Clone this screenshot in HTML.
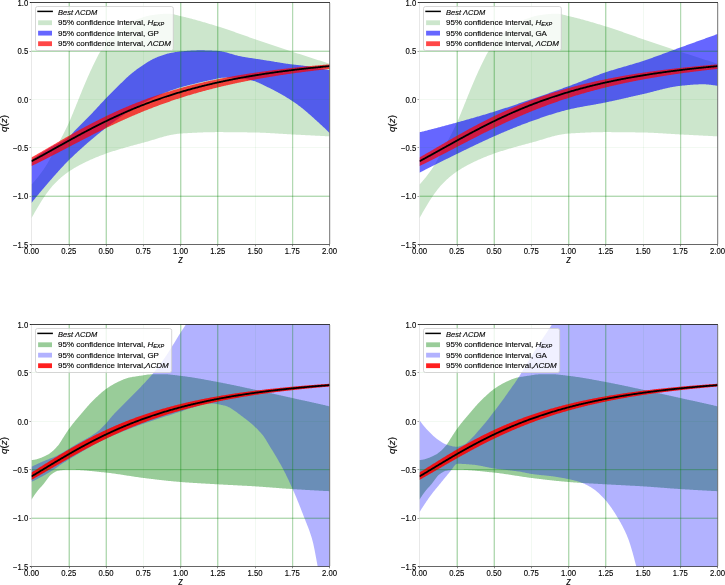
<!DOCTYPE html><html><head><meta charset="utf-8"><style>
html,body{margin:0;padding:0;background:#fff;width:725px;height:585px;overflow:hidden}
svg{display:block;will-change:transform} text{font-family:"Liberation Sans",sans-serif}
</style></head><body>
<svg width="725" height="585" viewBox="0 0 725 585">
<rect width="725" height="585" fill="#fff"/>
<clipPath id="clipTL"><rect x="31.50" y="2.50" width="298.00" height="242.00"/></clipPath>
<g clip-path="url(#clipTL)">
<path d="M31.50,184.48 L32.24,183.70 L32.99,182.89 L33.73,182.07 L34.48,181.22 L35.23,180.36 L35.97,179.48 L36.72,178.57 L37.46,177.66 L38.20,176.72 L38.95,175.77 L39.70,174.80 L40.44,173.82 L41.19,172.81 L41.93,171.79 L42.67,170.74 L43.42,169.67 L44.16,168.57 L44.91,167.45 L45.66,166.30 L46.40,165.12 L47.14,163.90 L47.89,162.62 L48.64,161.30 L49.38,159.94 L50.12,158.55 L50.87,157.15 L51.62,155.74 L52.36,154.33 L53.10,152.94 L53.85,151.57 L54.59,150.22 L55.34,148.88 L56.09,147.55 L56.83,146.22 L57.58,144.88 L58.32,143.54 L59.06,142.19 L59.81,140.82 L60.55,139.43 L61.30,138.02 L62.05,136.59 L62.79,135.16 L63.53,133.71 L64.28,132.26 L65.03,130.78 L65.77,129.28 L66.52,127.76 L67.26,126.21 L68.00,124.63 L68.75,123.02 L69.50,121.36 L70.24,119.64 L70.98,117.89 L71.73,116.10 L72.47,114.29 L73.22,112.46 L73.97,110.62 L74.71,108.77 L75.45,106.93 L76.20,105.11 L76.94,103.28 L77.69,101.44 L78.44,99.58 L79.18,97.71 L79.93,95.85 L80.67,93.99 L81.42,92.14 L82.16,90.31 L82.91,88.50 L83.65,86.72 L84.39,84.95 L85.14,83.20 L85.88,81.45 L86.63,79.72 L87.38,78.00 L88.12,76.31 L88.87,74.63 L89.61,72.98 L90.36,71.36 L91.10,69.78 L91.84,68.20 L92.59,66.62 L93.34,65.04 L94.08,63.47 L94.82,61.91 L95.57,60.38 L96.31,58.88 L97.06,57.41 L97.81,55.99 L98.55,54.62 L99.30,53.31 L100.04,52.07 L100.78,50.90 L101.53,49.78 L102.28,48.69 L103.02,47.63 L103.77,46.59 L104.51,45.58 L105.25,44.60 L106.00,43.64 L106.75,42.71 L107.49,41.80 L108.23,40.92 L108.98,40.06 L109.73,39.23 L110.47,38.42 L111.22,37.63 L111.96,36.87 L112.71,36.13 L113.45,35.41 L114.20,34.71 L114.94,34.01 L115.69,33.32 L116.43,32.64 L117.18,31.96 L117.92,31.29 L118.66,30.64 L119.41,29.99 L120.16,29.36 L120.90,28.74 L121.64,28.14 L122.39,27.54 L123.14,26.97 L123.88,26.40 L124.62,25.86 L125.37,25.33 L126.11,24.83 L126.86,24.34 L127.61,23.87 L128.35,23.42 L129.09,23.00 L129.84,22.59 L130.59,22.21 L131.33,21.86 L132.07,21.52 L132.82,21.18 L133.56,20.85 L134.31,20.53 L135.06,20.21 L135.80,19.89 L136.54,19.59 L137.29,19.29 L138.03,18.99 L138.78,18.70 L139.52,18.42 L140.27,18.15 L141.01,17.89 L141.76,17.63 L142.50,17.38 L143.25,17.14 L144.00,16.91 L144.74,16.69 L145.49,16.48 L146.23,16.28 L146.98,16.09 L147.72,15.91 L148.47,15.75 L149.21,15.59 L149.96,15.44 L150.70,15.31 L151.44,15.19 L152.19,15.08 L152.94,14.98 L153.68,14.88 L154.43,14.78 L155.17,14.69 L155.91,14.59 L156.66,14.50 L157.41,14.41 L158.15,14.32 L158.89,14.24 L159.64,14.16 L160.38,14.08 L161.13,14.01 L161.88,13.94 L162.62,13.88 L163.37,13.83 L164.11,13.78 L164.85,13.73 L165.60,13.70 L166.34,13.67 L167.09,13.65 L167.84,13.64 L168.58,13.63 L169.33,13.65 L170.07,13.70 L170.81,13.78 L171.56,13.88 L172.31,14.01 L173.05,14.16 L173.80,14.32 L174.54,14.50 L175.28,14.69 L176.03,14.89 L176.78,15.09 L177.52,15.29 L178.26,15.49 L179.01,15.69 L179.75,15.88 L180.50,16.05 L181.25,16.22 L181.99,16.40 L182.74,16.57 L183.48,16.75 L184.22,16.93 L184.97,17.11 L185.71,17.29 L186.46,17.48 L187.20,17.66 L187.95,17.85 L188.69,18.04 L189.44,18.23 L190.19,18.43 L190.93,18.62 L191.67,18.82 L192.42,19.02 L193.16,19.22 L193.91,19.42 L194.66,19.62 L195.40,19.83 L196.15,20.03 L196.89,20.24 L197.63,20.45 L198.38,20.65 L199.12,20.86 L199.87,21.08 L200.62,21.29 L201.36,21.50 L202.10,21.72 L202.85,21.93 L203.59,22.15 L204.34,22.37 L205.09,22.59 L205.83,22.81 L206.58,23.03 L207.32,23.25 L208.06,23.47 L208.81,23.69 L209.56,23.92 L210.30,24.14 L211.05,24.37 L211.79,24.59 L212.54,24.82 L213.28,25.04 L214.03,25.27 L214.77,25.50 L215.52,25.72 L216.26,25.95 L217.01,26.18 L217.75,26.41 L218.50,26.64 L219.24,26.87 L219.99,27.11 L220.73,27.34 L221.48,27.58 L222.22,27.82 L222.96,28.06 L223.71,28.31 L224.45,28.55 L225.20,28.80 L225.94,29.05 L226.69,29.30 L227.44,29.55 L228.18,29.80 L228.92,30.06 L229.67,30.31 L230.41,30.57 L231.16,30.82 L231.91,31.08 L232.65,31.34 L233.40,31.60 L234.14,31.86 L234.88,32.12 L235.63,32.39 L236.38,32.65 L237.12,32.91 L237.87,33.18 L238.61,33.44 L239.35,33.70 L240.10,33.97 L240.84,34.23 L241.59,34.50 L242.34,34.76 L243.08,35.03 L243.83,35.29 L244.57,35.56 L245.31,35.82 L246.06,36.08 L246.81,36.35 L247.55,36.61 L248.30,36.87 L249.04,37.13 L249.79,37.39 L250.53,37.65 L251.28,37.91 L252.02,38.17 L252.77,38.42 L253.51,38.68 L254.26,38.93 L255.00,39.19 L255.75,39.44 L256.49,39.69 L257.24,39.94 L257.98,40.20 L258.73,40.45 L259.47,40.70 L260.22,40.95 L260.96,41.21 L261.70,41.46 L262.45,41.71 L263.19,41.96 L263.94,42.21 L264.69,42.47 L265.43,42.72 L266.17,42.97 L266.92,43.22 L267.66,43.47 L268.41,43.72 L269.15,43.98 L269.90,44.23 L270.64,44.48 L271.39,44.73 L272.13,44.98 L272.88,45.23 L273.62,45.48 L274.37,45.73 L275.12,45.98 L275.86,46.23 L276.61,46.48 L277.35,46.73 L278.10,46.98 L278.84,47.23 L279.59,47.48 L280.33,47.73 L281.08,47.97 L281.82,48.22 L282.56,48.47 L283.31,48.72 L284.06,48.97 L284.80,49.21 L285.55,49.46 L286.29,49.71 L287.04,49.95 L287.78,50.20 L288.53,50.45 L289.27,50.69 L290.01,50.94 L290.76,51.18 L291.50,51.43 L292.25,51.67 L293.00,51.92 L293.74,52.16 L294.49,52.41 L295.23,52.65 L295.98,52.90 L296.72,53.14 L297.47,53.38 L298.21,53.63 L298.95,53.87 L299.70,54.11 L300.44,54.36 L301.19,54.60 L301.94,54.84 L302.68,55.08 L303.43,55.33 L304.17,55.57 L304.92,55.81 L305.66,56.05 L306.40,56.29 L307.15,56.53 L307.89,56.77 L308.64,57.01 L309.38,57.26 L310.13,57.50 L310.88,57.74 L311.62,57.98 L312.37,58.22 L313.11,58.46 L313.86,58.69 L314.60,58.93 L315.35,59.17 L316.09,59.41 L316.83,59.65 L317.58,59.89 L318.32,60.13 L319.07,60.37 L319.81,60.60 L320.56,60.84 L321.31,61.08 L322.05,61.32 L322.80,61.55 L323.54,61.79 L324.29,62.03 L325.03,62.26 L325.78,62.50 L326.52,62.74 L327.26,62.97 L328.01,63.21 L328.75,63.44 L329.50,63.68 L329.50,136.37 L328.75,136.34 L328.01,136.30 L327.26,136.26 L326.52,136.22 L325.78,136.18 L325.03,136.14 L324.29,136.10 L323.54,136.06 L322.80,136.03 L322.05,135.99 L321.31,135.95 L320.56,135.91 L319.81,135.87 L319.07,135.83 L318.32,135.79 L317.58,135.75 L316.83,135.72 L316.09,135.68 L315.35,135.64 L314.60,135.60 L313.86,135.56 L313.11,135.52 L312.37,135.48 L311.62,135.45 L310.88,135.41 L310.13,135.37 L309.38,135.33 L308.64,135.29 L307.89,135.25 L307.15,135.21 L306.40,135.17 L305.66,135.14 L304.92,135.10 L304.17,135.06 L303.43,135.02 L302.68,134.98 L301.94,134.94 L301.19,134.90 L300.44,134.86 L299.70,134.83 L298.95,134.79 L298.21,134.75 L297.47,134.71 L296.72,134.67 L295.98,134.63 L295.23,134.59 L294.49,134.55 L293.74,134.52 L293.00,134.48 L292.25,134.44 L291.50,134.40 L290.76,134.36 L290.01,134.32 L289.27,134.28 L288.53,134.23 L287.78,134.19 L287.04,134.15 L286.29,134.10 L285.55,134.06 L284.80,134.01 L284.06,133.96 L283.31,133.92 L282.56,133.87 L281.82,133.82 L281.08,133.78 L280.33,133.73 L279.59,133.68 L278.84,133.63 L278.10,133.59 L277.35,133.54 L276.61,133.49 L275.86,133.45 L275.12,133.40 L274.37,133.35 L273.62,133.31 L272.88,133.26 L272.13,133.22 L271.39,133.18 L270.64,133.13 L269.90,133.09 L269.15,133.05 L268.41,133.01 L267.66,132.97 L266.92,132.93 L266.17,132.89 L265.43,132.86 L264.69,132.82 L263.94,132.79 L263.19,132.76 L262.45,132.72 L261.70,132.69 L260.96,132.67 L260.22,132.64 L259.47,132.61 L258.73,132.59 L257.98,132.57 L257.24,132.55 L256.49,132.53 L255.75,132.52 L255.00,132.50 L254.26,132.49 L253.51,132.48 L252.77,132.46 L252.02,132.45 L251.28,132.44 L250.53,132.43 L249.79,132.41 L249.04,132.40 L248.30,132.39 L247.55,132.38 L246.81,132.37 L246.06,132.36 L245.31,132.35 L244.57,132.33 L243.83,132.32 L243.08,132.31 L242.34,132.30 L241.59,132.29 L240.84,132.28 L240.10,132.27 L239.35,132.26 L238.61,132.25 L237.87,132.25 L237.12,132.24 L236.38,132.23 L235.63,132.22 L234.88,132.21 L234.14,132.20 L233.40,132.20 L232.65,132.19 L231.91,132.18 L231.16,132.18 L230.41,132.17 L229.67,132.16 L228.92,132.16 L228.18,132.15 L227.44,132.15 L226.69,132.14 L225.94,132.14 L225.20,132.13 L224.45,132.13 L223.71,132.13 L222.96,132.12 L222.22,132.12 L221.48,132.12 L220.73,132.12 L219.99,132.12 L219.24,132.12 L218.50,132.12 L217.75,132.12 L217.01,132.12 L216.26,132.12 L215.52,132.12 L214.77,132.13 L214.03,132.13 L213.28,132.14 L212.54,132.15 L211.79,132.16 L211.05,132.17 L210.30,132.19 L209.56,132.20 L208.81,132.22 L208.06,132.23 L207.32,132.25 L206.58,132.27 L205.83,132.29 L205.09,132.31 L204.34,132.34 L203.59,132.36 L202.85,132.39 L202.10,132.41 L201.36,132.44 L200.62,132.47 L199.87,132.50 L199.12,132.53 L198.38,132.56 L197.63,132.59 L196.89,132.63 L196.15,132.66 L195.40,132.70 L194.66,132.73 L193.91,132.77 L193.16,132.81 L192.42,132.85 L191.67,132.89 L190.93,132.93 L190.19,132.97 L189.44,133.01 L188.69,133.05 L187.95,133.10 L187.20,133.14 L186.46,133.18 L185.71,133.23 L184.97,133.28 L184.22,133.32 L183.48,133.37 L182.74,133.42 L181.99,133.47 L181.25,133.52 L180.50,133.57 L179.75,133.62 L179.01,133.69 L178.26,133.76 L177.52,133.84 L176.78,133.94 L176.03,134.04 L175.28,134.14 L174.54,134.26 L173.80,134.38 L173.05,134.52 L172.31,134.65 L171.56,134.80 L170.81,134.95 L170.07,135.11 L169.33,135.27 L168.58,135.44 L167.84,135.62 L167.09,135.80 L166.34,135.99 L165.60,136.18 L164.85,136.37 L164.11,136.57 L163.37,136.77 L162.62,136.98 L161.88,137.19 L161.13,137.40 L160.38,137.62 L159.64,137.83 L158.89,138.05 L158.15,138.27 L157.41,138.50 L156.66,138.72 L155.91,138.95 L155.17,139.17 L154.43,139.40 L153.68,139.63 L152.94,139.85 L152.19,140.08 L151.44,140.30 L150.70,140.53 L149.96,140.75 L149.21,140.97 L148.47,141.19 L147.72,141.41 L146.98,141.63 L146.23,141.84 L145.49,142.05 L144.74,142.26 L144.00,142.47 L143.25,142.67 L142.50,142.87 L141.76,143.06 L141.01,143.26 L140.27,143.46 L139.52,143.66 L138.78,143.86 L138.03,144.06 L137.29,144.26 L136.54,144.46 L135.80,144.66 L135.06,144.86 L134.31,145.06 L133.56,145.26 L132.82,145.47 L132.07,145.67 L131.33,145.87 L130.59,146.08 L129.84,146.29 L129.09,146.49 L128.35,146.70 L127.61,146.91 L126.86,147.12 L126.11,147.33 L125.37,147.54 L124.62,147.75 L123.88,147.97 L123.14,148.18 L122.39,148.40 L121.64,148.62 L120.90,148.84 L120.16,149.06 L119.41,149.28 L118.66,149.50 L117.92,149.73 L117.18,149.96 L116.43,150.19 L115.69,150.42 L114.94,150.65 L114.20,150.89 L113.45,151.12 L112.71,151.36 L111.96,151.60 L111.22,151.84 L110.47,152.09 L109.73,152.34 L108.98,152.58 L108.23,152.84 L107.49,153.09 L106.75,153.35 L106.00,153.60 L105.25,153.87 L104.51,154.13 L103.77,154.40 L103.02,154.67 L102.28,154.95 L101.53,155.23 L100.78,155.51 L100.04,155.80 L99.30,156.09 L98.55,156.39 L97.81,156.69 L97.06,156.99 L96.31,157.29 L95.57,157.60 L94.82,157.92 L94.08,158.23 L93.34,158.55 L92.59,158.88 L91.84,159.21 L91.10,159.54 L90.36,159.87 L89.61,160.21 L88.87,160.56 L88.12,160.90 L87.38,161.25 L86.63,161.61 L85.88,161.96 L85.14,162.32 L84.39,162.68 L83.65,163.05 L82.91,163.42 L82.16,163.79 L81.42,164.17 L80.67,164.56 L79.93,164.95 L79.18,165.34 L78.44,165.74 L77.69,166.15 L76.94,166.56 L76.20,166.98 L75.45,167.41 L74.71,167.84 L73.97,168.28 L73.22,168.73 L72.47,169.19 L71.73,169.65 L70.98,170.13 L70.24,170.61 L69.50,171.11 L68.75,171.61 L68.00,172.12 L67.26,172.65 L66.52,173.19 L65.77,173.75 L65.03,174.32 L64.28,174.90 L63.53,175.49 L62.79,176.10 L62.05,176.73 L61.30,177.36 L60.55,178.01 L59.81,178.67 L59.06,179.35 L58.32,180.04 L57.58,180.75 L56.83,181.47 L56.09,182.20 L55.34,182.95 L54.59,183.71 L53.85,184.48 L53.10,185.28 L52.36,186.12 L51.62,186.98 L50.87,187.88 L50.12,188.80 L49.38,189.75 L48.64,190.73 L47.89,191.72 L47.14,192.74 L46.40,193.77 L45.66,194.82 L44.91,195.88 L44.16,196.95 L43.42,198.04 L42.67,199.15 L41.93,200.30 L41.19,201.49 L40.44,202.71 L39.70,203.94 L38.95,205.20 L38.20,206.46 L37.46,207.72 L36.72,208.98 L35.97,210.25 L35.23,211.54 L34.48,212.84 L33.73,214.16 L32.99,215.48 L32.24,216.82 L31.50,218.17Z" fill="rgb(204,230,204)" fill-opacity="1.0"/>
<path d="M31.50,159.80 L32.24,159.29 L32.99,158.78 L33.73,158.27 L34.48,157.77 L35.23,157.26 L35.97,156.76 L36.72,156.26 L37.46,155.77 L38.20,155.27 L38.95,154.78 L39.70,154.29 L40.44,153.81 L41.19,153.32 L41.93,152.84 L42.67,152.36 L43.42,151.88 L44.16,151.41 L44.91,150.93 L45.66,150.47 L46.40,150.00 L47.14,149.53 L47.89,149.07 L48.64,148.61 L49.38,148.15 L50.12,147.70 L50.87,147.25 L51.62,146.82 L52.36,146.41 L53.10,146.00 L53.85,145.61 L54.59,145.22 L55.34,144.84 L56.09,144.46 L56.83,144.09 L57.58,143.71 L58.32,143.34 L59.06,142.96 L59.81,142.58 L60.55,142.19 L61.30,141.80 L62.05,141.40 L62.79,140.98 L63.53,140.55 L64.28,140.11 L65.03,139.65 L65.77,139.18 L66.52,138.68 L67.26,138.16 L68.00,137.62 L68.75,137.05 L69.50,136.43 L70.24,135.72 L70.98,134.96 L71.73,134.14 L72.47,133.30 L73.22,132.44 L73.97,131.59 L74.71,130.75 L75.45,129.95 L76.20,129.18 L76.94,128.42 L77.69,127.66 L78.44,126.91 L79.18,126.17 L79.93,125.43 L80.67,124.69 L81.42,123.95 L82.16,123.22 L82.91,122.48 L83.65,121.75 L84.39,121.01 L85.14,120.27 L85.88,119.53 L86.63,118.79 L87.38,118.04 L88.12,117.29 L88.87,116.54 L89.61,115.77 L90.36,115.00 L91.10,114.23 L91.84,113.44 L92.59,112.66 L93.34,111.86 L94.08,111.07 L94.82,110.27 L95.57,109.46 L96.31,108.66 L97.06,107.85 L97.81,107.05 L98.55,106.24 L99.30,105.43 L100.04,104.62 L100.78,103.82 L101.53,103.02 L102.28,102.22 L103.02,101.42 L103.77,100.63 L104.51,99.85 L105.25,99.07 L106.00,98.29 L106.75,97.52 L107.49,96.76 L108.23,95.99 L108.98,95.23 L109.73,94.47 L110.47,93.72 L111.22,92.96 L111.96,92.21 L112.71,91.46 L113.45,90.71 L114.20,89.97 L114.94,89.23 L115.69,88.49 L116.43,87.75 L117.18,87.02 L117.92,86.28 L118.66,85.55 L119.41,84.83 L120.16,84.10 L120.90,83.37 L121.64,82.64 L122.39,81.91 L123.14,81.18 L123.88,80.45 L124.62,79.73 L125.37,79.01 L126.11,78.30 L126.86,77.60 L127.61,76.91 L128.35,76.24 L129.09,75.58 L129.84,74.94 L130.59,74.31 L131.33,73.69 L132.07,73.08 L132.82,72.47 L133.56,71.88 L134.31,71.29 L135.06,70.71 L135.80,70.14 L136.54,69.58 L137.29,69.02 L138.03,68.48 L138.78,67.94 L139.52,67.42 L140.27,66.90 L141.01,66.40 L141.76,65.90 L142.50,65.41 L143.25,64.91 L144.00,64.42 L144.74,63.94 L145.49,63.45 L146.23,62.98 L146.98,62.51 L147.72,62.05 L148.47,61.59 L149.21,61.15 L149.96,60.72 L150.70,60.29 L151.44,59.89 L152.19,59.49 L152.94,59.11 L153.68,58.74 L154.43,58.39 L155.17,58.06 L155.91,57.74 L156.66,57.43 L157.41,57.12 L158.15,56.81 L158.89,56.51 L159.64,56.22 L160.38,55.94 L161.13,55.66 L161.88,55.39 L162.62,55.13 L163.37,54.88 L164.11,54.64 L164.85,54.41 L165.60,54.19 L166.34,53.98 L167.09,53.78 L167.84,53.59 L168.58,53.42 L169.33,53.26 L170.07,53.10 L170.81,52.95 L171.56,52.80 L172.31,52.65 L173.05,52.51 L173.80,52.38 L174.54,52.25 L175.28,52.12 L176.03,52.00 L176.78,51.88 L177.52,51.77 L178.26,51.67 L179.01,51.57 L179.75,51.48 L180.50,51.40 L181.25,51.32 L181.99,51.25 L182.74,51.19 L183.48,51.13 L184.22,51.08 L184.97,51.02 L185.71,50.96 L186.46,50.91 L187.20,50.85 L187.95,50.80 L188.69,50.75 L189.44,50.70 L190.19,50.66 L190.93,50.61 L191.67,50.57 L192.42,50.53 L193.16,50.49 L193.91,50.46 L194.66,50.43 L195.40,50.40 L196.15,50.38 L196.89,50.36 L197.63,50.34 L198.38,50.33 L199.12,50.32 L199.87,50.32 L200.62,50.32 L201.36,50.32 L202.10,50.33 L202.85,50.34 L203.59,50.35 L204.34,50.36 L205.09,50.38 L205.83,50.39 L206.58,50.41 L207.32,50.43 L208.06,50.46 L208.81,50.48 L209.56,50.51 L210.30,50.54 L211.05,50.57 L211.79,50.60 L212.54,50.63 L213.28,50.67 L214.03,50.70 L214.77,50.74 L215.52,50.78 L216.26,50.82 L217.01,50.86 L217.75,50.90 L218.50,50.95 L219.24,51.02 L219.99,51.11 L220.73,51.22 L221.48,51.34 L222.22,51.48 L222.96,51.63 L223.71,51.79 L224.45,51.96 L225.20,52.15 L225.94,52.34 L226.69,52.54 L227.44,52.75 L228.18,52.97 L228.92,53.18 L229.67,53.41 L230.41,53.63 L231.16,53.85 L231.91,54.08 L232.65,54.30 L233.40,54.52 L234.14,54.74 L234.88,54.96 L235.63,55.16 L236.38,55.36 L237.12,55.56 L237.87,55.74 L238.61,55.91 L239.35,56.07 L240.10,56.22 L240.84,56.37 L241.59,56.50 L242.34,56.64 L243.08,56.77 L243.83,56.90 L244.57,57.03 L245.31,57.16 L246.06,57.28 L246.81,57.40 L247.55,57.53 L248.30,57.64 L249.04,57.76 L249.79,57.88 L250.53,57.99 L251.28,58.11 L252.02,58.22 L252.77,58.33 L253.51,58.45 L254.26,58.56 L255.00,58.67 L255.75,58.78 L256.49,58.89 L257.24,59.00 L257.98,59.11 L258.73,59.22 L259.47,59.34 L260.22,59.45 L260.96,59.56 L261.70,59.67 L262.45,59.79 L263.19,59.91 L263.94,60.02 L264.69,60.14 L265.43,60.26 L266.17,60.38 L266.92,60.50 L267.66,60.63 L268.41,60.75 L269.15,60.87 L269.90,61.00 L270.64,61.12 L271.39,61.25 L272.13,61.37 L272.88,61.50 L273.62,61.62 L274.37,61.75 L275.12,61.88 L275.86,62.00 L276.61,62.12 L277.35,62.25 L278.10,62.37 L278.84,62.49 L279.59,62.62 L280.33,62.74 L281.08,62.86 L281.82,62.98 L282.56,63.09 L283.31,63.21 L284.06,63.32 L284.80,63.44 L285.55,63.55 L286.29,63.66 L287.04,63.76 L287.78,63.87 L288.53,63.97 L289.27,64.07 L290.01,64.17 L290.76,64.27 L291.50,64.36 L292.25,64.45 L293.00,64.54 L293.74,64.62 L294.49,64.70 L295.23,64.77 L295.98,64.84 L296.72,64.91 L297.47,64.99 L298.21,65.06 L298.95,65.14 L299.70,65.23 L300.44,65.32 L301.19,65.41 L301.94,65.50 L302.68,65.59 L303.43,65.69 L304.17,65.79 L304.92,65.89 L305.66,65.99 L306.40,66.10 L307.15,66.20 L307.89,66.31 L308.64,66.42 L309.38,66.53 L310.13,66.65 L310.88,66.76 L311.62,66.88 L312.37,66.99 L313.11,67.11 L313.86,67.23 L314.60,67.36 L315.35,67.48 L316.09,67.61 L316.83,67.74 L317.58,67.87 L318.32,68.00 L319.07,68.14 L319.81,68.28 L320.56,68.42 L321.31,68.56 L322.05,68.70 L322.80,68.85 L323.54,69.00 L324.29,69.15 L325.03,69.30 L325.78,69.46 L326.52,69.62 L327.26,69.77 L328.01,69.93 L328.75,70.10 L329.50,70.26 L329.50,132.89 L328.75,132.16 L328.01,131.44 L327.26,130.72 L326.52,130.00 L325.78,129.29 L325.03,128.57 L324.29,127.86 L323.54,127.16 L322.80,126.46 L322.05,125.76 L321.31,125.07 L320.56,124.38 L319.81,123.69 L319.07,123.02 L318.32,122.34 L317.58,121.66 L316.83,120.98 L316.09,120.31 L315.35,119.63 L314.60,118.96 L313.86,118.28 L313.11,117.61 L312.37,116.94 L311.62,116.27 L310.88,115.61 L310.13,114.95 L309.38,114.29 L308.64,113.64 L307.89,112.99 L307.15,112.35 L306.40,111.71 L305.66,111.08 L304.92,110.45 L304.17,109.83 L303.43,109.22 L302.68,108.61 L301.94,108.01 L301.19,107.42 L300.44,106.84 L299.70,106.27 L298.95,105.71 L298.21,105.16 L297.47,104.62 L296.72,104.09 L295.98,103.56 L295.23,103.05 L294.49,102.54 L293.74,102.04 L293.00,101.54 L292.25,101.04 L291.50,100.55 L290.76,100.06 L290.01,99.57 L289.27,99.09 L288.53,98.61 L287.78,98.14 L287.04,97.67 L286.29,97.21 L285.55,96.76 L284.80,96.31 L284.06,95.86 L283.31,95.43 L282.56,95.00 L281.82,94.57 L281.08,94.15 L280.33,93.73 L279.59,93.31 L278.84,92.90 L278.10,92.49 L277.35,92.08 L276.61,91.68 L275.86,91.28 L275.12,90.88 L274.37,90.49 L273.62,90.10 L272.88,89.72 L272.13,89.34 L271.39,88.96 L270.64,88.59 L269.90,88.22 L269.15,87.85 L268.41,87.49 L267.66,87.13 L266.92,86.76 L266.17,86.39 L265.43,86.02 L264.69,85.64 L263.94,85.27 L263.19,84.90 L262.45,84.53 L261.70,84.17 L260.96,83.81 L260.22,83.46 L259.47,83.13 L258.73,82.80 L257.98,82.48 L257.24,82.18 L256.49,81.89 L255.75,81.62 L255.00,81.36 L254.26,81.12 L253.51,80.91 L252.77,80.70 L252.02,80.50 L251.28,80.30 L250.53,80.10 L249.79,79.91 L249.04,79.72 L248.30,79.54 L247.55,79.37 L246.81,79.20 L246.06,79.04 L245.31,78.90 L244.57,78.76 L243.83,78.63 L243.08,78.52 L242.34,78.42 L241.59,78.33 L240.84,78.25 L240.10,78.20 L239.35,78.15 L238.61,78.10 L237.87,78.06 L237.12,78.01 L236.38,77.97 L235.63,77.93 L234.88,77.89 L234.14,77.85 L233.40,77.82 L232.65,77.78 L231.91,77.75 L231.16,77.73 L230.41,77.70 L229.67,77.68 L228.92,77.66 L228.18,77.65 L227.44,77.63 L226.69,77.62 L225.94,77.62 L225.20,77.62 L224.45,77.63 L223.71,77.66 L222.96,77.71 L222.22,77.79 L221.48,77.87 L220.73,77.98 L219.99,78.10 L219.24,78.23 L218.50,78.37 L217.75,78.51 L217.01,78.67 L216.26,78.83 L215.52,79.00 L214.77,79.17 L214.03,79.33 L213.28,79.50 L212.54,79.67 L211.79,79.83 L211.05,79.99 L210.30,80.13 L209.56,80.28 L208.81,80.43 L208.06,80.58 L207.32,80.74 L206.58,80.90 L205.83,81.06 L205.09,81.23 L204.34,81.40 L203.59,81.56 L202.85,81.74 L202.10,81.91 L201.36,82.09 L200.62,82.26 L199.87,82.44 L199.12,82.62 L198.38,82.80 L197.63,82.98 L196.89,83.16 L196.15,83.34 L195.40,83.52 L194.66,83.70 L193.91,83.88 L193.16,84.06 L192.42,84.25 L191.67,84.43 L190.93,84.61 L190.19,84.80 L189.44,84.98 L188.69,85.17 L187.95,85.36 L187.20,85.55 L186.46,85.74 L185.71,85.94 L184.97,86.14 L184.22,86.34 L183.48,86.54 L182.74,86.75 L181.99,86.96 L181.25,87.17 L180.50,87.39 L179.75,87.62 L179.01,87.84 L178.26,88.07 L177.52,88.31 L176.78,88.54 L176.03,88.78 L175.28,89.03 L174.54,89.27 L173.80,89.53 L173.05,89.78 L172.31,90.04 L171.56,90.30 L170.81,90.57 L170.07,90.84 L169.33,91.11 L168.58,91.38 L167.84,91.66 L167.09,91.95 L166.34,92.23 L165.60,92.52 L164.85,92.82 L164.11,93.12 L163.37,93.43 L162.62,93.74 L161.88,94.05 L161.13,94.38 L160.38,94.70 L159.64,95.04 L158.89,95.37 L158.15,95.71 L157.41,96.06 L156.66,96.40 L155.91,96.76 L155.17,97.11 L154.43,97.47 L153.68,97.83 L152.94,98.19 L152.19,98.56 L151.44,98.93 L150.70,99.30 L149.96,99.67 L149.21,100.05 L148.47,100.43 L147.72,100.81 L146.98,101.20 L146.23,101.59 L145.49,101.98 L144.74,102.37 L144.00,102.77 L143.25,103.17 L142.50,103.58 L141.76,103.98 L141.01,104.40 L140.27,104.81 L139.52,105.23 L138.78,105.65 L138.03,106.07 L137.29,106.50 L136.54,106.93 L135.80,107.36 L135.06,107.80 L134.31,108.24 L133.56,108.68 L132.82,109.13 L132.07,109.58 L131.33,110.03 L130.59,110.49 L129.84,110.95 L129.09,111.42 L128.35,111.88 L127.61,112.36 L126.86,112.83 L126.11,113.32 L125.37,113.80 L124.62,114.30 L123.88,114.79 L123.14,115.29 L122.39,115.80 L121.64,116.31 L120.90,116.82 L120.16,117.34 L119.41,117.87 L118.66,118.39 L117.92,118.92 L117.18,119.46 L116.43,119.99 L115.69,120.54 L114.94,121.08 L114.20,121.63 L113.45,122.18 L112.71,122.74 L111.96,123.29 L111.22,123.85 L110.47,124.42 L109.73,124.98 L108.98,125.55 L108.23,126.12 L107.49,126.70 L106.75,127.28 L106.00,127.85 L105.25,128.43 L104.51,129.02 L103.77,129.60 L103.02,130.19 L102.28,130.78 L101.53,131.37 L100.78,131.97 L100.04,132.56 L99.30,133.16 L98.55,133.76 L97.81,134.37 L97.06,134.98 L96.31,135.59 L95.57,136.20 L94.82,136.81 L94.08,137.43 L93.34,138.05 L92.59,138.67 L91.84,139.30 L91.10,139.93 L90.36,140.56 L89.61,141.20 L88.87,141.83 L88.12,142.47 L87.38,143.12 L86.63,143.76 L85.88,144.41 L85.14,145.07 L84.39,145.72 L83.65,146.38 L82.91,147.04 L82.16,147.71 L81.42,148.38 L80.67,149.05 L79.93,149.73 L79.18,150.40 L78.44,151.09 L77.69,151.77 L76.94,152.46 L76.20,153.15 L75.45,153.85 L74.71,154.55 L73.97,155.25 L73.22,155.96 L72.47,156.67 L71.73,157.39 L70.98,158.11 L70.24,158.83 L69.50,159.55 L68.75,160.28 L68.00,161.02 L67.26,161.77 L66.52,162.52 L65.77,163.29 L65.03,164.06 L64.28,164.84 L63.53,165.63 L62.79,166.42 L62.05,167.23 L61.30,168.03 L60.55,168.85 L59.81,169.67 L59.06,170.49 L58.32,171.32 L57.58,172.15 L56.83,172.99 L56.09,173.83 L55.34,174.67 L54.59,175.52 L53.85,176.36 L53.10,177.21 L52.36,178.06 L51.62,178.91 L50.87,179.76 L50.12,180.61 L49.38,181.46 L48.64,182.32 L47.89,183.18 L47.14,184.04 L46.40,184.90 L45.66,185.77 L44.91,186.64 L44.16,187.52 L43.42,188.40 L42.67,189.28 L41.93,190.16 L41.19,191.05 L40.44,191.94 L39.70,192.84 L38.95,193.73 L38.20,194.63 L37.46,195.54 L36.72,196.44 L35.97,197.35 L35.23,198.27 L34.48,199.18 L33.73,200.10 L32.99,201.02 L32.24,201.95 L31.50,202.88Z" fill="rgb(0,0,255)" fill-opacity="0.6"/>
<path d="M31.50,157.48 L32.24,157.05 L32.99,156.62 L33.73,156.20 L34.48,155.77 L35.23,155.34 L35.97,154.91 L36.72,154.48 L37.46,154.05 L38.20,153.62 L38.95,153.19 L39.70,152.76 L40.44,152.32 L41.19,151.89 L41.93,151.46 L42.67,151.02 L43.42,150.59 L44.16,150.16 L44.91,149.72 L45.66,149.29 L46.40,148.85 L47.14,148.42 L47.89,147.98 L48.64,147.55 L49.38,147.11 L50.12,146.68 L50.87,146.24 L51.62,145.81 L52.36,145.38 L53.10,144.94 L53.85,144.51 L54.59,144.07 L55.34,143.64 L56.09,143.21 L56.83,142.77 L57.58,142.34 L58.32,141.91 L59.06,141.48 L59.81,141.05 L60.55,140.62 L61.30,140.19 L62.05,139.76 L62.79,139.33 L63.53,138.90 L64.28,138.47 L65.03,138.05 L65.77,137.62 L66.52,137.19 L67.26,136.77 L68.00,136.34 L68.75,135.92 L69.50,135.50 L70.24,135.08 L70.98,134.66 L71.73,134.24 L72.47,133.82 L73.22,133.40 L73.97,132.98 L74.71,132.57 L75.45,132.15 L76.20,131.74 L76.94,131.32 L77.69,130.91 L78.44,130.50 L79.18,130.09 L79.93,129.68 L80.67,129.28 L81.42,128.87 L82.16,128.47 L82.91,128.06 L83.65,127.66 L84.39,127.26 L85.14,126.86 L85.88,126.46 L86.63,126.06 L87.38,125.66 L88.12,125.27 L88.87,124.88 L89.61,124.48 L90.36,124.09 L91.10,123.70 L91.84,123.31 L92.59,122.93 L93.34,122.54 L94.08,122.16 L94.82,121.78 L95.57,121.39 L96.31,121.02 L97.06,120.64 L97.81,120.26 L98.55,119.88 L99.30,119.51 L100.04,119.14 L100.78,118.77 L101.53,118.40 L102.28,118.03 L103.02,117.66 L103.77,117.30 L104.51,116.94 L105.25,116.57 L106.00,116.21 L106.75,115.86 L107.49,115.50 L108.23,115.14 L108.98,114.79 L109.73,114.44 L110.47,114.09 L111.22,113.74 L111.96,113.39 L112.71,113.04 L113.45,112.70 L114.20,112.36 L114.94,112.02 L115.69,111.68 L116.43,111.34 L117.18,111.00 L117.92,110.67 L118.66,110.33 L119.41,110.00 L120.16,109.67 L120.90,109.35 L121.64,109.02 L122.39,108.69 L123.14,108.37 L123.88,108.05 L124.62,107.73 L125.37,107.41 L126.11,107.09 L126.86,106.78 L127.61,106.46 L128.35,106.15 L129.09,105.84 L129.84,105.53 L130.59,105.23 L131.33,104.92 L132.07,104.62 L132.82,104.31 L133.56,104.01 L134.31,103.71 L135.06,103.42 L135.80,103.12 L136.54,102.83 L137.29,102.53 L138.03,102.24 L138.78,101.95 L139.52,101.67 L140.27,101.38 L141.01,101.10 L141.76,100.81 L142.50,100.53 L143.25,100.25 L144.00,99.97 L144.74,99.70 L145.49,99.42 L146.23,99.15 L146.98,98.87 L147.72,98.60 L148.47,98.33 L149.21,98.07 L149.96,97.80 L150.70,97.54 L151.44,97.27 L152.19,97.01 L152.94,96.75 L153.68,96.49 L154.43,96.24 L155.17,95.98 L155.91,95.73 L156.66,95.47 L157.41,95.22 L158.15,94.97 L158.89,94.72 L159.64,94.48 L160.38,94.23 L161.13,93.99 L161.88,93.75 L162.62,93.51 L163.37,93.27 L164.11,93.03 L164.85,92.79 L165.60,92.56 L166.34,92.32 L167.09,92.09 L167.84,91.86 L168.58,91.63 L169.33,91.40 L170.07,91.17 L170.81,90.95 L171.56,90.72 L172.31,90.50 L173.05,90.28 L173.80,90.06 L174.54,89.84 L175.28,89.62 L176.03,89.41 L176.78,89.19 L177.52,88.98 L178.26,88.77 L179.01,88.56 L179.75,88.35 L180.50,88.14 L181.25,87.93 L181.99,87.73 L182.74,87.52 L183.48,87.32 L184.22,87.12 L184.97,86.92 L185.71,86.72 L186.46,86.52 L187.20,86.32 L187.95,86.12 L188.69,85.93 L189.44,85.74 L190.19,85.54 L190.93,85.35 L191.67,85.16 L192.42,84.98 L193.16,84.79 L193.91,84.60 L194.66,84.42 L195.40,84.23 L196.15,84.05 L196.89,83.87 L197.63,83.69 L198.38,83.51 L199.12,83.33 L199.87,83.15 L200.62,82.98 L201.36,82.80 L202.10,82.63 L202.85,82.45 L203.59,82.28 L204.34,82.11 L205.09,81.94 L205.83,81.77 L206.58,81.61 L207.32,81.44 L208.06,81.27 L208.81,81.11 L209.56,80.95 L210.30,80.78 L211.05,80.62 L211.79,80.46 L212.54,80.30 L213.28,80.14 L214.03,79.99 L214.77,79.83 L215.52,79.68 L216.26,79.52 L217.01,79.37 L217.75,79.22 L218.50,79.06 L219.24,78.91 L219.99,78.76 L220.73,78.62 L221.48,78.47 L222.22,78.32 L222.96,78.17 L223.71,78.03 L224.45,77.89 L225.20,77.74 L225.94,77.60 L226.69,77.46 L227.44,77.32 L228.18,77.18 L228.92,77.04 L229.67,76.90 L230.41,76.77 L231.16,76.63 L231.91,76.49 L232.65,76.36 L233.40,76.23 L234.14,76.09 L234.88,75.96 L235.63,75.83 L236.38,75.70 L237.12,75.57 L237.87,75.44 L238.61,75.31 L239.35,75.19 L240.10,75.06 L240.84,74.94 L241.59,74.81 L242.34,74.69 L243.08,74.56 L243.83,74.44 L244.57,74.32 L245.31,74.20 L246.06,74.08 L246.81,73.96 L247.55,73.84 L248.30,73.72 L249.04,73.61 L249.79,73.49 L250.53,73.37 L251.28,73.26 L252.02,73.14 L252.77,73.03 L253.51,72.92 L254.26,72.81 L255.00,72.69 L255.75,72.58 L256.49,72.47 L257.24,72.36 L257.98,72.25 L258.73,72.15 L259.47,72.04 L260.22,71.93 L260.96,71.83 L261.70,71.72 L262.45,71.62 L263.19,71.51 L263.94,71.41 L264.69,71.31 L265.43,71.20 L266.17,71.10 L266.92,71.00 L267.66,70.90 L268.41,70.80 L269.15,70.70 L269.90,70.60 L270.64,70.50 L271.39,70.41 L272.13,70.31 L272.88,70.21 L273.62,70.12 L274.37,70.02 L275.12,69.93 L275.86,69.84 L276.61,69.74 L277.35,69.65 L278.10,69.56 L278.84,69.47 L279.59,69.38 L280.33,69.28 L281.08,69.19 L281.82,69.11 L282.56,69.02 L283.31,68.93 L284.06,68.84 L284.80,68.75 L285.55,68.67 L286.29,68.58 L287.04,68.49 L287.78,68.41 L288.53,68.32 L289.27,68.24 L290.01,68.16 L290.76,68.07 L291.50,67.99 L292.25,67.91 L293.00,67.83 L293.74,67.75 L294.49,67.67 L295.23,67.59 L295.98,67.51 L296.72,67.43 L297.47,67.35 L298.21,67.27 L298.95,67.19 L299.70,67.11 L300.44,67.04 L301.19,66.96 L301.94,66.88 L302.68,66.81 L303.43,66.73 L304.17,66.66 L304.92,66.58 L305.66,66.51 L306.40,66.44 L307.15,66.36 L307.89,66.29 L308.64,66.22 L309.38,66.15 L310.13,66.08 L310.88,66.01 L311.62,65.94 L312.37,65.87 L313.11,65.80 L313.86,65.73 L314.60,65.66 L315.35,65.59 L316.09,65.52 L316.83,65.45 L317.58,65.39 L318.32,65.32 L319.07,65.25 L319.81,65.19 L320.56,65.12 L321.31,65.06 L322.05,64.99 L322.80,64.93 L323.54,64.86 L324.29,64.80 L325.03,64.74 L325.78,64.67 L326.52,64.61 L327.26,64.55 L328.01,64.49 L328.75,64.42 L329.50,64.36 L329.50,68.94 L328.75,69.02 L328.01,69.10 L327.26,69.18 L326.52,69.26 L325.78,69.34 L325.03,69.42 L324.29,69.51 L323.54,69.59 L322.80,69.67 L322.05,69.75 L321.31,69.84 L320.56,69.92 L319.81,70.01 L319.07,70.09 L318.32,70.18 L317.58,70.26 L316.83,70.35 L316.09,70.44 L315.35,70.52 L314.60,70.61 L313.86,70.70 L313.11,70.79 L312.37,70.88 L311.62,70.97 L310.88,71.06 L310.13,71.15 L309.38,71.24 L308.64,71.33 L307.89,71.42 L307.15,71.52 L306.40,71.61 L305.66,71.70 L304.92,71.80 L304.17,71.89 L303.43,71.99 L302.68,72.09 L301.94,72.18 L301.19,72.28 L300.44,72.38 L299.70,72.47 L298.95,72.57 L298.21,72.67 L297.47,72.77 L296.72,72.87 L295.98,72.97 L295.23,73.07 L294.49,73.18 L293.74,73.28 L293.00,73.38 L292.25,73.49 L291.50,73.59 L290.76,73.70 L290.01,73.80 L289.27,73.91 L288.53,74.01 L287.78,74.12 L287.04,74.23 L286.29,74.34 L285.55,74.45 L284.80,74.56 L284.06,74.67 L283.31,74.78 L282.56,74.89 L281.82,75.00 L281.08,75.11 L280.33,75.23 L279.59,75.34 L278.84,75.46 L278.10,75.57 L277.35,75.69 L276.61,75.80 L275.86,75.92 L275.12,76.04 L274.37,76.16 L273.62,76.28 L272.88,76.40 L272.13,76.52 L271.39,76.64 L270.64,76.76 L269.90,76.88 L269.15,77.01 L268.41,77.13 L267.66,77.26 L266.92,77.38 L266.17,77.51 L265.43,77.64 L264.69,77.76 L263.94,77.89 L263.19,78.02 L262.45,78.15 L261.70,78.28 L260.96,78.41 L260.22,78.54 L259.47,78.68 L258.73,78.81 L257.98,78.95 L257.24,79.08 L256.49,79.22 L255.75,79.35 L255.00,79.49 L254.26,79.63 L253.51,79.77 L252.77,79.91 L252.02,80.05 L251.28,80.19 L250.53,80.33 L249.79,80.47 L249.04,80.62 L248.30,80.76 L247.55,80.91 L246.81,81.05 L246.06,81.20 L245.31,81.35 L244.57,81.50 L243.83,81.65 L243.08,81.80 L242.34,81.95 L241.59,82.10 L240.84,82.25 L240.10,82.41 L239.35,82.56 L238.61,82.72 L237.87,82.87 L237.12,83.03 L236.38,83.19 L235.63,83.35 L234.88,83.51 L234.14,83.67 L233.40,83.83 L232.65,83.99 L231.91,84.16 L231.16,84.32 L230.41,84.49 L229.67,84.65 L228.92,84.82 L228.18,84.99 L227.44,85.16 L226.69,85.33 L225.94,85.50 L225.20,85.67 L224.45,85.84 L223.71,86.02 L222.96,86.19 L222.22,86.37 L221.48,86.54 L220.73,86.72 L219.99,86.90 L219.24,87.08 L218.50,87.26 L217.75,87.44 L217.01,87.63 L216.26,87.81 L215.52,88.00 L214.77,88.18 L214.03,88.37 L213.28,88.56 L212.54,88.74 L211.79,88.93 L211.05,89.13 L210.30,89.32 L209.56,89.51 L208.81,89.71 L208.06,89.90 L207.32,90.10 L206.58,90.29 L205.83,90.49 L205.09,90.69 L204.34,90.89 L203.59,91.09 L202.85,91.30 L202.10,91.50 L201.36,91.71 L200.62,91.91 L199.87,92.12 L199.12,92.33 L198.38,92.54 L197.63,92.75 L196.89,92.96 L196.15,93.17 L195.40,93.39 L194.66,93.60 L193.91,93.82 L193.16,94.04 L192.42,94.26 L191.67,94.48 L190.93,94.70 L190.19,94.92 L189.44,95.14 L188.69,95.37 L187.95,95.59 L187.20,95.82 L186.46,96.05 L185.71,96.28 L184.97,96.51 L184.22,96.74 L183.48,96.97 L182.74,97.21 L181.99,97.44 L181.25,97.68 L180.50,97.92 L179.75,98.16 L179.01,98.40 L178.26,98.64 L177.52,98.88 L176.78,99.12 L176.03,99.37 L175.28,99.62 L174.54,99.86 L173.80,100.11 L173.05,100.36 L172.31,100.61 L171.56,100.87 L170.81,101.12 L170.07,101.38 L169.33,101.63 L168.58,101.89 L167.84,102.15 L167.09,102.41 L166.34,102.67 L165.60,102.93 L164.85,103.20 L164.11,103.46 L163.37,103.73 L162.62,104.00 L161.88,104.27 L161.13,104.54 L160.38,104.81 L159.64,105.08 L158.89,105.36 L158.15,105.64 L157.41,105.91 L156.66,106.19 L155.91,106.47 L155.17,106.75 L154.43,107.03 L153.68,107.32 L152.94,107.60 L152.19,107.89 L151.44,108.18 L150.70,108.47 L149.96,108.76 L149.21,109.05 L148.47,109.34 L147.72,109.63 L146.98,109.93 L146.23,110.23 L145.49,110.52 L144.74,110.82 L144.00,111.12 L143.25,111.43 L142.50,111.73 L141.76,112.03 L141.01,112.34 L140.27,112.65 L139.52,112.95 L138.78,113.26 L138.03,113.58 L137.29,113.89 L136.54,114.20 L135.80,114.52 L135.06,114.83 L134.31,115.15 L133.56,115.47 L132.82,115.79 L132.07,116.11 L131.33,116.43 L130.59,116.75 L129.84,117.08 L129.09,117.41 L128.35,117.73 L127.61,118.06 L126.86,118.39 L126.11,118.72 L125.37,119.05 L124.62,119.39 L123.88,119.72 L123.14,120.06 L122.39,120.39 L121.64,120.73 L120.90,121.07 L120.16,121.41 L119.41,121.75 L118.66,122.10 L117.92,122.44 L117.18,122.79 L116.43,123.13 L115.69,123.48 L114.94,123.83 L114.20,124.18 L113.45,124.53 L112.71,124.88 L111.96,125.23 L111.22,125.59 L110.47,125.94 L109.73,126.30 L108.98,126.66 L108.23,127.01 L107.49,127.37 L106.75,127.73 L106.00,128.09 L105.25,128.46 L104.51,128.82 L103.77,129.18 L103.02,129.55 L102.28,129.91 L101.53,130.28 L100.78,130.65 L100.04,131.02 L99.30,131.39 L98.55,131.76 L97.81,132.13 L97.06,132.50 L96.31,132.87 L95.57,133.24 L94.82,133.62 L94.08,133.99 L93.34,134.37 L92.59,134.75 L91.84,135.12 L91.10,135.50 L90.36,135.88 L89.61,136.26 L88.87,136.64 L88.12,137.02 L87.38,137.40 L86.63,137.78 L85.88,138.17 L85.14,138.55 L84.39,138.93 L83.65,139.32 L82.91,139.70 L82.16,140.09 L81.42,140.47 L80.67,140.86 L79.93,141.24 L79.18,141.63 L78.44,142.02 L77.69,142.40 L76.94,142.79 L76.20,143.18 L75.45,143.57 L74.71,143.96 L73.97,144.34 L73.22,144.73 L72.47,145.12 L71.73,145.51 L70.98,145.90 L70.24,146.29 L69.50,146.68 L68.75,147.07 L68.00,147.46 L67.26,147.85 L66.52,148.24 L65.77,148.63 L65.03,149.02 L64.28,149.41 L63.53,149.80 L62.79,150.19 L62.05,150.58 L61.30,150.96 L60.55,151.35 L59.81,151.74 L59.06,152.13 L58.32,152.52 L57.58,152.91 L56.83,153.29 L56.09,153.68 L55.34,154.07 L54.59,154.45 L53.85,154.84 L53.10,155.22 L52.36,155.61 L51.62,155.99 L50.87,156.37 L50.12,156.76 L49.38,157.14 L48.64,157.52 L47.89,157.90 L47.14,158.28 L46.40,158.66 L45.66,159.04 L44.91,159.42 L44.16,159.79 L43.42,160.17 L42.67,160.54 L41.93,160.92 L41.19,161.29 L40.44,161.66 L39.70,162.04 L38.95,162.41 L38.20,162.77 L37.46,163.14 L36.72,163.51 L35.97,163.88 L35.23,164.24 L34.48,164.60 L33.73,164.97 L32.99,165.33 L32.24,165.69 L31.50,166.04Z" fill="rgb(255,0,0)" fill-opacity="0.72"/>
<rect x="69" y="2.0" width="1" height="243.0" fill="rgb(0,128,0)" fill-opacity="0.3"/>
<rect x="68" y="2.0" width="1" height="243.0" fill="rgb(0,128,0)" fill-opacity="0.14"/>
<rect x="106" y="2.0" width="1" height="243.0" fill="rgb(0,128,0)" fill-opacity="0.3"/>
<rect x="105" y="2.0" width="1" height="243.0" fill="rgb(0,128,0)" fill-opacity="0.12"/>
<rect x="143" y="2.0" width="1" height="243.0" fill="rgb(0,128,0)" fill-opacity="0.05"/>
<rect x="180" y="2.0" width="1" height="243.0" fill="rgb(0,128,0)" fill-opacity="0.3"/>
<rect x="181" y="2.0" width="1" height="243.0" fill="rgb(0,128,0)" fill-opacity="0.12"/>
<rect x="217" y="2.0" width="1" height="243.0" fill="rgb(0,128,0)" fill-opacity="0.3"/>
<rect x="218" y="2.0" width="1" height="243.0" fill="rgb(0,128,0)" fill-opacity="0.12"/>
<rect x="255" y="2.0" width="1" height="243.0" fill="rgb(0,128,0)" fill-opacity="0.05"/>
<rect x="292" y="2.0" width="1" height="243.0" fill="rgb(0,128,0)" fill-opacity="0.3"/>
<rect x="293" y="2.0" width="1" height="243.0" fill="rgb(0,128,0)" fill-opacity="0.07"/>
<rect x="31.0" y="51" width="299.0" height="1" fill="rgb(0,128,0)" fill-opacity="0.3"/>
<rect x="31.0" y="50" width="299.0" height="1" fill="rgb(0,128,0)" fill-opacity="0.12"/>
<rect x="31.0" y="99" width="299.0" height="1" fill="rgb(0,128,0)" fill-opacity="0.05"/>
<rect x="31.0" y="147" width="299.0" height="1" fill="rgb(0,128,0)" fill-opacity="0.05"/>
<rect x="31.0" y="196" width="299.0" height="1" fill="rgb(0,128,0)" fill-opacity="0.3"/>
<rect x="31.0" y="195" width="299.0" height="1" fill="rgb(0,128,0)" fill-opacity="0.12"/>
<path d="M31.50,161.25 L32.24,160.85 L32.99,160.46 L33.73,160.06 L34.48,159.65 L35.23,159.25 L35.97,158.85 L36.72,158.45 L37.46,158.04 L38.20,157.64 L38.95,157.23 L39.70,156.82 L40.44,156.41 L41.19,156.01 L41.93,155.60 L42.67,155.19 L43.42,154.78 L44.16,154.37 L44.91,153.95 L45.66,153.54 L46.40,153.13 L47.14,152.72 L47.89,152.30 L48.64,151.89 L49.38,151.48 L50.12,151.06 L50.87,150.65 L51.62,150.23 L52.36,149.82 L53.10,149.40 L53.85,148.99 L54.59,148.57 L55.34,148.16 L56.09,147.74 L56.83,147.33 L57.58,146.91 L58.32,146.50 L59.06,146.08 L59.81,145.67 L60.55,145.25 L61.30,144.84 L62.05,144.42 L62.79,144.01 L63.53,143.60 L64.28,143.18 L65.03,142.77 L65.77,142.36 L66.52,141.94 L67.26,141.53 L68.00,141.12 L68.75,140.71 L69.50,140.30 L70.24,139.89 L70.98,139.48 L71.73,139.07 L72.47,138.66 L73.22,138.25 L73.97,137.84 L74.71,137.44 L75.45,137.03 L76.20,136.62 L76.94,136.22 L77.69,135.82 L78.44,135.41 L79.18,135.01 L79.93,134.61 L80.67,134.21 L81.42,133.81 L82.16,133.41 L82.91,133.01 L83.65,132.61 L84.39,132.22 L85.14,131.82 L85.88,131.43 L86.63,131.03 L87.38,130.64 L88.12,130.25 L88.87,129.86 L89.61,129.47 L90.36,129.08 L91.10,128.69 L91.84,128.31 L92.59,127.92 L93.34,127.54 L94.08,127.15 L94.82,126.77 L95.57,126.39 L96.31,126.01 L97.06,125.63 L97.81,125.25 L98.55,124.88 L99.30,124.50 L100.04,124.13 L100.78,123.76 L101.53,123.39 L102.28,123.02 L103.02,122.65 L103.77,122.28 L104.51,121.92 L105.25,121.55 L106.00,121.19 L106.75,120.83 L107.49,120.47 L108.23,120.11 L108.98,119.75 L109.73,119.39 L110.47,119.04 L111.22,118.68 L111.96,118.33 L112.71,117.98 L113.45,117.63 L114.20,117.28 L114.94,116.93 L115.69,116.59 L116.43,116.24 L117.18,115.90 L117.92,115.56 L118.66,115.22 L119.41,114.88 L120.16,114.55 L120.90,114.21 L121.64,113.88 L122.39,113.54 L123.14,113.21 L123.88,112.88 L124.62,112.55 L125.37,112.23 L126.11,111.90 L126.86,111.58 L127.61,111.26 L128.35,110.94 L129.09,110.62 L129.84,110.30 L130.59,109.98 L131.33,109.67 L132.07,109.35 L132.82,109.04 L133.56,108.73 L134.31,108.42 L135.06,108.11 L135.80,107.81 L136.54,107.50 L137.29,107.20 L138.03,106.90 L138.78,106.60 L139.52,106.30 L140.27,106.00 L141.01,105.71 L141.76,105.41 L142.50,105.12 L143.25,104.83 L144.00,104.54 L144.74,104.25 L145.49,103.96 L146.23,103.68 L146.98,103.39 L147.72,103.11 L148.47,102.83 L149.21,102.55 L149.96,102.27 L150.70,102.00 L151.44,101.72 L152.19,101.45 L152.94,101.18 L153.68,100.90 L154.43,100.63 L155.17,100.37 L155.91,100.10 L156.66,99.83 L157.41,99.57 L158.15,99.31 L158.89,99.05 L159.64,98.79 L160.38,98.53 L161.13,98.27 L161.88,98.02 L162.62,97.76 L163.37,97.51 L164.11,97.26 L164.85,97.01 L165.60,96.76 L166.34,96.52 L167.09,96.27 L167.84,96.03 L168.58,95.78 L169.33,95.54 L170.07,95.30 L170.81,95.06 L171.56,94.82 L172.31,94.59 L173.05,94.35 L173.80,94.12 L174.54,93.89 L175.28,93.66 L176.03,93.43 L176.78,93.20 L177.52,92.97 L178.26,92.75 L179.01,92.52 L179.75,92.30 L180.50,92.08 L181.25,91.86 L181.99,91.64 L182.74,91.42 L183.48,91.20 L184.22,90.99 L184.97,90.77 L185.71,90.56 L186.46,90.35 L187.20,90.14 L187.95,89.93 L188.69,89.72 L189.44,89.51 L190.19,89.31 L190.93,89.10 L191.67,88.90 L192.42,88.70 L193.16,88.49 L193.91,88.29 L194.66,88.10 L195.40,87.90 L196.15,87.70 L196.89,87.51 L197.63,87.31 L198.38,87.12 L199.12,86.93 L199.87,86.74 L200.62,86.55 L201.36,86.36 L202.10,86.17 L202.85,85.99 L203.59,85.80 L204.34,85.62 L205.09,85.43 L205.83,85.25 L206.58,85.07 L207.32,84.89 L208.06,84.71 L208.81,84.54 L209.56,84.36 L210.30,84.18 L211.05,84.01 L211.79,83.84 L212.54,83.66 L213.28,83.49 L214.03,83.32 L214.77,83.15 L215.52,82.98 L216.26,82.82 L217.01,82.65 L217.75,82.49 L218.50,82.32 L219.24,82.16 L219.99,82.00 L220.73,81.83 L221.48,81.67 L222.22,81.51 L222.96,81.36 L223.71,81.20 L224.45,81.04 L225.20,80.89 L225.94,80.73 L226.69,80.58 L227.44,80.42 L228.18,80.27 L228.92,80.12 L229.67,79.97 L230.41,79.82 L231.16,79.67 L231.91,79.53 L232.65,79.38 L233.40,79.23 L234.14,79.09 L234.88,78.95 L235.63,78.80 L236.38,78.66 L237.12,78.52 L237.87,78.38 L238.61,78.24 L239.35,78.10 L240.10,77.96 L240.84,77.82 L241.59,77.69 L242.34,77.55 L243.08,77.42 L243.83,77.28 L244.57,77.15 L245.31,77.02 L246.06,76.89 L246.81,76.76 L247.55,76.63 L248.30,76.50 L249.04,76.37 L249.79,76.24 L250.53,76.11 L251.28,75.99 L252.02,75.86 L252.77,75.74 L253.51,75.61 L254.26,75.49 L255.00,75.37 L255.75,75.25 L256.49,75.13 L257.24,75.01 L257.98,74.89 L258.73,74.77 L259.47,74.65 L260.22,74.53 L260.96,74.41 L261.70,74.30 L262.45,74.18 L263.19,74.07 L263.94,73.95 L264.69,73.84 L265.43,73.73 L266.17,73.62 L266.92,73.51 L267.66,73.39 L268.41,73.28 L269.15,73.18 L269.90,73.07 L270.64,72.96 L271.39,72.85 L272.13,72.74 L272.88,72.64 L273.62,72.53 L274.37,72.43 L275.12,72.32 L275.86,72.22 L276.61,72.12 L277.35,72.01 L278.10,71.91 L278.84,71.81 L279.59,71.71 L280.33,71.61 L281.08,71.51 L281.82,71.41 L282.56,71.31 L283.31,71.22 L284.06,71.12 L284.80,71.02 L285.55,70.93 L286.29,70.83 L287.04,70.74 L287.78,70.64 L288.53,70.55 L289.27,70.46 L290.01,70.36 L290.76,70.27 L291.50,70.18 L292.25,70.09 L293.00,70.00 L293.74,69.91 L294.49,69.82 L295.23,69.73 L295.98,69.64 L296.72,69.55 L297.47,69.46 L298.21,69.38 L298.95,69.29 L299.70,69.21 L300.44,69.12 L301.19,69.03 L301.94,68.95 L302.68,68.87 L303.43,68.78 L304.17,68.70 L304.92,68.62 L305.66,68.54 L306.40,68.45 L307.15,68.37 L307.89,68.29 L308.64,68.21 L309.38,68.13 L310.13,68.05 L310.88,67.97 L311.62,67.90 L312.37,67.82 L313.11,67.74 L313.86,67.66 L314.60,67.59 L315.35,67.51 L316.09,67.43 L316.83,67.36 L317.58,67.28 L318.32,67.21 L319.07,67.14 L319.81,67.06 L320.56,66.99 L321.31,66.92 L322.05,66.84 L322.80,66.77 L323.54,66.70 L324.29,66.63 L325.03,66.56 L325.78,66.49 L326.52,66.42 L327.26,66.35 L328.01,66.28 L328.75,66.21 L329.50,66.14" fill="none" stroke="#000" stroke-width="1.8"/>
</g>
<rect x="31" y="3" width="1" height="241" fill="#000" fill-opacity="0.09"/>
<rect x="329" y="3" width="1" height="241" fill="#000" fill-opacity="0.45"/>
<rect x="330" y="3" width="1" height="241" fill="#000" fill-opacity="0.1"/>
<rect x="30" y="2" width="300" height="1" fill="#000" fill-opacity="0.75"/>
<rect x="30" y="244" width="300" height="1" fill="#000" fill-opacity="0.6"/>
<rect x="29.5" y="2" width="1.5" height="1" fill="#000" fill-opacity="0.35"/>
<rect x="29.5" y="51" width="1.5" height="1" fill="#000" fill-opacity="0.35"/>
<rect x="29.5" y="99" width="1.5" height="1" fill="#000" fill-opacity="0.35"/>
<rect x="29.5" y="147" width="1.5" height="1" fill="#000" fill-opacity="0.35"/>
<rect x="29.5" y="196" width="1.5" height="1" fill="#000" fill-opacity="0.35"/>
<rect x="29.5" y="244" width="1.5" height="1" fill="#000" fill-opacity="0.35"/>
<rect x="31" y="245" width="1" height="1.3" fill="#000" fill-opacity="0.45"/>
<rect x="69" y="245" width="1" height="1.3" fill="#000" fill-opacity="0.45"/>
<rect x="106" y="245" width="1" height="1.3" fill="#000" fill-opacity="0.45"/>
<rect x="143" y="245" width="1" height="1.3" fill="#000" fill-opacity="0.45"/>
<rect x="180" y="245" width="1" height="1.3" fill="#000" fill-opacity="0.45"/>
<rect x="217" y="245" width="1" height="1.3" fill="#000" fill-opacity="0.45"/>
<rect x="255" y="245" width="1" height="1.3" fill="#000" fill-opacity="0.45"/>
<rect x="292" y="245" width="1" height="1.3" fill="#000" fill-opacity="0.45"/>
<rect x="329" y="245" width="1" height="1.3" fill="#000" fill-opacity="0.45"/>
<text transform="translate(28.20,5.70) scale(0.92,1)" font-size="8.4" text-anchor="end" fill="#000" stroke="#000" stroke-width="0.2" stroke-opacity="0.6">1.0</text>
<text transform="translate(28.20,54.10) scale(0.92,1)" font-size="8.4" text-anchor="end" fill="#000" stroke="#000" stroke-width="0.2" stroke-opacity="0.6">0.5</text>
<text transform="translate(28.20,102.50) scale(0.92,1)" font-size="8.4" text-anchor="end" fill="#000" stroke="#000" stroke-width="0.2" stroke-opacity="0.6">0.0</text>
<text transform="translate(28.20,150.90) scale(0.92,1)" font-size="8.4" text-anchor="end" fill="#000" stroke="#000" stroke-width="0.2" stroke-opacity="0.6">−0.5</text>
<text transform="translate(28.20,199.30) scale(0.92,1)" font-size="8.4" text-anchor="end" fill="#000" stroke="#000" stroke-width="0.2" stroke-opacity="0.6">−1.0</text>
<text transform="translate(28.20,247.70) scale(0.92,1)" font-size="8.4" text-anchor="end" fill="#000" stroke="#000" stroke-width="0.2" stroke-opacity="0.6">−1.5</text>
<text transform="translate(31.50,253.70) scale(0.92,1)" font-size="8.4" text-anchor="middle" fill="#000" stroke="#000" stroke-width="0.2" stroke-opacity="0.6">0.00</text>
<text transform="translate(68.75,253.70) scale(0.92,1)" font-size="8.4" text-anchor="middle" fill="#000" stroke="#000" stroke-width="0.2" stroke-opacity="0.6">0.25</text>
<text transform="translate(106.00,253.70) scale(0.92,1)" font-size="8.4" text-anchor="middle" fill="#000" stroke="#000" stroke-width="0.2" stroke-opacity="0.6">0.50</text>
<text transform="translate(143.25,253.70) scale(0.92,1)" font-size="8.4" text-anchor="middle" fill="#000" stroke="#000" stroke-width="0.2" stroke-opacity="0.6">0.75</text>
<text transform="translate(180.50,253.70) scale(0.92,1)" font-size="8.4" text-anchor="middle" fill="#000" stroke="#000" stroke-width="0.2" stroke-opacity="0.6">1.00</text>
<text transform="translate(217.75,253.70) scale(0.92,1)" font-size="8.4" text-anchor="middle" fill="#000" stroke="#000" stroke-width="0.2" stroke-opacity="0.6">1.25</text>
<text transform="translate(255.00,253.70) scale(0.92,1)" font-size="8.4" text-anchor="middle" fill="#000" stroke="#000" stroke-width="0.2" stroke-opacity="0.6">1.50</text>
<text transform="translate(292.25,253.70) scale(0.92,1)" font-size="8.4" text-anchor="middle" fill="#000" stroke="#000" stroke-width="0.2" stroke-opacity="0.6">1.75</text>
<text transform="translate(329.50,253.70) scale(0.92,1)" font-size="8.4" text-anchor="middle" fill="#000" stroke="#000" stroke-width="0.2" stroke-opacity="0.6">2.00</text>
<text transform="translate(180.50,263.40) scale(0.9,1)" font-size="10.5" font-style="italic" text-anchor="middle" stroke="#000" stroke-width="0.2" stroke-opacity="0.6">z</text>
<text transform="translate(7.00,123.50) rotate(-90) scale(1.1,1)" font-size="9" text-anchor="middle" stroke="#000" stroke-width="0.2" stroke-opacity="0.6"><tspan font-style="italic">q</tspan>(<tspan font-style="italic">z</tspan>)</text>
<rect x="35.50" y="6.50" width="137.80" height="44.00" rx="2" fill="#fff" fill-opacity="0.8" stroke="#ccc" stroke-opacity="0.8" stroke-width="1"/>
<line x1="37.30" y1="11.40" x2="52.90" y2="11.40" stroke="#000" stroke-width="1.5"/>
<rect x="38.10" y="20.35" width="13.9" height="4.8" fill="rgb(204,230,204)"/>
<rect x="38.10" y="30.75" width="13.9" height="4.8" fill="rgb(0,0,255)" fill-opacity="0.6"/>
<rect x="38.10" y="41.30" width="13.9" height="4.8" fill="rgb(255,0,0)" fill-opacity="0.72"/>
<text transform="translate(58.00,14.60) scale(0.94,1)" font-size="8" font-style="italic" stroke="#000" stroke-width="0.2" stroke-opacity="0.6">Best ΛCDM</text>
<text x="58.00" y="24.80" font-size="8" stroke="#000" stroke-width="0.2" stroke-opacity="0.6">95% confidence interval, <tspan font-style="italic">H</tspan><tspan font-style="italic" font-size="5.5" dy="1.5">EXP</tspan></text>
<text x="58.00" y="35.70" font-size="8" stroke="#000" stroke-width="0.2" stroke-opacity="0.6">95% confidence interval, GP</text>
<text x="58.00" y="45.80" font-size="8" stroke="#000" stroke-width="0.2" stroke-opacity="0.6">95% confidence interval, <tspan font-style="italic">ΛCDM</tspan></text>
<clipPath id="clipTR"><rect x="419.50" y="2.50" width="298.00" height="242.00"/></clipPath>
<g clip-path="url(#clipTR)">
<path d="M419.50,184.48 L420.25,183.70 L420.99,182.89 L421.74,182.07 L422.48,181.22 L423.23,180.36 L423.97,179.48 L424.71,178.57 L425.46,177.66 L426.20,176.72 L426.95,175.77 L427.69,174.80 L428.44,173.82 L429.19,172.81 L429.93,171.79 L430.68,170.74 L431.42,169.67 L432.17,168.57 L432.91,167.45 L433.65,166.30 L434.40,165.12 L435.14,163.90 L435.89,162.62 L436.63,161.30 L437.38,159.94 L438.12,158.55 L438.87,157.15 L439.62,155.74 L440.36,154.33 L441.11,152.94 L441.85,151.57 L442.60,150.22 L443.34,148.88 L444.08,147.55 L444.83,146.22 L445.57,144.88 L446.32,143.54 L447.06,142.19 L447.81,140.82 L448.56,139.43 L449.30,138.02 L450.05,136.59 L450.79,135.16 L451.53,133.71 L452.28,132.26 L453.02,130.78 L453.77,129.28 L454.51,127.76 L455.26,126.21 L456.00,124.63 L456.75,123.02 L457.50,121.36 L458.24,119.64 L458.99,117.89 L459.73,116.10 L460.48,114.29 L461.22,112.46 L461.97,110.62 L462.71,108.77 L463.45,106.93 L464.20,105.11 L464.94,103.28 L465.69,101.44 L466.44,99.58 L467.18,97.71 L467.93,95.85 L468.67,93.99 L469.42,92.14 L470.16,90.31 L470.90,88.50 L471.65,86.72 L472.39,84.95 L473.14,83.20 L473.88,81.45 L474.63,79.72 L475.38,78.00 L476.12,76.31 L476.87,74.63 L477.61,72.98 L478.36,71.36 L479.10,69.78 L479.85,68.20 L480.59,66.62 L481.34,65.04 L482.08,63.47 L482.82,61.91 L483.57,60.38 L484.31,58.88 L485.06,57.41 L485.81,55.99 L486.55,54.62 L487.30,53.31 L488.04,52.07 L488.78,50.90 L489.53,49.78 L490.27,48.69 L491.02,47.63 L491.76,46.59 L492.51,45.58 L493.25,44.60 L494.00,43.64 L494.75,42.71 L495.49,41.80 L496.24,40.92 L496.98,40.06 L497.73,39.23 L498.47,38.42 L499.22,37.63 L499.96,36.87 L500.71,36.13 L501.45,35.41 L502.19,34.71 L502.94,34.01 L503.69,33.32 L504.43,32.64 L505.18,31.96 L505.92,31.29 L506.66,30.64 L507.41,29.99 L508.15,29.36 L508.90,28.74 L509.64,28.14 L510.39,27.54 L511.13,26.97 L511.88,26.40 L512.62,25.86 L513.37,25.33 L514.12,24.83 L514.86,24.34 L515.61,23.87 L516.35,23.42 L517.10,23.00 L517.84,22.59 L518.59,22.21 L519.33,21.86 L520.08,21.52 L520.82,21.18 L521.57,20.85 L522.31,20.53 L523.06,20.21 L523.80,19.89 L524.54,19.59 L525.29,19.29 L526.03,18.99 L526.78,18.70 L527.52,18.42 L528.27,18.15 L529.01,17.89 L529.76,17.63 L530.50,17.38 L531.25,17.14 L532.00,16.91 L532.74,16.69 L533.49,16.48 L534.23,16.28 L534.98,16.09 L535.72,15.91 L536.47,15.75 L537.21,15.59 L537.96,15.44 L538.70,15.31 L539.45,15.19 L540.19,15.08 L540.93,14.98 L541.68,14.88 L542.42,14.78 L543.17,14.69 L543.91,14.59 L544.66,14.50 L545.40,14.41 L546.15,14.32 L546.89,14.24 L547.64,14.16 L548.38,14.08 L549.13,14.01 L549.88,13.94 L550.62,13.88 L551.37,13.83 L552.11,13.78 L552.86,13.73 L553.60,13.70 L554.35,13.67 L555.09,13.65 L555.84,13.64 L556.58,13.63 L557.33,13.65 L558.07,13.70 L558.82,13.78 L559.56,13.88 L560.31,14.01 L561.05,14.16 L561.80,14.32 L562.54,14.50 L563.28,14.69 L564.03,14.89 L564.77,15.09 L565.52,15.29 L566.26,15.49 L567.01,15.69 L567.75,15.88 L568.50,16.05 L569.25,16.22 L569.99,16.40 L570.74,16.57 L571.48,16.75 L572.23,16.93 L572.97,17.11 L573.71,17.29 L574.46,17.48 L575.20,17.66 L575.95,17.85 L576.69,18.04 L577.44,18.23 L578.18,18.43 L578.93,18.62 L579.67,18.82 L580.42,19.02 L581.16,19.22 L581.91,19.42 L582.65,19.62 L583.40,19.83 L584.14,20.03 L584.89,20.24 L585.63,20.45 L586.38,20.65 L587.12,20.86 L587.87,21.08 L588.62,21.29 L589.36,21.50 L590.11,21.72 L590.85,21.93 L591.60,22.15 L592.34,22.37 L593.09,22.59 L593.83,22.81 L594.58,23.03 L595.32,23.25 L596.07,23.47 L596.81,23.69 L597.56,23.92 L598.30,24.14 L599.05,24.37 L599.79,24.59 L600.54,24.82 L601.28,25.04 L602.02,25.27 L602.77,25.50 L603.51,25.72 L604.26,25.95 L605.00,26.18 L605.75,26.41 L606.50,26.64 L607.24,26.87 L607.99,27.11 L608.73,27.34 L609.48,27.58 L610.22,27.82 L610.96,28.06 L611.71,28.31 L612.45,28.55 L613.20,28.80 L613.94,29.05 L614.69,29.30 L615.43,29.55 L616.18,29.80 L616.92,30.06 L617.67,30.31 L618.41,30.57 L619.16,30.82 L619.90,31.08 L620.65,31.34 L621.39,31.60 L622.14,31.86 L622.88,32.12 L623.63,32.39 L624.38,32.65 L625.12,32.91 L625.87,33.18 L626.61,33.44 L627.36,33.70 L628.10,33.97 L628.85,34.23 L629.59,34.50 L630.34,34.76 L631.08,35.03 L631.83,35.29 L632.57,35.56 L633.32,35.82 L634.06,36.08 L634.81,36.35 L635.55,36.61 L636.30,36.87 L637.04,37.13 L637.79,37.39 L638.53,37.65 L639.27,37.91 L640.02,38.17 L640.76,38.42 L641.51,38.68 L642.25,38.93 L643.00,39.19 L643.75,39.44 L644.49,39.69 L645.24,39.94 L645.98,40.20 L646.73,40.45 L647.47,40.70 L648.22,40.95 L648.96,41.21 L649.70,41.46 L650.45,41.71 L651.19,41.96 L651.94,42.21 L652.68,42.47 L653.43,42.72 L654.17,42.97 L654.92,43.22 L655.66,43.47 L656.41,43.72 L657.15,43.98 L657.90,44.23 L658.64,44.48 L659.39,44.73 L660.13,44.98 L660.88,45.23 L661.62,45.48 L662.37,45.73 L663.12,45.98 L663.86,46.23 L664.61,46.48 L665.35,46.73 L666.10,46.98 L666.84,47.23 L667.59,47.48 L668.33,47.73 L669.08,47.97 L669.82,48.22 L670.57,48.47 L671.31,48.72 L672.06,48.97 L672.80,49.21 L673.55,49.46 L674.29,49.71 L675.04,49.95 L675.78,50.20 L676.53,50.45 L677.27,50.69 L678.01,50.94 L678.76,51.18 L679.50,51.43 L680.25,51.67 L681.00,51.92 L681.74,52.16 L682.49,52.41 L683.23,52.65 L683.98,52.90 L684.72,53.14 L685.47,53.38 L686.21,53.63 L686.95,53.87 L687.70,54.11 L688.44,54.36 L689.19,54.60 L689.93,54.84 L690.68,55.08 L691.42,55.33 L692.17,55.57 L692.91,55.81 L693.66,56.05 L694.40,56.29 L695.15,56.53 L695.89,56.77 L696.64,57.01 L697.38,57.26 L698.13,57.50 L698.88,57.74 L699.62,57.98 L700.37,58.22 L701.11,58.46 L701.86,58.69 L702.60,58.93 L703.35,59.17 L704.09,59.41 L704.84,59.65 L705.58,59.89 L706.33,60.13 L707.07,60.37 L707.82,60.60 L708.56,60.84 L709.31,61.08 L710.05,61.32 L710.80,61.55 L711.54,61.79 L712.29,62.03 L713.03,62.26 L713.78,62.50 L714.52,62.74 L715.26,62.97 L716.01,63.21 L716.75,63.44 L717.50,63.68 L717.50,136.37 L716.75,136.34 L716.01,136.30 L715.26,136.26 L714.52,136.22 L713.78,136.18 L713.03,136.14 L712.29,136.10 L711.54,136.06 L710.80,136.03 L710.05,135.99 L709.31,135.95 L708.56,135.91 L707.82,135.87 L707.07,135.83 L706.33,135.79 L705.58,135.75 L704.84,135.72 L704.09,135.68 L703.35,135.64 L702.60,135.60 L701.86,135.56 L701.11,135.52 L700.37,135.48 L699.62,135.45 L698.88,135.41 L698.13,135.37 L697.38,135.33 L696.64,135.29 L695.89,135.25 L695.15,135.21 L694.40,135.17 L693.66,135.14 L692.91,135.10 L692.17,135.06 L691.42,135.02 L690.68,134.98 L689.93,134.94 L689.19,134.90 L688.44,134.86 L687.70,134.83 L686.95,134.79 L686.21,134.75 L685.47,134.71 L684.72,134.67 L683.98,134.63 L683.23,134.59 L682.49,134.55 L681.74,134.52 L681.00,134.48 L680.25,134.44 L679.50,134.40 L678.76,134.36 L678.01,134.32 L677.27,134.28 L676.53,134.23 L675.78,134.19 L675.04,134.15 L674.29,134.10 L673.55,134.06 L672.80,134.01 L672.06,133.96 L671.31,133.92 L670.57,133.87 L669.82,133.82 L669.08,133.78 L668.33,133.73 L667.59,133.68 L666.84,133.63 L666.10,133.59 L665.35,133.54 L664.61,133.49 L663.86,133.45 L663.12,133.40 L662.37,133.35 L661.62,133.31 L660.88,133.26 L660.13,133.22 L659.39,133.18 L658.64,133.13 L657.90,133.09 L657.15,133.05 L656.41,133.01 L655.66,132.97 L654.92,132.93 L654.17,132.89 L653.43,132.86 L652.68,132.82 L651.94,132.79 L651.19,132.76 L650.45,132.72 L649.70,132.69 L648.96,132.67 L648.22,132.64 L647.47,132.61 L646.73,132.59 L645.98,132.57 L645.24,132.55 L644.49,132.53 L643.75,132.52 L643.00,132.50 L642.25,132.49 L641.51,132.48 L640.76,132.46 L640.02,132.45 L639.27,132.44 L638.53,132.43 L637.79,132.41 L637.04,132.40 L636.30,132.39 L635.55,132.38 L634.81,132.37 L634.06,132.36 L633.32,132.35 L632.57,132.33 L631.83,132.32 L631.08,132.31 L630.34,132.30 L629.59,132.29 L628.85,132.28 L628.10,132.27 L627.36,132.26 L626.61,132.25 L625.87,132.25 L625.12,132.24 L624.38,132.23 L623.63,132.22 L622.88,132.21 L622.14,132.20 L621.39,132.20 L620.65,132.19 L619.90,132.18 L619.16,132.18 L618.41,132.17 L617.67,132.16 L616.92,132.16 L616.18,132.15 L615.43,132.15 L614.69,132.14 L613.94,132.14 L613.20,132.13 L612.45,132.13 L611.71,132.13 L610.96,132.12 L610.22,132.12 L609.48,132.12 L608.73,132.12 L607.99,132.12 L607.24,132.12 L606.50,132.12 L605.75,132.12 L605.00,132.12 L604.26,132.12 L603.51,132.12 L602.77,132.13 L602.02,132.13 L601.28,132.14 L600.54,132.15 L599.79,132.16 L599.05,132.17 L598.30,132.19 L597.56,132.20 L596.81,132.22 L596.07,132.23 L595.32,132.25 L594.58,132.27 L593.83,132.29 L593.09,132.31 L592.34,132.34 L591.60,132.36 L590.85,132.39 L590.11,132.41 L589.36,132.44 L588.62,132.47 L587.87,132.50 L587.12,132.53 L586.38,132.56 L585.63,132.59 L584.89,132.63 L584.14,132.66 L583.40,132.70 L582.65,132.73 L581.91,132.77 L581.16,132.81 L580.42,132.85 L579.67,132.89 L578.93,132.93 L578.18,132.97 L577.44,133.01 L576.69,133.05 L575.95,133.10 L575.20,133.14 L574.46,133.18 L573.71,133.23 L572.97,133.28 L572.23,133.32 L571.48,133.37 L570.74,133.42 L569.99,133.47 L569.25,133.52 L568.50,133.57 L567.75,133.62 L567.01,133.69 L566.26,133.76 L565.52,133.84 L564.77,133.94 L564.03,134.04 L563.28,134.14 L562.54,134.26 L561.80,134.38 L561.05,134.52 L560.31,134.65 L559.56,134.80 L558.82,134.95 L558.07,135.11 L557.33,135.27 L556.58,135.44 L555.84,135.62 L555.09,135.80 L554.35,135.99 L553.60,136.18 L552.86,136.37 L552.11,136.57 L551.37,136.77 L550.62,136.98 L549.88,137.19 L549.13,137.40 L548.38,137.62 L547.64,137.83 L546.89,138.05 L546.15,138.27 L545.40,138.50 L544.66,138.72 L543.91,138.95 L543.17,139.17 L542.42,139.40 L541.68,139.63 L540.93,139.85 L540.19,140.08 L539.45,140.30 L538.70,140.53 L537.96,140.75 L537.21,140.97 L536.47,141.19 L535.72,141.41 L534.98,141.63 L534.23,141.84 L533.49,142.05 L532.74,142.26 L532.00,142.47 L531.25,142.67 L530.50,142.87 L529.76,143.06 L529.01,143.26 L528.27,143.46 L527.52,143.66 L526.78,143.86 L526.03,144.06 L525.29,144.26 L524.54,144.46 L523.80,144.66 L523.06,144.86 L522.31,145.06 L521.57,145.26 L520.82,145.47 L520.08,145.67 L519.33,145.87 L518.59,146.08 L517.84,146.29 L517.10,146.49 L516.35,146.70 L515.61,146.91 L514.86,147.12 L514.12,147.33 L513.37,147.54 L512.62,147.75 L511.88,147.97 L511.13,148.18 L510.39,148.40 L509.64,148.62 L508.90,148.84 L508.15,149.06 L507.41,149.28 L506.66,149.50 L505.92,149.73 L505.18,149.96 L504.43,150.19 L503.69,150.42 L502.94,150.65 L502.19,150.89 L501.45,151.12 L500.71,151.36 L499.96,151.60 L499.22,151.84 L498.47,152.09 L497.73,152.34 L496.98,152.58 L496.24,152.84 L495.49,153.09 L494.75,153.35 L494.00,153.60 L493.25,153.87 L492.51,154.13 L491.76,154.40 L491.02,154.67 L490.27,154.95 L489.53,155.23 L488.78,155.51 L488.04,155.80 L487.30,156.09 L486.55,156.39 L485.81,156.69 L485.06,156.99 L484.31,157.29 L483.57,157.60 L482.82,157.92 L482.08,158.23 L481.34,158.55 L480.59,158.88 L479.85,159.21 L479.10,159.54 L478.36,159.87 L477.61,160.21 L476.87,160.56 L476.12,160.90 L475.38,161.25 L474.63,161.61 L473.88,161.96 L473.14,162.32 L472.39,162.68 L471.65,163.05 L470.90,163.42 L470.16,163.79 L469.42,164.17 L468.67,164.56 L467.93,164.95 L467.18,165.34 L466.44,165.74 L465.69,166.15 L464.94,166.56 L464.20,166.98 L463.45,167.41 L462.71,167.84 L461.97,168.28 L461.22,168.73 L460.48,169.19 L459.73,169.65 L458.99,170.13 L458.24,170.61 L457.50,171.11 L456.75,171.61 L456.00,172.12 L455.26,172.65 L454.51,173.19 L453.77,173.75 L453.02,174.32 L452.28,174.90 L451.53,175.49 L450.79,176.10 L450.05,176.73 L449.30,177.36 L448.56,178.01 L447.81,178.67 L447.06,179.35 L446.32,180.04 L445.57,180.75 L444.83,181.47 L444.08,182.20 L443.34,182.95 L442.60,183.71 L441.85,184.48 L441.11,185.28 L440.36,186.12 L439.62,186.98 L438.87,187.88 L438.12,188.80 L437.38,189.75 L436.63,190.73 L435.89,191.72 L435.14,192.74 L434.40,193.77 L433.65,194.82 L432.91,195.88 L432.17,196.95 L431.42,198.04 L430.68,199.15 L429.93,200.30 L429.19,201.49 L428.44,202.71 L427.69,203.94 L426.95,205.20 L426.20,206.46 L425.46,207.72 L424.71,208.98 L423.97,210.25 L423.23,211.54 L422.48,212.84 L421.74,214.16 L420.99,215.48 L420.25,216.82 L419.50,218.17Z" fill="rgb(204,230,204)" fill-opacity="1.0"/>
<path d="M419.50,132.31 L420.25,132.12 L420.99,131.94 L421.74,131.75 L422.48,131.57 L423.23,131.38 L423.97,131.19 L424.71,131.00 L425.46,130.82 L426.20,130.63 L426.95,130.44 L427.69,130.25 L428.44,130.06 L429.19,129.87 L429.93,129.68 L430.68,129.49 L431.42,129.29 L432.17,129.10 L432.91,128.91 L433.65,128.72 L434.40,128.52 L435.14,128.33 L435.89,128.14 L436.63,127.94 L437.38,127.75 L438.12,127.55 L438.87,127.35 L439.62,127.16 L440.36,126.96 L441.11,126.76 L441.85,126.57 L442.60,126.37 L443.34,126.17 L444.08,125.97 L444.83,125.77 L445.57,125.57 L446.32,125.37 L447.06,125.17 L447.81,124.97 L448.56,124.77 L449.30,124.57 L450.05,124.37 L450.79,124.16 L451.53,123.96 L452.28,123.76 L453.02,123.56 L453.77,123.35 L454.51,123.15 L455.26,122.94 L456.00,122.74 L456.75,122.53 L457.50,122.33 L458.24,122.12 L458.99,121.91 L459.73,121.71 L460.48,121.50 L461.22,121.29 L461.97,121.08 L462.71,120.88 L463.45,120.67 L464.20,120.46 L464.94,120.25 L465.69,120.04 L466.44,119.83 L467.18,119.62 L467.93,119.41 L468.67,119.20 L469.42,118.98 L470.16,118.77 L470.90,118.56 L471.65,118.35 L472.39,118.13 L473.14,117.92 L473.88,117.70 L474.63,117.49 L475.38,117.27 L476.12,117.06 L476.87,116.84 L477.61,116.62 L478.36,116.40 L479.10,116.18 L479.85,115.97 L480.59,115.75 L481.34,115.53 L482.08,115.31 L482.82,115.08 L483.57,114.86 L484.31,114.64 L485.06,114.42 L485.81,114.19 L486.55,113.97 L487.30,113.74 L488.04,113.52 L488.78,113.29 L489.53,113.07 L490.27,112.84 L491.02,112.61 L491.76,112.38 L492.51,112.15 L493.25,111.92 L494.00,111.69 L494.75,111.46 L495.49,111.23 L496.24,110.99 L496.98,110.76 L497.73,110.52 L498.47,110.28 L499.22,110.05 L499.96,109.81 L500.71,109.57 L501.45,109.33 L502.19,109.09 L502.94,108.85 L503.69,108.60 L504.43,108.36 L505.18,108.12 L505.92,107.87 L506.66,107.63 L507.41,107.38 L508.15,107.13 L508.90,106.88 L509.64,106.64 L510.39,106.39 L511.13,106.14 L511.88,105.89 L512.62,105.64 L513.37,105.39 L514.12,105.14 L514.86,104.89 L515.61,104.64 L516.35,104.38 L517.10,104.13 L517.84,103.88 L518.59,103.62 L519.33,103.37 L520.08,103.12 L520.82,102.86 L521.57,102.61 L522.31,102.36 L523.06,102.10 L523.80,101.85 L524.54,101.59 L525.29,101.34 L526.03,101.08 L526.78,100.83 L527.52,100.57 L528.27,100.32 L529.01,100.06 L529.76,99.81 L530.50,99.55 L531.25,99.30 L532.00,99.05 L532.74,98.79 L533.49,98.54 L534.23,98.28 L534.98,98.03 L535.72,97.77 L536.47,97.51 L537.21,97.26 L537.96,97.00 L538.70,96.74 L539.45,96.49 L540.19,96.23 L540.93,95.97 L541.68,95.72 L542.42,95.46 L543.17,95.20 L543.91,94.94 L544.66,94.68 L545.40,94.42 L546.15,94.16 L546.89,93.90 L547.64,93.64 L548.38,93.38 L549.13,93.12 L549.88,92.86 L550.62,92.60 L551.37,92.34 L552.11,92.08 L552.86,91.82 L553.60,91.55 L554.35,91.29 L555.09,91.03 L555.84,90.76 L556.58,90.50 L557.33,90.24 L558.07,89.97 L558.82,89.71 L559.56,89.44 L560.31,89.18 L561.05,88.91 L561.80,88.64 L562.54,88.38 L563.28,88.11 L564.03,87.84 L564.77,87.58 L565.52,87.31 L566.26,87.04 L567.01,86.77 L567.75,86.50 L568.50,86.23 L569.25,85.96 L569.99,85.69 L570.74,85.41 L571.48,85.14 L572.23,84.86 L572.97,84.58 L573.71,84.30 L574.46,84.02 L575.20,83.74 L575.95,83.46 L576.69,83.17 L577.44,82.89 L578.18,82.60 L578.93,82.31 L579.67,82.03 L580.42,81.74 L581.16,81.45 L581.91,81.16 L582.65,80.87 L583.40,80.58 L584.14,80.29 L584.89,80.00 L585.63,79.72 L586.38,79.43 L587.12,79.14 L587.87,78.85 L588.62,78.56 L589.36,78.28 L590.11,77.99 L590.85,77.70 L591.60,77.42 L592.34,77.14 L593.09,76.85 L593.83,76.57 L594.58,76.29 L595.32,76.01 L596.07,75.73 L596.81,75.46 L597.56,75.18 L598.30,74.91 L599.05,74.64 L599.79,74.37 L600.54,74.10 L601.28,73.84 L602.02,73.57 L602.77,73.31 L603.51,73.05 L604.26,72.80 L605.00,72.54 L605.75,72.29 L606.50,72.04 L607.24,71.80 L607.99,71.55 L608.73,71.31 L609.48,71.07 L610.22,70.84 L610.96,70.60 L611.71,70.37 L612.45,70.14 L613.20,69.91 L613.94,69.68 L614.69,69.45 L615.43,69.23 L616.18,69.01 L616.92,68.78 L617.67,68.56 L618.41,68.34 L619.16,68.12 L619.90,67.91 L620.65,67.69 L621.39,67.47 L622.14,67.25 L622.88,67.04 L623.63,66.82 L624.38,66.61 L625.12,66.39 L625.87,66.17 L626.61,65.96 L627.36,65.74 L628.10,65.53 L628.85,65.31 L629.59,65.09 L630.34,64.87 L631.08,64.65 L631.83,64.43 L632.57,64.21 L633.32,63.99 L634.06,63.77 L634.81,63.54 L635.55,63.32 L636.30,63.09 L637.04,62.86 L637.79,62.63 L638.53,62.40 L639.27,62.17 L640.02,61.93 L640.76,61.69 L641.51,61.45 L642.25,61.21 L643.00,60.97 L643.75,60.72 L644.49,60.47 L645.24,60.22 L645.98,59.97 L646.73,59.72 L647.47,59.46 L648.22,59.20 L648.96,58.94 L649.70,58.69 L650.45,58.42 L651.19,58.16 L651.94,57.90 L652.68,57.63 L653.43,57.37 L654.17,57.10 L654.92,56.83 L655.66,56.56 L656.41,56.29 L657.15,56.02 L657.90,55.75 L658.64,55.48 L659.39,55.21 L660.13,54.93 L660.88,54.66 L661.62,54.38 L662.37,54.11 L663.12,53.83 L663.86,53.56 L664.61,53.28 L665.35,53.01 L666.10,52.73 L666.84,52.45 L667.59,52.17 L668.33,51.90 L669.08,51.62 L669.82,51.34 L670.57,51.07 L671.31,50.79 L672.06,50.52 L672.80,50.24 L673.55,49.96 L674.29,49.69 L675.04,49.42 L675.78,49.14 L676.53,48.87 L677.27,48.60 L678.01,48.32 L678.76,48.05 L679.50,47.78 L680.25,47.51 L681.00,47.24 L681.74,46.97 L682.49,46.70 L683.23,46.44 L683.98,46.17 L684.72,45.90 L685.47,45.63 L686.21,45.36 L686.95,45.09 L687.70,44.82 L688.44,44.55 L689.19,44.28 L689.93,44.01 L690.68,43.74 L691.42,43.48 L692.17,43.21 L692.91,42.94 L693.66,42.67 L694.40,42.40 L695.15,42.13 L695.89,41.86 L696.64,41.59 L697.38,41.32 L698.13,41.05 L698.88,40.78 L699.62,40.52 L700.37,40.25 L701.11,39.98 L701.86,39.71 L702.60,39.44 L703.35,39.17 L704.09,38.90 L704.84,38.63 L705.58,38.36 L706.33,38.09 L707.07,37.82 L707.82,37.56 L708.56,37.29 L709.31,37.02 L710.05,36.75 L710.80,36.48 L711.54,36.21 L712.29,35.94 L713.03,35.67 L713.78,35.40 L714.52,35.13 L715.26,34.86 L716.01,34.60 L716.75,34.33 L717.50,34.06 L717.50,85.84 L716.75,85.72 L716.01,85.59 L715.26,85.47 L714.52,85.35 L713.78,85.24 L713.03,85.13 L712.29,85.03 L711.54,84.93 L710.80,84.83 L710.05,84.75 L709.31,84.67 L708.56,84.59 L707.82,84.53 L707.07,84.47 L706.33,84.42 L705.58,84.37 L704.84,84.34 L704.09,84.32 L703.35,84.30 L702.60,84.30 L701.86,84.30 L701.11,84.31 L700.37,84.32 L699.62,84.34 L698.88,84.36 L698.13,84.38 L697.38,84.42 L696.64,84.45 L695.89,84.49 L695.15,84.53 L694.40,84.58 L693.66,84.62 L692.91,84.68 L692.17,84.73 L691.42,84.79 L690.68,84.85 L689.93,84.91 L689.19,84.97 L688.44,85.04 L687.70,85.11 L686.95,85.18 L686.21,85.25 L685.47,85.32 L684.72,85.39 L683.98,85.47 L683.23,85.54 L682.49,85.62 L681.74,85.69 L681.00,85.77 L680.25,85.84 L679.50,85.92 L678.76,86.01 L678.01,86.10 L677.27,86.20 L676.53,86.31 L675.78,86.42 L675.04,86.53 L674.29,86.66 L673.55,86.78 L672.80,86.92 L672.06,87.06 L671.31,87.20 L670.57,87.35 L669.82,87.50 L669.08,87.65 L668.33,87.81 L667.59,87.98 L666.84,88.14 L666.10,88.32 L665.35,88.49 L664.61,88.67 L663.86,88.84 L663.12,89.03 L662.37,89.21 L661.62,89.40 L660.88,89.58 L660.13,89.77 L659.39,89.96 L658.64,90.15 L657.90,90.35 L657.15,90.54 L656.41,90.73 L655.66,90.93 L654.92,91.12 L654.17,91.32 L653.43,91.51 L652.68,91.70 L651.94,91.90 L651.19,92.09 L650.45,92.28 L649.70,92.47 L648.96,92.65 L648.22,92.84 L647.47,93.02 L646.73,93.21 L645.98,93.39 L645.24,93.56 L644.49,93.74 L643.75,93.91 L643.00,94.07 L642.25,94.24 L641.51,94.40 L640.76,94.57 L640.02,94.74 L639.27,94.91 L638.53,95.08 L637.79,95.24 L637.04,95.41 L636.30,95.58 L635.55,95.75 L634.81,95.92 L634.06,96.09 L633.32,96.26 L632.57,96.43 L631.83,96.60 L631.08,96.77 L630.34,96.94 L629.59,97.11 L628.85,97.29 L628.10,97.46 L627.36,97.63 L626.61,97.80 L625.87,97.97 L625.12,98.14 L624.38,98.31 L623.63,98.48 L622.88,98.65 L622.14,98.82 L621.39,98.98 L620.65,99.15 L619.90,99.32 L619.16,99.49 L618.41,99.66 L617.67,99.82 L616.92,99.99 L616.18,100.15 L615.43,100.32 L614.69,100.48 L613.94,100.65 L613.20,100.81 L612.45,100.97 L611.71,101.14 L610.96,101.30 L610.22,101.46 L609.48,101.62 L608.73,101.77 L607.99,101.93 L607.24,102.09 L606.50,102.24 L605.75,102.40 L605.00,102.55 L604.26,102.70 L603.51,102.85 L602.77,103.00 L602.02,103.14 L601.28,103.29 L600.54,103.43 L599.79,103.57 L599.05,103.71 L598.30,103.84 L597.56,103.98 L596.81,104.11 L596.07,104.25 L595.32,104.38 L594.58,104.52 L593.83,104.65 L593.09,104.78 L592.34,104.91 L591.60,105.04 L590.85,105.17 L590.11,105.30 L589.36,105.43 L588.62,105.57 L587.87,105.70 L587.12,105.83 L586.38,105.96 L585.63,106.09 L584.89,106.23 L584.14,106.36 L583.40,106.50 L582.65,106.63 L581.91,106.77 L581.16,106.91 L580.42,107.05 L579.67,107.19 L578.93,107.33 L578.18,107.48 L577.44,107.62 L576.69,107.77 L575.95,107.92 L575.20,108.07 L574.46,108.23 L573.71,108.39 L572.97,108.55 L572.23,108.71 L571.48,108.87 L570.74,109.04 L569.99,109.21 L569.25,109.38 L568.50,109.56 L567.75,109.74 L567.01,109.92 L566.26,110.11 L565.52,110.30 L564.77,110.49 L564.03,110.68 L563.28,110.88 L562.54,111.08 L561.80,111.29 L561.05,111.49 L560.31,111.70 L559.56,111.91 L558.82,112.13 L558.07,112.34 L557.33,112.56 L556.58,112.78 L555.84,113.00 L555.09,113.23 L554.35,113.46 L553.60,113.69 L552.86,113.92 L552.11,114.15 L551.37,114.39 L550.62,114.63 L549.88,114.86 L549.13,115.11 L548.38,115.35 L547.64,115.59 L546.89,115.84 L546.15,116.09 L545.40,116.34 L544.66,116.59 L543.91,116.84 L543.17,117.09 L542.42,117.35 L541.68,117.61 L540.93,117.86 L540.19,118.12 L539.45,118.38 L538.70,118.64 L537.96,118.90 L537.21,119.17 L536.47,119.43 L535.72,119.69 L534.98,119.96 L534.23,120.23 L533.49,120.49 L532.74,120.76 L532.00,121.03 L531.25,121.29 L530.50,121.56 L529.76,121.83 L529.01,122.10 L528.27,122.37 L527.52,122.64 L526.78,122.91 L526.03,123.18 L525.29,123.45 L524.54,123.73 L523.80,124.00 L523.06,124.28 L522.31,124.56 L521.57,124.85 L520.82,125.13 L520.08,125.42 L519.33,125.71 L518.59,126.00 L517.84,126.29 L517.10,126.59 L516.35,126.89 L515.61,127.18 L514.86,127.48 L514.12,127.79 L513.37,128.09 L512.62,128.40 L511.88,128.70 L511.13,129.01 L510.39,129.32 L509.64,129.63 L508.90,129.94 L508.15,130.26 L507.41,130.57 L506.66,130.89 L505.92,131.20 L505.18,131.52 L504.43,131.84 L503.69,132.16 L502.94,132.48 L502.19,132.80 L501.45,133.12 L500.71,133.44 L499.96,133.77 L499.22,134.09 L498.47,134.42 L497.73,134.74 L496.98,135.07 L496.24,135.39 L495.49,135.72 L494.75,136.05 L494.00,136.37 L493.25,136.70 L492.51,137.03 L491.76,137.36 L491.02,137.70 L490.27,138.03 L489.53,138.37 L488.78,138.70 L488.04,139.04 L487.30,139.38 L486.55,139.72 L485.81,140.06 L485.06,140.41 L484.31,140.75 L483.57,141.10 L482.82,141.44 L482.08,141.79 L481.34,142.14 L480.59,142.49 L479.85,142.84 L479.10,143.19 L478.36,143.54 L477.61,143.90 L476.87,144.25 L476.12,144.61 L475.38,144.96 L474.63,145.32 L473.88,145.68 L473.14,146.03 L472.39,146.39 L471.65,146.75 L470.90,147.11 L470.16,147.47 L469.42,147.83 L468.67,148.19 L467.93,148.55 L467.18,148.91 L466.44,149.28 L465.69,149.64 L464.94,150.00 L464.20,150.36 L463.45,150.72 L462.71,151.09 L461.97,151.45 L461.22,151.81 L460.48,152.18 L459.73,152.54 L458.99,152.90 L458.24,153.27 L457.50,153.63 L456.75,153.99 L456.00,154.35 L455.26,154.72 L454.51,155.08 L453.77,155.45 L453.02,155.81 L452.28,156.18 L451.53,156.54 L450.79,156.91 L450.05,157.27 L449.30,157.64 L448.56,158.01 L447.81,158.38 L447.06,158.74 L446.32,159.11 L445.57,159.48 L444.83,159.85 L444.08,160.22 L443.34,160.59 L442.60,160.96 L441.85,161.33 L441.11,161.71 L440.36,162.08 L439.62,162.45 L438.87,162.82 L438.12,163.20 L437.38,163.57 L436.63,163.95 L435.89,164.32 L435.14,164.70 L434.40,165.07 L433.65,165.45 L432.91,165.82 L432.17,166.20 L431.42,166.58 L430.68,166.96 L429.93,167.34 L429.19,167.71 L428.44,168.09 L427.69,168.47 L426.95,168.85 L426.20,169.23 L425.46,169.61 L424.71,169.99 L423.97,170.38 L423.23,170.76 L422.48,171.14 L421.74,171.52 L420.99,171.91 L420.25,172.29 L419.50,172.67Z" fill="rgb(0,0,255)" fill-opacity="0.6"/>
<path d="M419.50,157.48 L420.25,157.05 L420.99,156.62 L421.74,156.20 L422.48,155.77 L423.23,155.34 L423.97,154.91 L424.71,154.48 L425.46,154.05 L426.20,153.62 L426.95,153.19 L427.69,152.76 L428.44,152.32 L429.19,151.89 L429.93,151.46 L430.68,151.02 L431.42,150.59 L432.17,150.16 L432.91,149.72 L433.65,149.29 L434.40,148.85 L435.14,148.42 L435.89,147.98 L436.63,147.55 L437.38,147.11 L438.12,146.68 L438.87,146.24 L439.62,145.81 L440.36,145.38 L441.11,144.94 L441.85,144.51 L442.60,144.07 L443.34,143.64 L444.08,143.21 L444.83,142.77 L445.57,142.34 L446.32,141.91 L447.06,141.48 L447.81,141.05 L448.56,140.62 L449.30,140.19 L450.05,139.76 L450.79,139.33 L451.53,138.90 L452.28,138.47 L453.02,138.05 L453.77,137.62 L454.51,137.19 L455.26,136.77 L456.00,136.34 L456.75,135.92 L457.50,135.50 L458.24,135.08 L458.99,134.66 L459.73,134.24 L460.48,133.82 L461.22,133.40 L461.97,132.98 L462.71,132.57 L463.45,132.15 L464.20,131.74 L464.94,131.32 L465.69,130.91 L466.44,130.50 L467.18,130.09 L467.93,129.68 L468.67,129.28 L469.42,128.87 L470.16,128.47 L470.90,128.06 L471.65,127.66 L472.39,127.26 L473.14,126.86 L473.88,126.46 L474.63,126.06 L475.38,125.66 L476.12,125.27 L476.87,124.88 L477.61,124.48 L478.36,124.09 L479.10,123.70 L479.85,123.31 L480.59,122.93 L481.34,122.54 L482.08,122.16 L482.82,121.78 L483.57,121.39 L484.31,121.02 L485.06,120.64 L485.81,120.26 L486.55,119.88 L487.30,119.51 L488.04,119.14 L488.78,118.77 L489.53,118.40 L490.27,118.03 L491.02,117.66 L491.76,117.30 L492.51,116.94 L493.25,116.57 L494.00,116.21 L494.75,115.86 L495.49,115.50 L496.24,115.14 L496.98,114.79 L497.73,114.44 L498.47,114.09 L499.22,113.74 L499.96,113.39 L500.71,113.04 L501.45,112.70 L502.19,112.36 L502.94,112.02 L503.69,111.68 L504.43,111.34 L505.18,111.00 L505.92,110.67 L506.66,110.33 L507.41,110.00 L508.15,109.67 L508.90,109.35 L509.64,109.02 L510.39,108.69 L511.13,108.37 L511.88,108.05 L512.62,107.73 L513.37,107.41 L514.12,107.09 L514.86,106.78 L515.61,106.46 L516.35,106.15 L517.10,105.84 L517.84,105.53 L518.59,105.23 L519.33,104.92 L520.08,104.62 L520.82,104.31 L521.57,104.01 L522.31,103.71 L523.06,103.42 L523.80,103.12 L524.54,102.83 L525.29,102.53 L526.03,102.24 L526.78,101.95 L527.52,101.67 L528.27,101.38 L529.01,101.10 L529.76,100.81 L530.50,100.53 L531.25,100.25 L532.00,99.97 L532.74,99.70 L533.49,99.42 L534.23,99.15 L534.98,98.87 L535.72,98.60 L536.47,98.33 L537.21,98.07 L537.96,97.80 L538.70,97.54 L539.45,97.27 L540.19,97.01 L540.93,96.75 L541.68,96.49 L542.42,96.24 L543.17,95.98 L543.91,95.73 L544.66,95.47 L545.40,95.22 L546.15,94.97 L546.89,94.72 L547.64,94.48 L548.38,94.23 L549.13,93.99 L549.88,93.75 L550.62,93.51 L551.37,93.27 L552.11,93.03 L552.86,92.79 L553.60,92.56 L554.35,92.32 L555.09,92.09 L555.84,91.86 L556.58,91.63 L557.33,91.40 L558.07,91.17 L558.82,90.95 L559.56,90.72 L560.31,90.50 L561.05,90.28 L561.80,90.06 L562.54,89.84 L563.28,89.62 L564.03,89.41 L564.77,89.19 L565.52,88.98 L566.26,88.77 L567.01,88.56 L567.75,88.35 L568.50,88.14 L569.25,87.93 L569.99,87.73 L570.74,87.52 L571.48,87.32 L572.23,87.12 L572.97,86.92 L573.71,86.72 L574.46,86.52 L575.20,86.32 L575.95,86.12 L576.69,85.93 L577.44,85.74 L578.18,85.54 L578.93,85.35 L579.67,85.16 L580.42,84.98 L581.16,84.79 L581.91,84.60 L582.65,84.42 L583.40,84.23 L584.14,84.05 L584.89,83.87 L585.63,83.69 L586.38,83.51 L587.12,83.33 L587.87,83.15 L588.62,82.98 L589.36,82.80 L590.11,82.63 L590.85,82.45 L591.60,82.28 L592.34,82.11 L593.09,81.94 L593.83,81.77 L594.58,81.61 L595.32,81.44 L596.07,81.27 L596.81,81.11 L597.56,80.95 L598.30,80.78 L599.05,80.62 L599.79,80.46 L600.54,80.30 L601.28,80.14 L602.02,79.99 L602.77,79.83 L603.51,79.68 L604.26,79.52 L605.00,79.37 L605.75,79.22 L606.50,79.06 L607.24,78.91 L607.99,78.76 L608.73,78.62 L609.48,78.47 L610.22,78.32 L610.96,78.17 L611.71,78.03 L612.45,77.89 L613.20,77.74 L613.94,77.60 L614.69,77.46 L615.43,77.32 L616.18,77.18 L616.92,77.04 L617.67,76.90 L618.41,76.77 L619.16,76.63 L619.90,76.49 L620.65,76.36 L621.39,76.23 L622.14,76.09 L622.88,75.96 L623.63,75.83 L624.38,75.70 L625.12,75.57 L625.87,75.44 L626.61,75.31 L627.36,75.19 L628.10,75.06 L628.85,74.94 L629.59,74.81 L630.34,74.69 L631.08,74.56 L631.83,74.44 L632.57,74.32 L633.32,74.20 L634.06,74.08 L634.81,73.96 L635.55,73.84 L636.30,73.72 L637.04,73.61 L637.79,73.49 L638.53,73.37 L639.27,73.26 L640.02,73.14 L640.76,73.03 L641.51,72.92 L642.25,72.81 L643.00,72.69 L643.75,72.58 L644.49,72.47 L645.24,72.36 L645.98,72.25 L646.73,72.15 L647.47,72.04 L648.22,71.93 L648.96,71.83 L649.70,71.72 L650.45,71.62 L651.19,71.51 L651.94,71.41 L652.68,71.31 L653.43,71.20 L654.17,71.10 L654.92,71.00 L655.66,70.90 L656.41,70.80 L657.15,70.70 L657.90,70.60 L658.64,70.50 L659.39,70.41 L660.13,70.31 L660.88,70.21 L661.62,70.12 L662.37,70.02 L663.12,69.93 L663.86,69.84 L664.61,69.74 L665.35,69.65 L666.10,69.56 L666.84,69.47 L667.59,69.38 L668.33,69.28 L669.08,69.19 L669.82,69.11 L670.57,69.02 L671.31,68.93 L672.06,68.84 L672.80,68.75 L673.55,68.67 L674.29,68.58 L675.04,68.49 L675.78,68.41 L676.53,68.32 L677.27,68.24 L678.01,68.16 L678.76,68.07 L679.50,67.99 L680.25,67.91 L681.00,67.83 L681.74,67.75 L682.49,67.67 L683.23,67.59 L683.98,67.51 L684.72,67.43 L685.47,67.35 L686.21,67.27 L686.95,67.19 L687.70,67.11 L688.44,67.04 L689.19,66.96 L689.93,66.88 L690.68,66.81 L691.42,66.73 L692.17,66.66 L692.91,66.58 L693.66,66.51 L694.40,66.44 L695.15,66.36 L695.89,66.29 L696.64,66.22 L697.38,66.15 L698.13,66.08 L698.88,66.01 L699.62,65.94 L700.37,65.87 L701.11,65.80 L701.86,65.73 L702.60,65.66 L703.35,65.59 L704.09,65.52 L704.84,65.45 L705.58,65.39 L706.33,65.32 L707.07,65.25 L707.82,65.19 L708.56,65.12 L709.31,65.06 L710.05,64.99 L710.80,64.93 L711.54,64.86 L712.29,64.80 L713.03,64.74 L713.78,64.67 L714.52,64.61 L715.26,64.55 L716.01,64.49 L716.75,64.42 L717.50,64.36 L717.50,68.94 L716.75,69.02 L716.01,69.10 L715.26,69.18 L714.52,69.26 L713.78,69.34 L713.03,69.42 L712.29,69.51 L711.54,69.59 L710.80,69.67 L710.05,69.75 L709.31,69.84 L708.56,69.92 L707.82,70.01 L707.07,70.09 L706.33,70.18 L705.58,70.26 L704.84,70.35 L704.09,70.44 L703.35,70.52 L702.60,70.61 L701.86,70.70 L701.11,70.79 L700.37,70.88 L699.62,70.97 L698.88,71.06 L698.13,71.15 L697.38,71.24 L696.64,71.33 L695.89,71.42 L695.15,71.52 L694.40,71.61 L693.66,71.70 L692.91,71.80 L692.17,71.89 L691.42,71.99 L690.68,72.09 L689.93,72.18 L689.19,72.28 L688.44,72.38 L687.70,72.47 L686.95,72.57 L686.21,72.67 L685.47,72.77 L684.72,72.87 L683.98,72.97 L683.23,73.07 L682.49,73.18 L681.74,73.28 L681.00,73.38 L680.25,73.49 L679.50,73.59 L678.76,73.70 L678.01,73.80 L677.27,73.91 L676.53,74.01 L675.78,74.12 L675.04,74.23 L674.29,74.34 L673.55,74.45 L672.80,74.56 L672.06,74.67 L671.31,74.78 L670.57,74.89 L669.82,75.00 L669.08,75.11 L668.33,75.23 L667.59,75.34 L666.84,75.46 L666.10,75.57 L665.35,75.69 L664.61,75.80 L663.86,75.92 L663.12,76.04 L662.37,76.16 L661.62,76.28 L660.88,76.40 L660.13,76.52 L659.39,76.64 L658.64,76.76 L657.90,76.88 L657.15,77.01 L656.41,77.13 L655.66,77.26 L654.92,77.38 L654.17,77.51 L653.43,77.64 L652.68,77.76 L651.94,77.89 L651.19,78.02 L650.45,78.15 L649.70,78.28 L648.96,78.41 L648.22,78.54 L647.47,78.68 L646.73,78.81 L645.98,78.95 L645.24,79.08 L644.49,79.22 L643.75,79.35 L643.00,79.49 L642.25,79.63 L641.51,79.77 L640.76,79.91 L640.02,80.05 L639.27,80.19 L638.53,80.33 L637.79,80.47 L637.04,80.62 L636.30,80.76 L635.55,80.91 L634.81,81.05 L634.06,81.20 L633.32,81.35 L632.57,81.50 L631.83,81.65 L631.08,81.80 L630.34,81.95 L629.59,82.10 L628.85,82.25 L628.10,82.41 L627.36,82.56 L626.61,82.72 L625.87,82.87 L625.12,83.03 L624.38,83.19 L623.63,83.35 L622.88,83.51 L622.14,83.67 L621.39,83.83 L620.65,83.99 L619.90,84.16 L619.16,84.32 L618.41,84.49 L617.67,84.65 L616.92,84.82 L616.18,84.99 L615.43,85.16 L614.69,85.33 L613.94,85.50 L613.20,85.67 L612.45,85.84 L611.71,86.02 L610.96,86.19 L610.22,86.37 L609.48,86.54 L608.73,86.72 L607.99,86.90 L607.24,87.08 L606.50,87.26 L605.75,87.44 L605.00,87.63 L604.26,87.81 L603.51,88.00 L602.77,88.18 L602.02,88.37 L601.28,88.56 L600.54,88.74 L599.79,88.93 L599.05,89.13 L598.30,89.32 L597.56,89.51 L596.81,89.71 L596.07,89.90 L595.32,90.10 L594.58,90.29 L593.83,90.49 L593.09,90.69 L592.34,90.89 L591.60,91.09 L590.85,91.30 L590.11,91.50 L589.36,91.71 L588.62,91.91 L587.87,92.12 L587.12,92.33 L586.38,92.54 L585.63,92.75 L584.89,92.96 L584.14,93.17 L583.40,93.39 L582.65,93.60 L581.91,93.82 L581.16,94.04 L580.42,94.26 L579.67,94.48 L578.93,94.70 L578.18,94.92 L577.44,95.14 L576.69,95.37 L575.95,95.59 L575.20,95.82 L574.46,96.05 L573.71,96.28 L572.97,96.51 L572.23,96.74 L571.48,96.97 L570.74,97.21 L569.99,97.44 L569.25,97.68 L568.50,97.92 L567.75,98.16 L567.01,98.40 L566.26,98.64 L565.52,98.88 L564.77,99.12 L564.03,99.37 L563.28,99.62 L562.54,99.86 L561.80,100.11 L561.05,100.36 L560.31,100.61 L559.56,100.87 L558.82,101.12 L558.07,101.38 L557.33,101.63 L556.58,101.89 L555.84,102.15 L555.09,102.41 L554.35,102.67 L553.60,102.93 L552.86,103.20 L552.11,103.46 L551.37,103.73 L550.62,104.00 L549.88,104.27 L549.13,104.54 L548.38,104.81 L547.64,105.08 L546.89,105.36 L546.15,105.64 L545.40,105.91 L544.66,106.19 L543.91,106.47 L543.17,106.75 L542.42,107.03 L541.68,107.32 L540.93,107.60 L540.19,107.89 L539.45,108.18 L538.70,108.47 L537.96,108.76 L537.21,109.05 L536.47,109.34 L535.72,109.63 L534.98,109.93 L534.23,110.23 L533.49,110.52 L532.74,110.82 L532.00,111.12 L531.25,111.43 L530.50,111.73 L529.76,112.03 L529.01,112.34 L528.27,112.65 L527.52,112.95 L526.78,113.26 L526.03,113.58 L525.29,113.89 L524.54,114.20 L523.80,114.52 L523.06,114.83 L522.31,115.15 L521.57,115.47 L520.82,115.79 L520.08,116.11 L519.33,116.43 L518.59,116.75 L517.84,117.08 L517.10,117.41 L516.35,117.73 L515.61,118.06 L514.86,118.39 L514.12,118.72 L513.37,119.05 L512.62,119.39 L511.88,119.72 L511.13,120.06 L510.39,120.39 L509.64,120.73 L508.90,121.07 L508.15,121.41 L507.41,121.75 L506.66,122.10 L505.92,122.44 L505.18,122.79 L504.43,123.13 L503.69,123.48 L502.94,123.83 L502.19,124.18 L501.45,124.53 L500.71,124.88 L499.96,125.23 L499.22,125.59 L498.47,125.94 L497.73,126.30 L496.98,126.66 L496.24,127.01 L495.49,127.37 L494.75,127.73 L494.00,128.09 L493.25,128.46 L492.51,128.82 L491.76,129.18 L491.02,129.55 L490.27,129.91 L489.53,130.28 L488.78,130.65 L488.04,131.02 L487.30,131.39 L486.55,131.76 L485.81,132.13 L485.06,132.50 L484.31,132.87 L483.57,133.24 L482.82,133.62 L482.08,133.99 L481.34,134.37 L480.59,134.75 L479.85,135.12 L479.10,135.50 L478.36,135.88 L477.61,136.26 L476.87,136.64 L476.12,137.02 L475.38,137.40 L474.63,137.78 L473.88,138.17 L473.14,138.55 L472.39,138.93 L471.65,139.32 L470.90,139.70 L470.16,140.09 L469.42,140.47 L468.67,140.86 L467.93,141.24 L467.18,141.63 L466.44,142.02 L465.69,142.40 L464.94,142.79 L464.20,143.18 L463.45,143.57 L462.71,143.96 L461.97,144.34 L461.22,144.73 L460.48,145.12 L459.73,145.51 L458.99,145.90 L458.24,146.29 L457.50,146.68 L456.75,147.07 L456.00,147.46 L455.26,147.85 L454.51,148.24 L453.77,148.63 L453.02,149.02 L452.28,149.41 L451.53,149.80 L450.79,150.19 L450.05,150.58 L449.30,150.96 L448.56,151.35 L447.81,151.74 L447.06,152.13 L446.32,152.52 L445.57,152.91 L444.83,153.29 L444.08,153.68 L443.34,154.07 L442.60,154.45 L441.85,154.84 L441.11,155.22 L440.36,155.61 L439.62,155.99 L438.87,156.37 L438.12,156.76 L437.38,157.14 L436.63,157.52 L435.89,157.90 L435.14,158.28 L434.40,158.66 L433.65,159.04 L432.91,159.42 L432.17,159.79 L431.42,160.17 L430.68,160.54 L429.93,160.92 L429.19,161.29 L428.44,161.66 L427.69,162.04 L426.95,162.41 L426.20,162.77 L425.46,163.14 L424.71,163.51 L423.97,163.88 L423.23,164.24 L422.48,164.60 L421.74,164.97 L420.99,165.33 L420.25,165.69 L419.50,166.04Z" fill="rgb(255,0,0)" fill-opacity="0.72"/>
<rect x="457" y="2.0" width="1" height="243.0" fill="rgb(0,128,0)" fill-opacity="0.3"/>
<rect x="456" y="2.0" width="1" height="243.0" fill="rgb(0,128,0)" fill-opacity="0.14"/>
<rect x="494" y="2.0" width="1" height="243.0" fill="rgb(0,128,0)" fill-opacity="0.3"/>
<rect x="493" y="2.0" width="1" height="243.0" fill="rgb(0,128,0)" fill-opacity="0.12"/>
<rect x="531" y="2.0" width="1" height="243.0" fill="rgb(0,128,0)" fill-opacity="0.05"/>
<rect x="568" y="2.0" width="1" height="243.0" fill="rgb(0,128,0)" fill-opacity="0.3"/>
<rect x="569" y="2.0" width="1" height="243.0" fill="rgb(0,128,0)" fill-opacity="0.12"/>
<rect x="605" y="2.0" width="1" height="243.0" fill="rgb(0,128,0)" fill-opacity="0.3"/>
<rect x="606" y="2.0" width="1" height="243.0" fill="rgb(0,128,0)" fill-opacity="0.12"/>
<rect x="643" y="2.0" width="1" height="243.0" fill="rgb(0,128,0)" fill-opacity="0.05"/>
<rect x="680" y="2.0" width="1" height="243.0" fill="rgb(0,128,0)" fill-opacity="0.3"/>
<rect x="681" y="2.0" width="1" height="243.0" fill="rgb(0,128,0)" fill-opacity="0.07"/>
<rect x="419.0" y="51" width="299.0" height="1" fill="rgb(0,128,0)" fill-opacity="0.3"/>
<rect x="419.0" y="50" width="299.0" height="1" fill="rgb(0,128,0)" fill-opacity="0.12"/>
<rect x="419.0" y="99" width="299.0" height="1" fill="rgb(0,128,0)" fill-opacity="0.05"/>
<rect x="419.0" y="147" width="299.0" height="1" fill="rgb(0,128,0)" fill-opacity="0.05"/>
<rect x="419.0" y="196" width="299.0" height="1" fill="rgb(0,128,0)" fill-opacity="0.3"/>
<rect x="419.0" y="195" width="299.0" height="1" fill="rgb(0,128,0)" fill-opacity="0.12"/>
<path d="M419.50,161.25 L420.25,160.85 L420.99,160.46 L421.74,160.06 L422.48,159.65 L423.23,159.25 L423.97,158.85 L424.71,158.45 L425.46,158.04 L426.20,157.64 L426.95,157.23 L427.69,156.82 L428.44,156.41 L429.19,156.01 L429.93,155.60 L430.68,155.19 L431.42,154.78 L432.17,154.37 L432.91,153.95 L433.65,153.54 L434.40,153.13 L435.14,152.72 L435.89,152.30 L436.63,151.89 L437.38,151.48 L438.12,151.06 L438.87,150.65 L439.62,150.23 L440.36,149.82 L441.11,149.40 L441.85,148.99 L442.60,148.57 L443.34,148.16 L444.08,147.74 L444.83,147.33 L445.57,146.91 L446.32,146.50 L447.06,146.08 L447.81,145.67 L448.56,145.25 L449.30,144.84 L450.05,144.42 L450.79,144.01 L451.53,143.60 L452.28,143.18 L453.02,142.77 L453.77,142.36 L454.51,141.94 L455.26,141.53 L456.00,141.12 L456.75,140.71 L457.50,140.30 L458.24,139.89 L458.99,139.48 L459.73,139.07 L460.48,138.66 L461.22,138.25 L461.97,137.84 L462.71,137.44 L463.45,137.03 L464.20,136.62 L464.94,136.22 L465.69,135.82 L466.44,135.41 L467.18,135.01 L467.93,134.61 L468.67,134.21 L469.42,133.81 L470.16,133.41 L470.90,133.01 L471.65,132.61 L472.39,132.22 L473.14,131.82 L473.88,131.43 L474.63,131.03 L475.38,130.64 L476.12,130.25 L476.87,129.86 L477.61,129.47 L478.36,129.08 L479.10,128.69 L479.85,128.31 L480.59,127.92 L481.34,127.54 L482.08,127.15 L482.82,126.77 L483.57,126.39 L484.31,126.01 L485.06,125.63 L485.81,125.25 L486.55,124.88 L487.30,124.50 L488.04,124.13 L488.78,123.76 L489.53,123.39 L490.27,123.02 L491.02,122.65 L491.76,122.28 L492.51,121.92 L493.25,121.55 L494.00,121.19 L494.75,120.83 L495.49,120.47 L496.24,120.11 L496.98,119.75 L497.73,119.39 L498.47,119.04 L499.22,118.68 L499.96,118.33 L500.71,117.98 L501.45,117.63 L502.19,117.28 L502.94,116.93 L503.69,116.59 L504.43,116.24 L505.18,115.90 L505.92,115.56 L506.66,115.22 L507.41,114.88 L508.15,114.55 L508.90,114.21 L509.64,113.88 L510.39,113.54 L511.13,113.21 L511.88,112.88 L512.62,112.55 L513.37,112.23 L514.12,111.90 L514.86,111.58 L515.61,111.26 L516.35,110.94 L517.10,110.62 L517.84,110.30 L518.59,109.98 L519.33,109.67 L520.08,109.35 L520.82,109.04 L521.57,108.73 L522.31,108.42 L523.06,108.11 L523.80,107.81 L524.54,107.50 L525.29,107.20 L526.03,106.90 L526.78,106.60 L527.52,106.30 L528.27,106.00 L529.01,105.71 L529.76,105.41 L530.50,105.12 L531.25,104.83 L532.00,104.54 L532.74,104.25 L533.49,103.96 L534.23,103.68 L534.98,103.39 L535.72,103.11 L536.47,102.83 L537.21,102.55 L537.96,102.27 L538.70,102.00 L539.45,101.72 L540.19,101.45 L540.93,101.18 L541.68,100.90 L542.42,100.63 L543.17,100.37 L543.91,100.10 L544.66,99.83 L545.40,99.57 L546.15,99.31 L546.89,99.05 L547.64,98.79 L548.38,98.53 L549.13,98.27 L549.88,98.02 L550.62,97.76 L551.37,97.51 L552.11,97.26 L552.86,97.01 L553.60,96.76 L554.35,96.52 L555.09,96.27 L555.84,96.03 L556.58,95.78 L557.33,95.54 L558.07,95.30 L558.82,95.06 L559.56,94.82 L560.31,94.59 L561.05,94.35 L561.80,94.12 L562.54,93.89 L563.28,93.66 L564.03,93.43 L564.77,93.20 L565.52,92.97 L566.26,92.75 L567.01,92.52 L567.75,92.30 L568.50,92.08 L569.25,91.86 L569.99,91.64 L570.74,91.42 L571.48,91.20 L572.23,90.99 L572.97,90.77 L573.71,90.56 L574.46,90.35 L575.20,90.14 L575.95,89.93 L576.69,89.72 L577.44,89.51 L578.18,89.31 L578.93,89.10 L579.67,88.90 L580.42,88.70 L581.16,88.49 L581.91,88.29 L582.65,88.10 L583.40,87.90 L584.14,87.70 L584.89,87.51 L585.63,87.31 L586.38,87.12 L587.12,86.93 L587.87,86.74 L588.62,86.55 L589.36,86.36 L590.11,86.17 L590.85,85.99 L591.60,85.80 L592.34,85.62 L593.09,85.43 L593.83,85.25 L594.58,85.07 L595.32,84.89 L596.07,84.71 L596.81,84.54 L597.56,84.36 L598.30,84.18 L599.05,84.01 L599.79,83.84 L600.54,83.66 L601.28,83.49 L602.02,83.32 L602.77,83.15 L603.51,82.98 L604.26,82.82 L605.00,82.65 L605.75,82.49 L606.50,82.32 L607.24,82.16 L607.99,82.00 L608.73,81.83 L609.48,81.67 L610.22,81.51 L610.96,81.36 L611.71,81.20 L612.45,81.04 L613.20,80.89 L613.94,80.73 L614.69,80.58 L615.43,80.42 L616.18,80.27 L616.92,80.12 L617.67,79.97 L618.41,79.82 L619.16,79.67 L619.90,79.53 L620.65,79.38 L621.39,79.23 L622.14,79.09 L622.88,78.95 L623.63,78.80 L624.38,78.66 L625.12,78.52 L625.87,78.38 L626.61,78.24 L627.36,78.10 L628.10,77.96 L628.85,77.82 L629.59,77.69 L630.34,77.55 L631.08,77.42 L631.83,77.28 L632.57,77.15 L633.32,77.02 L634.06,76.89 L634.81,76.76 L635.55,76.63 L636.30,76.50 L637.04,76.37 L637.79,76.24 L638.53,76.11 L639.27,75.99 L640.02,75.86 L640.76,75.74 L641.51,75.61 L642.25,75.49 L643.00,75.37 L643.75,75.25 L644.49,75.13 L645.24,75.01 L645.98,74.89 L646.73,74.77 L647.47,74.65 L648.22,74.53 L648.96,74.41 L649.70,74.30 L650.45,74.18 L651.19,74.07 L651.94,73.95 L652.68,73.84 L653.43,73.73 L654.17,73.62 L654.92,73.51 L655.66,73.39 L656.41,73.28 L657.15,73.18 L657.90,73.07 L658.64,72.96 L659.39,72.85 L660.13,72.74 L660.88,72.64 L661.62,72.53 L662.37,72.43 L663.12,72.32 L663.86,72.22 L664.61,72.12 L665.35,72.01 L666.10,71.91 L666.84,71.81 L667.59,71.71 L668.33,71.61 L669.08,71.51 L669.82,71.41 L670.57,71.31 L671.31,71.22 L672.06,71.12 L672.80,71.02 L673.55,70.93 L674.29,70.83 L675.04,70.74 L675.78,70.64 L676.53,70.55 L677.27,70.46 L678.01,70.36 L678.76,70.27 L679.50,70.18 L680.25,70.09 L681.00,70.00 L681.74,69.91 L682.49,69.82 L683.23,69.73 L683.98,69.64 L684.72,69.55 L685.47,69.46 L686.21,69.38 L686.95,69.29 L687.70,69.21 L688.44,69.12 L689.19,69.03 L689.93,68.95 L690.68,68.87 L691.42,68.78 L692.17,68.70 L692.91,68.62 L693.66,68.54 L694.40,68.45 L695.15,68.37 L695.89,68.29 L696.64,68.21 L697.38,68.13 L698.13,68.05 L698.88,67.97 L699.62,67.90 L700.37,67.82 L701.11,67.74 L701.86,67.66 L702.60,67.59 L703.35,67.51 L704.09,67.43 L704.84,67.36 L705.58,67.28 L706.33,67.21 L707.07,67.14 L707.82,67.06 L708.56,66.99 L709.31,66.92 L710.05,66.84 L710.80,66.77 L711.54,66.70 L712.29,66.63 L713.03,66.56 L713.78,66.49 L714.52,66.42 L715.26,66.35 L716.01,66.28 L716.75,66.21 L717.50,66.14" fill="none" stroke="#000" stroke-width="1.8"/>
</g>
<rect x="419" y="3" width="1" height="241" fill="#000" fill-opacity="0.09"/>
<rect x="717" y="3" width="1" height="241" fill="#000" fill-opacity="0.45"/>
<rect x="718" y="3" width="1" height="241" fill="#000" fill-opacity="0.1"/>
<rect x="418" y="2" width="300" height="1" fill="#000" fill-opacity="0.75"/>
<rect x="418" y="244" width="300" height="1" fill="#000" fill-opacity="0.6"/>
<rect x="417.5" y="2" width="1.5" height="1" fill="#000" fill-opacity="0.35"/>
<rect x="417.5" y="51" width="1.5" height="1" fill="#000" fill-opacity="0.35"/>
<rect x="417.5" y="99" width="1.5" height="1" fill="#000" fill-opacity="0.35"/>
<rect x="417.5" y="147" width="1.5" height="1" fill="#000" fill-opacity="0.35"/>
<rect x="417.5" y="196" width="1.5" height="1" fill="#000" fill-opacity="0.35"/>
<rect x="417.5" y="244" width="1.5" height="1" fill="#000" fill-opacity="0.35"/>
<rect x="419" y="245" width="1" height="1.3" fill="#000" fill-opacity="0.45"/>
<rect x="457" y="245" width="1" height="1.3" fill="#000" fill-opacity="0.45"/>
<rect x="494" y="245" width="1" height="1.3" fill="#000" fill-opacity="0.45"/>
<rect x="531" y="245" width="1" height="1.3" fill="#000" fill-opacity="0.45"/>
<rect x="568" y="245" width="1" height="1.3" fill="#000" fill-opacity="0.45"/>
<rect x="605" y="245" width="1" height="1.3" fill="#000" fill-opacity="0.45"/>
<rect x="643" y="245" width="1" height="1.3" fill="#000" fill-opacity="0.45"/>
<rect x="680" y="245" width="1" height="1.3" fill="#000" fill-opacity="0.45"/>
<rect x="717" y="245" width="1" height="1.3" fill="#000" fill-opacity="0.45"/>
<text transform="translate(416.20,5.70) scale(0.92,1)" font-size="8.4" text-anchor="end" fill="#000" stroke="#000" stroke-width="0.2" stroke-opacity="0.6">1.0</text>
<text transform="translate(416.20,54.10) scale(0.92,1)" font-size="8.4" text-anchor="end" fill="#000" stroke="#000" stroke-width="0.2" stroke-opacity="0.6">0.5</text>
<text transform="translate(416.20,102.50) scale(0.92,1)" font-size="8.4" text-anchor="end" fill="#000" stroke="#000" stroke-width="0.2" stroke-opacity="0.6">0.0</text>
<text transform="translate(416.20,150.90) scale(0.92,1)" font-size="8.4" text-anchor="end" fill="#000" stroke="#000" stroke-width="0.2" stroke-opacity="0.6">−0.5</text>
<text transform="translate(416.20,199.30) scale(0.92,1)" font-size="8.4" text-anchor="end" fill="#000" stroke="#000" stroke-width="0.2" stroke-opacity="0.6">−1.0</text>
<text transform="translate(416.20,247.70) scale(0.92,1)" font-size="8.4" text-anchor="end" fill="#000" stroke="#000" stroke-width="0.2" stroke-opacity="0.6">−1.5</text>
<text transform="translate(419.50,253.70) scale(0.92,1)" font-size="8.4" text-anchor="middle" fill="#000" stroke="#000" stroke-width="0.2" stroke-opacity="0.6">0.00</text>
<text transform="translate(456.75,253.70) scale(0.92,1)" font-size="8.4" text-anchor="middle" fill="#000" stroke="#000" stroke-width="0.2" stroke-opacity="0.6">0.25</text>
<text transform="translate(494.00,253.70) scale(0.92,1)" font-size="8.4" text-anchor="middle" fill="#000" stroke="#000" stroke-width="0.2" stroke-opacity="0.6">0.50</text>
<text transform="translate(531.25,253.70) scale(0.92,1)" font-size="8.4" text-anchor="middle" fill="#000" stroke="#000" stroke-width="0.2" stroke-opacity="0.6">0.75</text>
<text transform="translate(568.50,253.70) scale(0.92,1)" font-size="8.4" text-anchor="middle" fill="#000" stroke="#000" stroke-width="0.2" stroke-opacity="0.6">1.00</text>
<text transform="translate(605.75,253.70) scale(0.92,1)" font-size="8.4" text-anchor="middle" fill="#000" stroke="#000" stroke-width="0.2" stroke-opacity="0.6">1.25</text>
<text transform="translate(643.00,253.70) scale(0.92,1)" font-size="8.4" text-anchor="middle" fill="#000" stroke="#000" stroke-width="0.2" stroke-opacity="0.6">1.50</text>
<text transform="translate(680.25,253.70) scale(0.92,1)" font-size="8.4" text-anchor="middle" fill="#000" stroke="#000" stroke-width="0.2" stroke-opacity="0.6">1.75</text>
<text transform="translate(717.50,253.70) scale(0.92,1)" font-size="8.4" text-anchor="middle" fill="#000" stroke="#000" stroke-width="0.2" stroke-opacity="0.6">2.00</text>
<text transform="translate(568.50,263.40) scale(0.9,1)" font-size="10.5" font-style="italic" text-anchor="middle" stroke="#000" stroke-width="0.2" stroke-opacity="0.6">z</text>
<text transform="translate(395.00,123.50) rotate(-90) scale(1.1,1)" font-size="9" text-anchor="middle" stroke="#000" stroke-width="0.2" stroke-opacity="0.6"><tspan font-style="italic">q</tspan>(<tspan font-style="italic">z</tspan>)</text>
<rect x="423.50" y="6.50" width="137.80" height="44.00" rx="2" fill="#fff" fill-opacity="0.8" stroke="#ccc" stroke-opacity="0.8" stroke-width="1"/>
<line x1="425.30" y1="11.40" x2="440.90" y2="11.40" stroke="#000" stroke-width="1.5"/>
<rect x="426.10" y="20.35" width="13.9" height="4.8" fill="rgb(204,230,204)"/>
<rect x="426.10" y="30.75" width="13.9" height="4.8" fill="rgb(0,0,255)" fill-opacity="0.6"/>
<rect x="426.10" y="41.30" width="13.9" height="4.8" fill="rgb(255,0,0)" fill-opacity="0.72"/>
<text transform="translate(446.00,14.60) scale(0.94,1)" font-size="8" font-style="italic" stroke="#000" stroke-width="0.2" stroke-opacity="0.6">Best ΛCDM</text>
<text x="446.00" y="24.80" font-size="8" stroke="#000" stroke-width="0.2" stroke-opacity="0.6">95% confidence interval, <tspan font-style="italic">H</tspan><tspan font-style="italic" font-size="5.5" dy="1.5">EXP</tspan></text>
<text x="446.00" y="35.70" font-size="8" stroke="#000" stroke-width="0.2" stroke-opacity="0.6">95% confidence interval, GA</text>
<text x="446.00" y="45.80" font-size="8" stroke="#000" stroke-width="0.2" stroke-opacity="0.6">95% confidence interval, <tspan font-style="italic">ΛCDM</tspan></text>
<clipPath id="clipBL"><rect x="31.50" y="324.50" width="298.00" height="242.00"/></clipPath>
<g clip-path="url(#clipBL)">
<path d="M31.50,460.02 L32.24,460.00 L32.99,459.94 L33.73,459.86 L34.48,459.74 L35.23,459.60 L35.97,459.44 L36.72,459.25 L37.46,459.03 L38.20,458.80 L38.95,458.55 L39.70,458.28 L40.44,458.00 L41.19,457.70 L41.93,457.39 L42.67,457.07 L43.42,456.74 L44.16,456.41 L44.91,456.06 L45.66,455.72 L46.40,455.37 L47.14,455.01 L47.89,454.59 L48.64,454.14 L49.38,453.65 L50.12,453.12 L50.87,452.56 L51.62,451.96 L52.36,451.32 L53.10,450.65 L53.85,449.95 L54.59,449.22 L55.34,448.46 L56.09,447.68 L56.83,446.86 L57.58,446.02 L58.32,445.16 L59.06,444.25 L59.81,443.12 L60.55,441.88 L61.30,440.66 L62.05,439.50 L62.79,438.34 L63.53,437.18 L64.28,436.01 L65.03,434.85 L65.77,433.70 L66.52,432.56 L67.26,431.43 L68.00,430.33 L68.75,429.26 L69.50,428.21 L70.24,427.19 L70.98,426.20 L71.73,425.22 L72.47,424.27 L73.22,423.34 L73.97,422.41 L74.71,421.50 L75.45,420.61 L76.20,419.72 L76.94,418.83 L77.69,417.95 L78.44,417.07 L79.18,416.20 L79.93,415.32 L80.67,414.43 L81.42,413.55 L82.16,412.66 L82.91,411.78 L83.65,410.90 L84.39,410.02 L85.14,409.15 L85.88,408.28 L86.63,407.42 L87.38,406.58 L88.12,405.74 L88.87,404.91 L89.61,404.10 L90.36,403.30 L91.10,402.52 L91.84,401.76 L92.59,401.01 L93.34,400.27 L94.08,399.53 L94.82,398.79 L95.57,398.07 L96.31,397.35 L97.06,396.64 L97.81,395.94 L98.55,395.24 L99.30,394.56 L100.04,393.89 L100.78,393.24 L101.53,392.59 L102.28,391.96 L103.02,391.35 L103.77,390.75 L104.51,390.17 L105.25,389.61 L106.00,389.07 L106.75,388.54 L107.49,388.02 L108.23,387.51 L108.98,387.01 L109.73,386.52 L110.47,386.04 L111.22,385.58 L111.96,385.13 L112.71,384.68 L113.45,384.26 L114.20,383.84 L114.94,383.44 L115.69,383.05 L116.43,382.68 L117.18,382.32 L117.92,381.96 L118.66,381.61 L119.41,381.26 L120.16,380.92 L120.90,380.58 L121.64,380.25 L122.39,379.93 L123.14,379.61 L123.88,379.31 L124.62,379.02 L125.37,378.75 L126.11,378.49 L126.86,378.24 L127.61,378.02 L128.35,377.81 L129.09,377.62 L129.84,377.45 L130.59,377.29 L131.33,377.14 L132.07,377.00 L132.82,376.87 L133.56,376.74 L134.31,376.63 L135.06,376.51 L135.80,376.40 L136.54,376.29 L137.29,376.19 L138.03,376.08 L138.78,375.98 L139.52,375.87 L140.27,375.76 L141.01,375.64 L141.76,375.52 L142.50,375.39 L143.25,375.27 L144.00,375.14 L144.74,375.01 L145.49,374.89 L146.23,374.78 L146.98,374.68 L147.72,374.58 L148.47,374.50 L149.21,374.43 L149.96,374.38 L150.70,374.35 L151.44,374.33 L152.19,374.31 L152.94,374.29 L153.68,374.27 L154.43,374.26 L155.17,374.24 L155.91,374.22 L156.66,374.21 L157.41,374.20 L158.15,374.19 L158.89,374.18 L159.64,374.17 L160.38,374.17 L161.13,374.16 L161.88,374.16 L162.62,374.16 L163.37,374.16 L164.11,374.18 L164.85,374.20 L165.60,374.23 L166.34,374.27 L167.09,374.32 L167.84,374.37 L168.58,374.43 L169.33,374.50 L170.07,374.57 L170.81,374.65 L171.56,374.72 L172.31,374.81 L173.05,374.89 L173.80,374.98 L174.54,375.07 L175.28,375.17 L176.03,375.26 L176.78,375.35 L177.52,375.44 L178.26,375.54 L179.01,375.63 L179.75,375.72 L180.50,375.80 L181.25,375.89 L181.99,375.98 L182.74,376.07 L183.48,376.17 L184.22,376.26 L184.97,376.36 L185.71,376.46 L186.46,376.56 L187.20,376.67 L187.95,376.77 L188.69,376.88 L189.44,376.99 L190.19,377.11 L190.93,377.22 L191.67,377.34 L192.42,377.45 L193.16,377.57 L193.91,377.69 L194.66,377.82 L195.40,377.94 L196.15,378.06 L196.89,378.19 L197.63,378.32 L198.38,378.45 L199.12,378.57 L199.87,378.71 L200.62,378.84 L201.36,378.97 L202.10,379.10 L202.85,379.24 L203.59,379.37 L204.34,379.51 L205.09,379.64 L205.83,379.78 L206.58,379.92 L207.32,380.06 L208.06,380.19 L208.81,380.33 L209.56,380.47 L210.30,380.61 L211.05,380.75 L211.79,380.89 L212.54,381.03 L213.28,381.17 L214.03,381.31 L214.77,381.45 L215.52,381.58 L216.26,381.72 L217.01,381.86 L217.75,382.00 L218.50,382.14 L219.24,382.28 L219.99,382.42 L220.73,382.56 L221.48,382.70 L222.22,382.85 L222.96,382.99 L223.71,383.14 L224.45,383.28 L225.20,383.43 L225.94,383.58 L226.69,383.73 L227.44,383.88 L228.18,384.03 L228.92,384.18 L229.67,384.33 L230.41,384.49 L231.16,384.64 L231.91,384.80 L232.65,384.95 L233.40,385.11 L234.14,385.26 L234.88,385.42 L235.63,385.58 L236.38,385.73 L237.12,385.89 L237.87,386.05 L238.61,386.21 L239.35,386.37 L240.10,386.53 L240.84,386.69 L241.59,386.85 L242.34,387.01 L243.08,387.17 L243.83,387.33 L244.57,387.49 L245.31,387.65 L246.06,387.81 L246.81,387.98 L247.55,388.14 L248.30,388.30 L249.04,388.46 L249.79,388.62 L250.53,388.78 L251.28,388.94 L252.02,389.10 L252.77,389.26 L253.51,389.42 L254.26,389.58 L255.00,389.74 L255.75,389.90 L256.49,390.06 L257.24,390.22 L257.98,390.38 L258.73,390.55 L259.47,390.71 L260.22,390.87 L260.96,391.03 L261.70,391.19 L262.45,391.36 L263.19,391.52 L263.94,391.68 L264.69,391.84 L265.43,392.01 L266.17,392.17 L266.92,392.34 L267.66,392.50 L268.41,392.66 L269.15,392.83 L269.90,392.99 L270.64,393.16 L271.39,393.32 L272.13,393.49 L272.88,393.65 L273.62,393.82 L274.37,393.99 L275.12,394.15 L275.86,394.32 L276.61,394.48 L277.35,394.65 L278.10,394.82 L278.84,394.98 L279.59,395.15 L280.33,395.31 L281.08,395.48 L281.82,395.65 L282.56,395.81 L283.31,395.98 L284.06,396.15 L284.80,396.31 L285.55,396.48 L286.29,396.64 L287.04,396.81 L287.78,396.98 L288.53,397.14 L289.27,397.31 L290.01,397.47 L290.76,397.64 L291.50,397.81 L292.25,397.97 L293.00,398.14 L293.74,398.30 L294.49,398.47 L295.23,398.63 L295.98,398.80 L296.72,398.97 L297.47,399.13 L298.21,399.30 L298.95,399.46 L299.70,399.63 L300.44,399.79 L301.19,399.96 L301.94,400.13 L302.68,400.29 L303.43,400.46 L304.17,400.62 L304.92,400.79 L305.66,400.96 L306.40,401.12 L307.15,401.29 L307.89,401.46 L308.64,401.62 L309.38,401.79 L310.13,401.95 L310.88,402.12 L311.62,402.29 L312.37,402.45 L313.11,402.62 L313.86,402.79 L314.60,402.95 L315.35,403.12 L316.09,403.29 L316.83,403.45 L317.58,403.62 L318.32,403.79 L319.07,403.96 L319.81,404.12 L320.56,404.29 L321.31,404.46 L322.05,404.62 L322.80,404.79 L323.54,404.96 L324.29,405.12 L325.03,405.29 L325.78,405.46 L326.52,405.63 L327.26,405.79 L328.01,405.96 L328.75,406.13 L329.50,406.30 L329.50,491.19 L328.75,491.15 L328.01,491.12 L327.26,491.08 L326.52,491.04 L325.78,491.00 L325.03,490.96 L324.29,490.93 L323.54,490.89 L322.80,490.85 L322.05,490.81 L321.31,490.77 L320.56,490.73 L319.81,490.69 L319.07,490.65 L318.32,490.61 L317.58,490.57 L316.83,490.53 L316.09,490.49 L315.35,490.45 L314.60,490.40 L313.86,490.36 L313.11,490.32 L312.37,490.28 L311.62,490.24 L310.88,490.19 L310.13,490.15 L309.38,490.11 L308.64,490.06 L307.89,490.02 L307.15,489.98 L306.40,489.93 L305.66,489.89 L304.92,489.84 L304.17,489.80 L303.43,489.75 L302.68,489.71 L301.94,489.66 L301.19,489.62 L300.44,489.57 L299.70,489.53 L298.95,489.48 L298.21,489.44 L297.47,489.39 L296.72,489.34 L295.98,489.30 L295.23,489.25 L294.49,489.20 L293.74,489.16 L293.00,489.11 L292.25,489.06 L291.50,489.01 L290.76,488.96 L290.01,488.91 L289.27,488.86 L288.53,488.81 L287.78,488.76 L287.04,488.71 L286.29,488.65 L285.55,488.60 L284.80,488.55 L284.06,488.49 L283.31,488.44 L282.56,488.38 L281.82,488.33 L281.08,488.27 L280.33,488.21 L279.59,488.16 L278.84,488.10 L278.10,488.04 L277.35,487.99 L276.61,487.93 L275.86,487.87 L275.12,487.81 L274.37,487.75 L273.62,487.70 L272.88,487.64 L272.13,487.58 L271.39,487.52 L270.64,487.47 L269.90,487.41 L269.15,487.35 L268.41,487.30 L267.66,487.24 L266.92,487.18 L266.17,487.13 L265.43,487.07 L264.69,487.02 L263.94,486.96 L263.19,486.91 L262.45,486.85 L261.70,486.80 L260.96,486.75 L260.22,486.69 L259.47,486.64 L258.73,486.59 L257.98,486.54 L257.24,486.49 L256.49,486.44 L255.75,486.40 L255.00,486.35 L254.26,486.30 L253.51,486.26 L252.77,486.21 L252.02,486.17 L251.28,486.12 L250.53,486.08 L249.79,486.04 L249.04,485.99 L248.30,485.95 L247.55,485.91 L246.81,485.87 L246.06,485.83 L245.31,485.79 L244.57,485.75 L243.83,485.71 L243.08,485.67 L242.34,485.63 L241.59,485.59 L240.84,485.55 L240.10,485.51 L239.35,485.47 L238.61,485.43 L237.87,485.39 L237.12,485.35 L236.38,485.31 L235.63,485.28 L234.88,485.24 L234.14,485.20 L233.40,485.16 L232.65,485.12 L231.91,485.08 L231.16,485.04 L230.41,485.01 L229.67,484.97 L228.92,484.93 L228.18,484.89 L227.44,484.85 L226.69,484.81 L225.94,484.77 L225.20,484.73 L224.45,484.69 L223.71,484.65 L222.96,484.61 L222.22,484.57 L221.48,484.53 L220.73,484.49 L219.99,484.44 L219.24,484.40 L218.50,484.36 L217.75,484.32 L217.01,484.27 L216.26,484.23 L215.52,484.19 L214.77,484.15 L214.03,484.10 L213.28,484.06 L212.54,484.02 L211.79,483.98 L211.05,483.93 L210.30,483.89 L209.56,483.85 L208.81,483.81 L208.06,483.77 L207.32,483.72 L206.58,483.68 L205.83,483.64 L205.09,483.60 L204.34,483.56 L203.59,483.51 L202.85,483.47 L202.10,483.43 L201.36,483.38 L200.62,483.34 L199.87,483.30 L199.12,483.25 L198.38,483.21 L197.63,483.16 L196.89,483.12 L196.15,483.07 L195.40,483.03 L194.66,482.98 L193.91,482.94 L193.16,482.89 L192.42,482.84 L191.67,482.79 L190.93,482.74 L190.19,482.70 L189.44,482.65 L188.69,482.60 L187.95,482.54 L187.20,482.49 L186.46,482.44 L185.71,482.39 L184.97,482.33 L184.22,482.28 L183.48,482.22 L182.74,482.17 L181.99,482.11 L181.25,482.05 L180.50,481.99 L179.75,481.93 L179.01,481.87 L178.26,481.81 L177.52,481.75 L176.78,481.68 L176.03,481.62 L175.28,481.55 L174.54,481.48 L173.80,481.41 L173.05,481.34 L172.31,481.27 L171.56,481.20 L170.81,481.12 L170.07,481.05 L169.33,480.97 L168.58,480.89 L167.84,480.82 L167.09,480.74 L166.34,480.66 L165.60,480.58 L164.85,480.50 L164.11,480.42 L163.37,480.33 L162.62,480.25 L161.88,480.17 L161.13,480.08 L160.38,480.00 L159.64,479.91 L158.89,479.83 L158.15,479.74 L157.41,479.65 L156.66,479.56 L155.91,479.48 L155.17,479.39 L154.43,479.30 L153.68,479.21 L152.94,479.12 L152.19,479.03 L151.44,478.94 L150.70,478.85 L149.96,478.76 L149.21,478.66 L148.47,478.57 L147.72,478.48 L146.98,478.39 L146.23,478.30 L145.49,478.20 L144.74,478.11 L144.00,478.02 L143.25,477.93 L142.50,477.83 L141.76,477.74 L141.01,477.64 L140.27,477.54 L139.52,477.44 L138.78,477.34 L138.03,477.23 L137.29,477.12 L136.54,477.01 L135.80,476.90 L135.06,476.79 L134.31,476.68 L133.56,476.57 L132.82,476.45 L132.07,476.34 L131.33,476.22 L130.59,476.10 L129.84,475.99 L129.09,475.87 L128.35,475.75 L127.61,475.63 L126.86,475.51 L126.11,475.40 L125.37,475.28 L124.62,475.16 L123.88,475.04 L123.14,474.92 L122.39,474.81 L121.64,474.69 L120.90,474.58 L120.16,474.46 L119.41,474.35 L118.66,474.24 L117.92,474.13 L117.18,474.02 L116.43,473.91 L115.69,473.80 L114.94,473.70 L114.20,473.59 L113.45,473.49 L112.71,473.39 L111.96,473.29 L111.22,473.20 L110.47,473.11 L109.73,473.02 L108.98,472.93 L108.23,472.84 L107.49,472.76 L106.75,472.68 L106.00,472.60 L105.25,472.53 L104.51,472.45 L103.77,472.37 L103.02,472.30 L102.28,472.22 L101.53,472.14 L100.78,472.06 L100.04,471.98 L99.30,471.90 L98.55,471.82 L97.81,471.74 L97.06,471.66 L96.31,471.58 L95.57,471.50 L94.82,471.42 L94.08,471.35 L93.34,471.27 L92.59,471.19 L91.84,471.12 L91.10,471.04 L90.36,470.97 L89.61,470.89 L88.87,470.82 L88.12,470.75 L87.38,470.68 L86.63,470.61 L85.88,470.55 L85.14,470.48 L84.39,470.42 L83.65,470.36 L82.91,470.30 L82.16,470.25 L81.42,470.19 L80.67,470.14 L79.93,470.09 L79.18,470.04 L78.44,470.00 L77.69,469.96 L76.94,469.92 L76.20,469.88 L75.45,469.85 L74.71,469.82 L73.97,469.79 L73.22,469.77 L72.47,469.75 L71.73,469.73 L70.98,469.72 L70.24,469.71 L69.50,469.70 L68.75,469.70 L68.00,469.71 L67.26,469.72 L66.52,469.75 L65.77,469.79 L65.03,469.84 L64.28,469.90 L63.53,469.97 L62.79,470.04 L62.05,470.13 L61.30,470.22 L60.55,470.32 L59.81,470.43 L59.06,470.55 L58.32,470.67 L57.58,470.83 L56.83,471.07 L56.09,471.38 L55.34,471.75 L54.59,472.17 L53.85,472.63 L53.10,473.12 L52.36,473.63 L51.62,474.17 L50.87,474.79 L50.12,475.53 L49.38,476.37 L48.64,477.28 L47.89,478.26 L47.14,479.27 L46.40,480.30 L45.66,481.33 L44.91,482.34 L44.16,483.31 L43.42,484.22 L42.67,485.08 L41.93,485.91 L41.19,486.72 L40.44,487.53 L39.70,488.35 L38.95,489.19 L38.20,490.07 L37.46,491.00 L36.72,491.97 L35.97,492.98 L35.23,494.02 L34.48,495.09 L33.73,496.20 L32.99,497.34 L32.24,498.51 L31.50,499.71Z" fill="rgb(153,204,153)" fill-opacity="1.0"/>
<path d="M31.50,466.80 L32.24,466.43 L32.99,466.07 L33.73,465.71 L34.48,465.35 L35.23,464.99 L35.97,464.64 L36.72,464.29 L37.46,463.95 L38.20,463.61 L38.95,463.27 L39.70,462.93 L40.44,462.60 L41.19,462.26 L41.93,461.94 L42.67,461.61 L43.42,461.29 L44.16,460.97 L44.91,460.65 L45.66,460.33 L46.40,460.02 L47.14,459.72 L47.89,459.42 L48.64,459.14 L49.38,458.86 L50.12,458.59 L50.87,458.31 L51.62,458.04 L52.36,457.75 L53.10,457.46 L53.85,457.15 L54.59,456.83 L55.34,456.49 L56.09,456.14 L56.83,455.77 L57.58,455.39 L58.32,454.99 L59.06,454.59 L59.81,454.17 L60.55,453.75 L61.30,453.32 L62.05,452.88 L62.79,452.44 L63.53,451.99 L64.28,451.54 L65.03,451.09 L65.77,450.64 L66.52,450.18 L67.26,449.73 L68.00,449.29 L68.75,448.84 L69.50,448.40 L70.24,447.96 L70.98,447.52 L71.73,447.07 L72.47,446.62 L73.22,446.16 L73.97,445.70 L74.71,445.25 L75.45,444.79 L76.20,444.34 L76.94,443.90 L77.69,443.46 L78.44,443.02 L79.18,442.60 L79.93,442.18 L80.67,441.78 L81.42,441.38 L82.16,440.99 L82.91,440.60 L83.65,440.21 L84.39,439.82 L85.14,439.42 L85.88,439.02 L86.63,438.60 L87.38,438.18 L88.12,437.75 L88.87,437.32 L89.61,436.88 L90.36,436.44 L91.10,435.99 L91.84,435.53 L92.59,435.05 L93.34,434.57 L94.08,434.07 L94.82,433.55 L95.57,433.03 L96.31,432.49 L97.06,431.93 L97.81,431.36 L98.55,430.76 L99.30,430.14 L100.04,429.49 L100.78,428.81 L101.53,428.09 L102.28,427.35 L103.02,426.59 L103.77,425.81 L104.51,425.01 L105.25,424.21 L106.00,423.40 L106.75,422.57 L107.49,421.71 L108.23,420.83 L108.98,419.93 L109.73,419.02 L110.47,418.11 L111.22,417.21 L111.96,416.32 L112.71,415.47 L113.45,414.64 L114.20,413.83 L114.94,413.03 L115.69,412.24 L116.43,411.47 L117.18,410.69 L117.92,409.92 L118.66,409.16 L119.41,408.40 L120.16,407.65 L120.90,406.91 L121.64,406.16 L122.39,405.42 L123.14,404.69 L123.88,403.95 L124.62,403.21 L125.37,402.47 L126.11,401.74 L126.86,401.00 L127.61,400.25 L128.35,399.51 L129.09,398.76 L129.84,398.00 L130.59,397.25 L131.33,396.50 L132.07,395.74 L132.82,394.99 L133.56,394.24 L134.31,393.49 L135.06,392.73 L135.80,391.98 L136.54,391.22 L137.29,390.46 L138.03,389.70 L138.78,388.94 L139.52,388.17 L140.27,387.41 L141.01,386.63 L141.76,385.86 L142.50,385.08 L143.25,384.29 L144.00,383.50 L144.74,382.71 L145.49,381.91 L146.23,381.11 L146.98,380.30 L147.72,379.50 L148.47,378.69 L149.21,377.87 L149.96,377.04 L150.70,376.19 L151.44,375.34 L152.19,374.47 L152.94,373.58 L153.68,372.67 L154.43,371.75 L155.17,370.83 L155.91,369.88 L156.66,368.93 L157.41,367.97 L158.15,366.99 L158.89,366.00 L159.64,365.00 L160.38,363.99 L161.13,362.97 L161.88,361.94 L162.62,360.89 L163.37,359.84 L164.11,358.78 L164.85,357.70 L165.60,356.61 L166.34,355.49 L167.09,354.35 L167.84,353.19 L168.58,352.01 L169.33,350.82 L170.07,349.63 L170.81,348.43 L171.56,347.23 L172.31,346.03 L173.05,344.83 L173.80,343.63 L174.54,342.41 L175.28,341.18 L176.03,339.95 L176.78,338.72 L177.52,337.50 L178.26,336.28 L179.01,335.08 L179.75,333.89 L180.50,332.72 L181.25,331.57 L181.99,330.42 L182.74,329.29 L183.48,328.16 L184.22,327.03 L184.97,325.89 L185.71,324.76 L186.46,323.61 L187.20,322.46 L187.95,321.31 L188.69,320.15 L189.44,319.00 L190.19,317.85 L190.93,316.70 L191.67,315.55 L192.42,314.42 L193.16,313.29 L193.91,312.17 L194.66,311.07 L195.40,309.98 L196.15,308.90 L196.89,307.82 L197.63,306.74 L198.38,305.66 L199.12,304.58 L199.87,303.50 L200.62,302.42 L201.36,301.34 L202.10,300.26 L202.85,299.19 L203.59,298.11 L204.34,297.03 L205.09,295.96 L205.83,294.88 L206.58,293.81 L207.32,292.74 L208.06,291.66 L208.81,290.59 L209.56,289.52 L210.30,288.45 L211.05,287.38 L211.79,286.31 L212.54,285.24 L213.28,284.17 L214.03,283.10 L214.77,282.04 L215.52,280.97 L216.26,279.90 L217.01,278.84 L217.75,277.77 L218.50,276.71 L219.24,275.65 L219.99,274.58 L220.73,273.52 L221.48,272.46 L222.22,271.40 L222.96,270.34 L223.71,269.28 L224.45,268.23 L225.20,267.17 L225.94,266.11 L226.69,265.06 L227.44,264.00 L228.18,262.95 L228.92,261.90 L229.67,260.84 L230.41,259.79 L231.16,258.74 L231.91,257.69 L232.65,256.64 L233.40,255.60 L234.14,254.55 L234.88,253.50 L235.63,252.46 L236.38,251.42 L237.12,250.37 L237.87,249.33 L238.61,248.29 L239.35,247.25 L240.10,246.21 L240.84,245.17 L241.59,244.13 L242.34,243.10 L243.08,242.06 L243.83,241.03 L244.57,239.99 L245.31,238.96 L246.06,237.93 L246.81,236.90 L247.55,235.87 L248.30,234.84 L249.04,233.81 L249.79,232.79 L250.53,231.76 L251.28,230.74 L252.02,229.72 L252.77,228.69 L253.51,227.67 L254.26,226.65 L255.00,225.63 L255.75,224.62 L256.49,223.60 L257.24,222.59 L257.98,221.57 L258.73,220.56 L259.47,219.55 L260.22,218.54 L260.96,217.53 L261.70,216.52 L262.45,215.51 L263.19,214.51 L263.94,213.50 L264.69,212.50 L265.43,211.50 L266.17,210.50 L266.92,209.50 L267.66,208.50 L268.41,207.50 L269.15,206.51 L269.90,205.51 L270.64,204.52 L271.39,203.53 L272.13,202.54 L272.88,201.55 L273.62,200.56 L274.37,199.58 L275.12,198.59 L275.86,197.61 L276.61,196.62 L277.35,195.64 L278.10,194.66 L278.84,193.69 L279.59,192.71 L280.33,191.73 L281.08,190.76 L281.82,189.79 L282.56,188.82 L283.31,187.85 L284.06,186.88 L284.80,185.91 L285.55,184.95 L286.29,183.98 L287.04,183.02 L287.78,182.06 L288.53,181.10 L289.27,180.14 L290.01,179.19 L290.76,178.23 L291.50,177.28 L292.25,176.33 L293.00,175.38 L293.74,174.43 L294.49,173.48 L295.23,172.54 L295.98,171.59 L296.72,170.65 L297.47,169.71 L298.21,168.77 L298.95,167.83 L299.70,166.90 L300.44,165.96 L301.19,165.03 L301.94,164.10 L302.68,163.17 L303.43,162.24 L304.17,161.32 L304.92,160.39 L305.66,159.47 L306.40,158.55 L307.15,157.63 L307.89,156.72 L308.64,155.80 L309.38,154.89 L310.13,153.97 L310.88,153.06 L311.62,152.16 L312.37,151.25 L313.11,150.34 L313.86,149.44 L314.60,148.54 L315.35,147.64 L316.09,146.74 L316.83,145.85 L317.58,144.95 L318.32,144.06 L319.07,143.17 L319.81,142.28 L320.56,141.39 L321.31,140.51 L322.05,139.63 L322.80,138.74 L323.54,137.86 L324.29,136.99 L325.03,136.11 L325.78,135.24 L326.52,134.37 L327.26,133.50 L328.01,132.63 L328.75,131.76 L329.50,130.90 L329.50,634.26 L328.75,629.62 L328.01,625.04 L327.26,620.52 L326.52,616.04 L325.78,611.62 L325.03,607.25 L324.29,602.93 L323.54,598.65 L322.80,594.42 L322.05,590.24 L321.31,586.10 L320.56,582.00 L319.81,577.95 L319.07,573.93 L318.32,569.96 L317.58,566.02 L316.83,562.03 L316.09,558.00 L315.35,553.99 L314.60,550.11 L313.86,546.46 L313.11,543.11 L312.37,540.17 L311.62,537.56 L310.88,535.14 L310.13,532.88 L309.38,530.75 L308.64,528.73 L307.89,526.79 L307.15,524.91 L306.40,523.06 L305.66,521.21 L304.92,519.34 L304.17,517.42 L303.43,515.48 L302.68,513.55 L301.94,511.63 L301.19,509.72 L300.44,507.83 L299.70,505.95 L298.95,504.09 L298.21,502.25 L297.47,500.42 L296.72,498.61 L295.98,496.82 L295.23,495.06 L294.49,493.31 L293.74,491.58 L293.00,489.88 L292.25,488.20 L291.50,486.53 L290.76,484.88 L290.01,483.25 L289.27,481.63 L288.53,480.04 L287.78,478.46 L287.04,476.91 L286.29,475.38 L285.55,473.87 L284.80,472.39 L284.06,470.94 L283.31,469.51 L282.56,468.11 L281.82,466.73 L281.08,465.36 L280.33,464.02 L279.59,462.69 L278.84,461.38 L278.10,460.08 L277.35,458.79 L276.61,457.52 L275.86,456.26 L275.12,455.01 L274.37,453.77 L273.62,452.54 L272.88,451.31 L272.13,450.10 L271.39,448.88 L270.64,447.67 L269.90,446.46 L269.15,445.26 L268.41,444.04 L267.66,442.80 L266.92,441.56 L266.17,440.32 L265.43,439.11 L264.69,437.94 L263.94,436.83 L263.19,435.80 L262.45,434.85 L261.70,433.97 L260.96,433.11 L260.22,432.27 L259.47,431.45 L258.73,430.65 L257.98,429.87 L257.24,429.10 L256.49,428.36 L255.75,427.63 L255.00,426.91 L254.26,426.21 L253.51,425.53 L252.77,424.85 L252.02,424.20 L251.28,423.55 L250.53,422.92 L249.79,422.29 L249.04,421.68 L248.30,421.08 L247.55,420.48 L246.81,419.90 L246.06,419.32 L245.31,418.75 L244.57,418.18 L243.83,417.63 L243.08,417.07 L242.34,416.52 L241.59,415.98 L240.84,415.43 L240.10,414.87 L239.35,414.31 L238.61,413.75 L237.87,413.18 L237.12,412.62 L236.38,412.06 L235.63,411.51 L234.88,410.97 L234.14,410.44 L233.40,409.92 L232.65,409.42 L231.91,408.94 L231.16,408.47 L230.41,408.04 L229.67,407.62 L228.92,407.24 L228.18,406.88 L227.44,406.56 L226.69,406.27 L225.94,406.02 L225.20,405.81 L224.45,405.62 L223.71,405.44 L222.96,405.25 L222.22,405.07 L221.48,404.90 L220.73,404.73 L219.99,404.57 L219.24,404.41 L218.50,404.27 L217.75,404.13 L217.01,404.00 L216.26,403.88 L215.52,403.77 L214.77,403.68 L214.03,403.59 L213.28,403.52 L212.54,403.47 L211.79,403.43 L211.05,403.40 L210.30,403.39 L209.56,403.41 L208.81,403.45 L208.06,403.52 L207.32,403.62 L206.58,403.73 L205.83,403.87 L205.09,404.03 L204.34,404.20 L203.59,404.39 L202.85,404.59 L202.10,404.80 L201.36,405.01 L200.62,405.24 L199.87,405.46 L199.12,405.69 L198.38,405.92 L197.63,406.14 L196.89,406.36 L196.15,406.58 L195.40,406.78 L194.66,406.98 L193.91,407.19 L193.16,407.41 L192.42,407.64 L191.67,407.87 L190.93,408.11 L190.19,408.35 L189.44,408.59 L188.69,408.84 L187.95,409.09 L187.20,409.35 L186.46,409.60 L185.71,409.86 L184.97,410.11 L184.22,410.37 L183.48,410.62 L182.74,410.88 L181.99,411.13 L181.25,411.38 L180.50,411.62 L179.75,411.86 L179.01,412.10 L178.26,412.34 L177.52,412.58 L176.78,412.82 L176.03,413.06 L175.28,413.29 L174.54,413.53 L173.80,413.76 L173.05,414.00 L172.31,414.23 L171.56,414.47 L170.81,414.70 L170.07,414.93 L169.33,415.17 L168.58,415.40 L167.84,415.64 L167.09,415.87 L166.34,416.10 L165.60,416.34 L164.85,416.57 L164.11,416.80 L163.37,417.04 L162.62,417.27 L161.88,417.51 L161.13,417.74 L160.38,417.98 L159.64,418.22 L158.89,418.45 L158.15,418.69 L157.41,418.93 L156.66,419.17 L155.91,419.41 L155.17,419.66 L154.43,419.90 L153.68,420.14 L152.94,420.39 L152.19,420.64 L151.44,420.88 L150.70,421.13 L149.96,421.39 L149.21,421.64 L148.47,421.89 L147.72,422.15 L146.98,422.40 L146.23,422.66 L145.49,422.93 L144.74,423.19 L144.00,423.45 L143.25,423.72 L142.50,423.99 L141.76,424.26 L141.01,424.53 L140.27,424.80 L139.52,425.07 L138.78,425.34 L138.03,425.61 L137.29,425.89 L136.54,426.16 L135.80,426.44 L135.06,426.71 L134.31,426.99 L133.56,427.27 L132.82,427.55 L132.07,427.83 L131.33,428.11 L130.59,428.40 L129.84,428.68 L129.09,428.97 L128.35,429.26 L127.61,429.55 L126.86,429.84 L126.11,430.13 L125.37,430.42 L124.62,430.72 L123.88,431.01 L123.14,431.31 L122.39,431.61 L121.64,431.91 L120.90,432.22 L120.16,432.52 L119.41,432.83 L118.66,433.14 L117.92,433.45 L117.18,433.76 L116.43,434.08 L115.69,434.40 L114.94,434.72 L114.20,435.04 L113.45,435.36 L112.71,435.69 L111.96,436.01 L111.22,436.34 L110.47,436.68 L109.73,437.01 L108.98,437.35 L108.23,437.69 L107.49,438.03 L106.75,438.38 L106.00,438.72 L105.25,439.07 L104.51,439.43 L103.77,439.79 L103.02,440.15 L102.28,440.52 L101.53,440.89 L100.78,441.26 L100.04,441.64 L99.30,442.02 L98.55,442.40 L97.81,442.79 L97.06,443.18 L96.31,443.57 L95.57,443.97 L94.82,444.36 L94.08,444.77 L93.34,445.17 L92.59,445.58 L91.84,445.99 L91.10,446.40 L90.36,446.81 L89.61,447.23 L88.87,447.65 L88.12,448.07 L87.38,448.49 L86.63,448.92 L85.88,449.35 L85.14,449.78 L84.39,450.21 L83.65,450.64 L82.91,451.08 L82.16,451.51 L81.42,451.95 L80.67,452.39 L79.93,452.83 L79.18,453.27 L78.44,453.71 L77.69,454.16 L76.94,454.60 L76.20,455.05 L75.45,455.49 L74.71,455.94 L73.97,456.39 L73.22,456.84 L72.47,457.29 L71.73,457.74 L70.98,458.19 L70.24,458.64 L69.50,459.09 L68.75,459.54 L68.00,459.99 L67.26,460.45 L66.52,460.92 L65.77,461.40 L65.03,461.88 L64.28,462.37 L63.53,462.86 L62.79,463.35 L62.05,463.85 L61.30,464.35 L60.55,464.86 L59.81,465.36 L59.06,465.87 L58.32,466.38 L57.58,466.88 L56.83,467.39 L56.09,467.89 L55.34,468.40 L54.59,468.90 L53.85,469.39 L53.10,469.89 L52.36,470.38 L51.62,470.86 L50.87,471.34 L50.12,471.81 L49.38,472.28 L48.64,472.73 L47.89,473.18 L47.14,473.62 L46.40,474.06 L45.66,474.48 L44.91,474.90 L44.16,475.32 L43.42,475.73 L42.67,476.14 L41.93,476.55 L41.19,476.95 L40.44,477.34 L39.70,477.74 L38.95,478.12 L38.20,478.51 L37.46,478.89 L36.72,479.27 L35.97,479.64 L35.23,480.01 L34.48,480.38 L33.73,480.74 L32.99,481.10 L32.24,481.45 L31.50,481.80Z" fill="rgb(0,0,255)" fill-opacity="0.3"/>
<path d="M31.50,472.51 L32.24,472.04 L32.99,471.57 L33.73,471.10 L34.48,470.63 L35.23,470.16 L35.97,469.69 L36.72,469.22 L37.46,468.75 L38.20,468.28 L38.95,467.81 L39.70,467.34 L40.44,466.87 L41.19,466.40 L41.93,465.93 L42.67,465.46 L43.42,465.00 L44.16,464.53 L44.91,464.06 L45.66,463.60 L46.40,463.13 L47.14,462.66 L47.89,462.20 L48.64,461.73 L49.38,461.27 L50.12,460.81 L50.87,460.35 L51.62,459.88 L52.36,459.42 L53.10,458.96 L53.85,458.51 L54.59,458.05 L55.34,457.59 L56.09,457.14 L56.83,456.68 L57.58,456.23 L58.32,455.77 L59.06,455.32 L59.81,454.87 L60.55,454.42 L61.30,453.97 L62.05,453.53 L62.79,453.08 L63.53,452.64 L64.28,452.19 L65.03,451.75 L65.77,451.31 L66.52,450.87 L67.26,450.43 L68.00,450.00 L68.75,449.56 L69.50,449.13 L70.24,448.70 L70.98,448.27 L71.73,447.84 L72.47,447.41 L73.22,446.98 L73.97,446.56 L74.71,446.14 L75.45,445.72 L76.20,445.30 L76.94,444.88 L77.69,444.46 L78.44,444.05 L79.18,443.63 L79.93,443.22 L80.67,442.81 L81.42,442.41 L82.16,442.00 L82.91,441.59 L83.65,441.19 L84.39,440.79 L85.14,440.39 L85.88,439.99 L86.63,439.60 L87.38,439.20 L88.12,438.81 L88.87,438.42 L89.61,438.03 L90.36,437.65 L91.10,437.26 L91.84,436.88 L92.59,436.50 L93.34,436.12 L94.08,435.74 L94.82,435.37 L95.57,434.99 L96.31,434.62 L97.06,434.25 L97.81,433.88 L98.55,433.52 L99.30,433.15 L100.04,432.79 L100.78,432.43 L101.53,432.07 L102.28,431.71 L103.02,431.36 L103.77,431.00 L104.51,430.65 L105.25,430.30 L106.00,429.96 L106.75,429.61 L107.49,429.27 L108.23,428.93 L108.98,428.59 L109.73,428.25 L110.47,427.91 L111.22,427.58 L111.96,427.25 L112.71,426.92 L113.45,426.59 L114.20,426.26 L114.94,425.94 L115.69,425.61 L116.43,425.29 L117.18,424.97 L117.92,424.66 L118.66,424.34 L119.41,424.03 L120.16,423.72 L120.90,423.41 L121.64,423.10 L122.39,422.79 L123.14,422.49 L123.88,422.19 L124.62,421.89 L125.37,421.59 L126.11,421.29 L126.86,421.00 L127.61,420.70 L128.35,420.41 L129.09,420.12 L129.84,419.83 L130.59,419.55 L131.33,419.26 L132.07,418.98 L132.82,418.70 L133.56,418.42 L134.31,418.14 L135.06,417.87 L135.80,417.59 L136.54,417.32 L137.29,417.05 L138.03,416.78 L138.78,416.52 L139.52,416.25 L140.27,415.99 L141.01,415.72 L141.76,415.46 L142.50,415.21 L143.25,414.95 L144.00,414.69 L144.74,414.44 L145.49,414.19 L146.23,413.94 L146.98,413.69 L147.72,413.44 L148.47,413.20 L149.21,412.95 L149.96,412.71 L150.70,412.47 L151.44,412.23 L152.19,411.99 L152.94,411.76 L153.68,411.52 L154.43,411.29 L155.17,411.06 L155.91,410.83 L156.66,410.60 L157.41,410.37 L158.15,410.15 L158.89,409.92 L159.64,409.70 L160.38,409.48 L161.13,409.26 L161.88,409.04 L162.62,408.83 L163.37,408.61 L164.11,408.40 L164.85,408.19 L165.60,407.98 L166.34,407.77 L167.09,407.56 L167.84,407.35 L168.58,407.15 L169.33,406.94 L170.07,406.74 L170.81,406.54 L171.56,406.34 L172.31,406.14 L173.05,405.95 L173.80,405.75 L174.54,405.56 L175.28,405.36 L176.03,405.17 L176.78,404.98 L177.52,404.79 L178.26,404.60 L179.01,404.42 L179.75,404.23 L180.50,404.05 L181.25,403.86 L181.99,403.68 L182.74,403.50 L183.48,403.32 L184.22,403.14 L184.97,402.97 L185.71,402.79 L186.46,402.62 L187.20,402.44 L187.95,402.27 L188.69,402.10 L189.44,401.93 L190.19,401.76 L190.93,401.60 L191.67,401.43 L192.42,401.26 L193.16,401.10 L193.91,400.94 L194.66,400.78 L195.40,400.62 L196.15,400.46 L196.89,400.30 L197.63,400.14 L198.38,399.98 L199.12,399.83 L199.87,399.67 L200.62,399.52 L201.36,399.37 L202.10,399.22 L202.85,399.07 L203.59,398.92 L204.34,398.77 L205.09,398.62 L205.83,398.48 L206.58,398.33 L207.32,398.19 L208.06,398.04 L208.81,397.90 L209.56,397.76 L210.30,397.62 L211.05,397.48 L211.79,397.34 L212.54,397.20 L213.28,397.07 L214.03,396.93 L214.77,396.80 L215.52,396.66 L216.26,396.53 L217.01,396.40 L217.75,396.27 L218.50,396.14 L219.24,396.01 L219.99,395.88 L220.73,395.75 L221.48,395.62 L222.22,395.50 L222.96,395.37 L223.71,395.25 L224.45,395.13 L225.20,395.00 L225.94,394.88 L226.69,394.76 L227.44,394.64 L228.18,394.52 L228.92,394.40 L229.67,394.28 L230.41,394.17 L231.16,394.05 L231.91,393.94 L232.65,393.82 L233.40,393.71 L234.14,393.59 L234.88,393.48 L235.63,393.37 L236.38,393.26 L237.12,393.15 L237.87,393.04 L238.61,392.93 L239.35,392.82 L240.10,392.72 L240.84,392.61 L241.59,392.50 L242.34,392.40 L243.08,392.29 L243.83,392.19 L244.57,392.09 L245.31,391.98 L246.06,391.88 L246.81,391.78 L247.55,391.68 L248.30,391.58 L249.04,391.48 L249.79,391.38 L250.53,391.29 L251.28,391.19 L252.02,391.09 L252.77,391.00 L253.51,390.90 L254.26,390.81 L255.00,390.71 L255.75,390.62 L256.49,390.53 L257.24,390.43 L257.98,390.34 L258.73,390.25 L259.47,390.16 L260.22,390.07 L260.96,389.98 L261.70,389.89 L262.45,389.80 L263.19,389.72 L263.94,389.63 L264.69,389.54 L265.43,389.46 L266.17,389.37 L266.92,389.29 L267.66,389.20 L268.41,389.12 L269.15,389.04 L269.90,388.95 L270.64,388.87 L271.39,388.79 L272.13,388.71 L272.88,388.63 L273.62,388.55 L274.37,388.47 L275.12,388.39 L275.86,388.31 L276.61,388.23 L277.35,388.16 L278.10,388.08 L278.84,388.00 L279.59,387.93 L280.33,387.85 L281.08,387.77 L281.82,387.70 L282.56,387.63 L283.31,387.55 L284.06,387.48 L284.80,387.41 L285.55,387.33 L286.29,387.26 L287.04,387.19 L287.78,387.12 L288.53,387.05 L289.27,386.98 L290.01,386.91 L290.76,386.84 L291.50,386.77 L292.25,386.70 L293.00,386.64 L293.74,386.57 L294.49,386.50 L295.23,386.43 L295.98,386.37 L296.72,386.30 L297.47,386.24 L298.21,386.17 L298.95,386.11 L299.70,386.04 L300.44,385.98 L301.19,385.92 L301.94,385.85 L302.68,385.79 L303.43,385.73 L304.17,385.67 L304.92,385.60 L305.66,385.54 L306.40,385.48 L307.15,385.42 L307.89,385.36 L308.64,385.30 L309.38,385.24 L310.13,385.18 L310.88,385.13 L311.62,385.07 L312.37,385.01 L313.11,384.95 L313.86,384.89 L314.60,384.84 L315.35,384.78 L316.09,384.72 L316.83,384.67 L317.58,384.61 L318.32,384.56 L319.07,384.50 L319.81,384.45 L320.56,384.39 L321.31,384.34 L322.05,384.29 L322.80,384.23 L323.54,384.18 L324.29,384.13 L325.03,384.08 L325.78,384.02 L326.52,383.97 L327.26,383.92 L328.01,383.87 L328.75,383.82 L329.50,383.77 L329.50,386.55 L328.75,386.62 L328.01,386.68 L327.26,386.74 L326.52,386.80 L325.78,386.87 L325.03,386.93 L324.29,386.99 L323.54,387.06 L322.80,387.12 L322.05,387.19 L321.31,387.26 L320.56,387.32 L319.81,387.39 L319.07,387.45 L318.32,387.52 L317.58,387.59 L316.83,387.66 L316.09,387.73 L315.35,387.79 L314.60,387.86 L313.86,387.93 L313.11,388.00 L312.37,388.07 L311.62,388.14 L310.88,388.22 L310.13,388.29 L309.38,388.36 L308.64,388.43 L307.89,388.51 L307.15,388.58 L306.40,388.65 L305.66,388.73 L304.92,388.80 L304.17,388.88 L303.43,388.95 L302.68,389.03 L301.94,389.11 L301.19,389.18 L300.44,389.26 L299.70,389.34 L298.95,389.42 L298.21,389.49 L297.47,389.57 L296.72,389.65 L295.98,389.73 L295.23,389.81 L294.49,389.90 L293.74,389.98 L293.00,390.06 L292.25,390.14 L291.50,390.22 L290.76,390.31 L290.01,390.39 L289.27,390.48 L288.53,390.56 L287.78,390.65 L287.04,390.73 L286.29,390.82 L285.55,390.91 L284.80,391.00 L284.06,391.08 L283.31,391.17 L282.56,391.26 L281.82,391.35 L281.08,391.44 L280.33,391.53 L279.59,391.63 L278.84,391.72 L278.10,391.81 L277.35,391.90 L276.61,392.00 L275.86,392.09 L275.12,392.19 L274.37,392.28 L273.62,392.38 L272.88,392.47 L272.13,392.57 L271.39,392.67 L270.64,392.77 L269.90,392.87 L269.15,392.97 L268.41,393.07 L267.66,393.17 L266.92,393.27 L266.17,393.37 L265.43,393.47 L264.69,393.58 L263.94,393.68 L263.19,393.79 L262.45,393.89 L261.70,394.00 L260.96,394.10 L260.22,394.21 L259.47,394.32 L258.73,394.43 L257.98,394.54 L257.24,394.65 L256.49,394.76 L255.75,394.87 L255.00,394.98 L254.26,395.09 L253.51,395.21 L252.77,395.32 L252.02,395.44 L251.28,395.55 L250.53,395.67 L249.79,395.78 L249.04,395.90 L248.30,396.02 L247.55,396.14 L246.81,396.26 L246.06,396.38 L245.31,396.50 L244.57,396.62 L243.83,396.75 L243.08,396.87 L242.34,396.99 L241.59,397.12 L240.84,397.25 L240.10,397.37 L239.35,397.50 L238.61,397.63 L237.87,397.76 L237.12,397.89 L236.38,398.02 L235.63,398.15 L234.88,398.28 L234.14,398.42 L233.40,398.55 L232.65,398.68 L231.91,398.82 L231.16,398.96 L230.41,399.09 L229.67,399.23 L228.92,399.37 L228.18,399.51 L227.44,399.65 L226.69,399.80 L225.94,399.94 L225.20,400.08 L224.45,400.23 L223.71,400.37 L222.96,400.52 L222.22,400.67 L221.48,400.81 L220.73,400.96 L219.99,401.11 L219.24,401.26 L218.50,401.42 L217.75,401.57 L217.01,401.72 L216.26,401.88 L215.52,402.03 L214.77,402.19 L214.03,402.35 L213.28,402.51 L212.54,402.67 L211.79,402.83 L211.05,402.99 L210.30,403.15 L209.56,403.32 L208.81,403.48 L208.06,403.65 L207.32,403.81 L206.58,403.98 L205.83,404.15 L205.09,404.32 L204.34,404.49 L203.59,404.66 L202.85,404.84 L202.10,405.01 L201.36,405.19 L200.62,405.36 L199.87,405.54 L199.12,405.72 L198.38,405.90 L197.63,406.08 L196.89,406.26 L196.15,406.45 L195.40,406.63 L194.66,406.82 L193.91,407.00 L193.16,407.19 L192.42,407.38 L191.67,407.57 L190.93,407.76 L190.19,407.95 L189.44,408.15 L188.69,408.34 L187.95,408.54 L187.20,408.74 L186.46,408.93 L185.71,409.13 L184.97,409.33 L184.22,409.54 L183.48,409.74 L182.74,409.95 L181.99,410.15 L181.25,410.36 L180.50,410.57 L179.75,410.78 L179.01,410.99 L178.26,411.20 L177.52,411.41 L176.78,411.63 L176.03,411.85 L175.28,412.06 L174.54,412.28 L173.80,412.50 L173.05,412.72 L172.31,412.95 L171.56,413.17 L170.81,413.40 L170.07,413.62 L169.33,413.85 L168.58,414.08 L167.84,414.31 L167.09,414.55 L166.34,414.78 L165.60,415.02 L164.85,415.25 L164.11,415.49 L163.37,415.73 L162.62,415.97 L161.88,416.21 L161.13,416.46 L160.38,416.70 L159.64,416.95 L158.89,417.20 L158.15,417.45 L157.41,417.70 L156.66,417.95 L155.91,418.21 L155.17,418.46 L154.43,418.72 L153.68,418.98 L152.94,419.24 L152.19,419.50 L151.44,419.76 L150.70,420.03 L149.96,420.29 L149.21,420.56 L148.47,420.83 L147.72,421.10 L146.98,421.37 L146.23,421.64 L145.49,421.92 L144.74,422.20 L144.00,422.47 L143.25,422.75 L142.50,423.04 L141.76,423.32 L141.01,423.60 L140.27,423.89 L139.52,424.18 L138.78,424.47 L138.03,424.76 L137.29,425.05 L136.54,425.34 L135.80,425.64 L135.06,425.94 L134.31,426.23 L133.56,426.53 L132.82,426.84 L132.07,427.14 L131.33,427.44 L130.59,427.75 L129.84,428.06 L129.09,428.37 L128.35,428.68 L127.61,428.99 L126.86,429.31 L126.11,429.63 L125.37,429.94 L124.62,430.26 L123.88,430.58 L123.14,430.91 L122.39,431.23 L121.64,431.56 L120.90,431.88 L120.16,432.21 L119.41,432.54 L118.66,432.88 L117.92,433.21 L117.18,433.55 L116.43,433.88 L115.69,434.22 L114.94,434.56 L114.20,434.90 L113.45,435.25 L112.71,435.59 L111.96,435.94 L111.22,436.29 L110.47,436.64 L109.73,436.99 L108.98,437.34 L108.23,437.70 L107.49,438.05 L106.75,438.41 L106.00,438.77 L105.25,439.13 L104.51,439.49 L103.77,439.86 L103.02,440.22 L102.28,440.59 L101.53,440.96 L100.78,441.33 L100.04,441.70 L99.30,442.07 L98.55,442.44 L97.81,442.82 L97.06,443.20 L96.31,443.57 L95.57,443.95 L94.82,444.34 L94.08,444.72 L93.34,445.10 L92.59,445.49 L91.84,445.87 L91.10,446.26 L90.36,446.65 L89.61,447.04 L88.87,447.44 L88.12,447.83 L87.38,448.22 L86.63,448.62 L85.88,449.02 L85.14,449.42 L84.39,449.82 L83.65,450.22 L82.91,450.62 L82.16,451.02 L81.42,451.43 L80.67,451.83 L79.93,452.24 L79.18,452.65 L78.44,453.06 L77.69,453.47 L76.94,453.88 L76.20,454.29 L75.45,454.70 L74.71,455.12 L73.97,455.53 L73.22,455.95 L72.47,456.37 L71.73,456.78 L70.98,457.20 L70.24,457.62 L69.50,458.04 L68.75,458.46 L68.00,458.89 L67.26,459.31 L66.52,459.73 L65.77,460.16 L65.03,460.58 L64.28,461.01 L63.53,461.43 L62.79,461.86 L62.05,462.29 L61.30,462.72 L60.55,463.14 L59.81,463.57 L59.06,464.00 L58.32,464.43 L57.58,464.86 L56.83,465.29 L56.09,465.72 L55.34,466.16 L54.59,466.59 L53.85,467.02 L53.10,467.45 L52.36,467.88 L51.62,468.32 L50.87,468.75 L50.12,469.18 L49.38,469.61 L48.64,470.05 L47.89,470.48 L47.14,470.91 L46.40,471.34 L45.66,471.77 L44.91,472.21 L44.16,472.64 L43.42,473.07 L42.67,473.50 L41.93,473.93 L41.19,474.36 L40.44,474.79 L39.70,475.22 L38.95,475.65 L38.20,476.08 L37.46,476.51 L36.72,476.94 L35.97,477.36 L35.23,477.79 L34.48,478.22 L33.73,478.64 L32.99,479.07 L32.24,479.49 L31.50,479.91Z" fill="rgb(255,0,0)" fill-opacity="0.88"/>
<rect x="69" y="324.0" width="1" height="243.0" fill="rgb(0,128,0)" fill-opacity="0.3"/>
<rect x="68" y="324.0" width="1" height="243.0" fill="rgb(0,128,0)" fill-opacity="0.14"/>
<rect x="106" y="324.0" width="1" height="243.0" fill="rgb(0,128,0)" fill-opacity="0.3"/>
<rect x="105" y="324.0" width="1" height="243.0" fill="rgb(0,128,0)" fill-opacity="0.12"/>
<rect x="143" y="324.0" width="1" height="243.0" fill="rgb(0,128,0)" fill-opacity="0.05"/>
<rect x="180" y="324.0" width="1" height="243.0" fill="rgb(0,128,0)" fill-opacity="0.3"/>
<rect x="181" y="324.0" width="1" height="243.0" fill="rgb(0,128,0)" fill-opacity="0.12"/>
<rect x="217" y="324.0" width="1" height="243.0" fill="rgb(0,128,0)" fill-opacity="0.3"/>
<rect x="218" y="324.0" width="1" height="243.0" fill="rgb(0,128,0)" fill-opacity="0.12"/>
<rect x="255" y="324.0" width="1" height="243.0" fill="rgb(0,128,0)" fill-opacity="0.05"/>
<rect x="292" y="324.0" width="1" height="243.0" fill="rgb(0,128,0)" fill-opacity="0.3"/>
<rect x="293" y="324.0" width="1" height="243.0" fill="rgb(0,128,0)" fill-opacity="0.07"/>
<rect x="31.0" y="372" width="299.0" height="1" fill="rgb(0,128,0)" fill-opacity="0.07"/>
<rect x="31.0" y="421" width="299.0" height="1" fill="rgb(0,128,0)" fill-opacity="0.05"/>
<rect x="31.0" y="469" width="299.0" height="1" fill="rgb(0,128,0)" fill-opacity="0.3"/>
<rect x="31.0" y="470" width="299.0" height="1" fill="rgb(0,128,0)" fill-opacity="0.06"/>
<rect x="31.0" y="518" width="299.0" height="1" fill="rgb(0,128,0)" fill-opacity="0.3"/>
<rect x="31.0" y="517" width="299.0" height="1" fill="rgb(0,128,0)" fill-opacity="0.12"/>
<path d="M31.50,476.43 L32.24,475.98 L32.99,475.54 L33.73,475.09 L34.48,474.64 L35.23,474.19 L35.97,473.74 L36.72,473.30 L37.46,472.85 L38.20,472.40 L38.95,471.95 L39.70,471.50 L40.44,471.05 L41.19,470.60 L41.93,470.15 L42.67,469.70 L43.42,469.25 L44.16,468.80 L44.91,468.35 L45.66,467.90 L46.40,467.45 L47.14,467.00 L47.89,466.55 L48.64,466.10 L49.38,465.65 L50.12,465.20 L50.87,464.75 L51.62,464.30 L52.36,463.86 L53.10,463.41 L53.85,462.96 L54.59,462.52 L55.34,462.07 L56.09,461.63 L56.83,461.18 L57.58,460.74 L58.32,460.30 L59.06,459.86 L59.81,459.42 L60.55,458.97 L61.30,458.54 L62.05,458.10 L62.79,457.66 L63.53,457.22 L64.28,456.79 L65.03,456.35 L65.77,455.92 L66.52,455.48 L67.26,455.05 L68.00,454.62 L68.75,454.19 L69.50,453.76 L70.24,453.33 L70.98,452.91 L71.73,452.48 L72.47,452.06 L73.22,451.64 L73.97,451.21 L74.71,450.79 L75.45,450.37 L76.20,449.96 L76.94,449.54 L77.69,449.12 L78.44,448.71 L79.18,448.30 L79.93,447.89 L80.67,447.48 L81.42,447.07 L82.16,446.66 L82.91,446.26 L83.65,445.85 L84.39,445.45 L85.14,445.05 L85.88,444.65 L86.63,444.25 L87.38,443.85 L88.12,443.46 L88.87,443.07 L89.61,442.67 L90.36,442.28 L91.10,441.89 L91.84,441.51 L92.59,441.12 L93.34,440.74 L94.08,440.36 L94.82,439.97 L95.57,439.60 L96.31,439.22 L97.06,438.84 L97.81,438.47 L98.55,438.10 L99.30,437.72 L100.04,437.36 L100.78,436.99 L101.53,436.62 L102.28,436.26 L103.02,435.90 L103.77,435.54 L104.51,435.18 L105.25,434.82 L106.00,434.46 L106.75,434.11 L107.49,433.76 L108.23,433.41 L108.98,433.06 L109.73,432.71 L110.47,432.37 L111.22,432.02 L111.96,431.68 L112.71,431.34 L113.45,431.00 L114.20,430.67 L114.94,430.33 L115.69,430.00 L116.43,429.67 L117.18,429.34 L117.92,429.01 L118.66,428.69 L119.41,428.36 L120.16,428.04 L120.90,427.72 L121.64,427.40 L122.39,427.08 L123.14,426.77 L123.88,426.45 L124.62,426.14 L125.37,425.83 L126.11,425.52 L126.86,425.21 L127.61,424.91 L128.35,424.61 L129.09,424.30 L129.84,424.00 L130.59,423.71 L131.33,423.41 L132.07,423.11 L132.82,422.82 L133.56,422.53 L134.31,422.24 L135.06,421.95 L135.80,421.66 L136.54,421.38 L137.29,421.10 L138.03,420.81 L138.78,420.53 L139.52,420.26 L140.27,419.98 L141.01,419.70 L141.76,419.43 L142.50,419.16 L143.25,418.89 L144.00,418.62 L144.74,418.35 L145.49,418.09 L146.23,417.82 L146.98,417.56 L147.72,417.30 L148.47,417.04 L149.21,416.79 L149.96,416.53 L150.70,416.28 L151.44,416.02 L152.19,415.77 L152.94,415.52 L153.68,415.27 L154.43,415.03 L155.17,414.78 L155.91,414.54 L156.66,414.30 L157.41,414.06 L158.15,413.82 L158.89,413.58 L159.64,413.34 L160.38,413.11 L161.13,412.88 L161.88,412.64 L162.62,412.41 L163.37,412.19 L164.11,411.96 L164.85,411.73 L165.60,411.51 L166.34,411.28 L167.09,411.06 L167.84,410.84 L168.58,410.62 L169.33,410.41 L170.07,410.19 L170.81,409.98 L171.56,409.76 L172.31,409.55 L173.05,409.34 L173.80,409.13 L174.54,408.92 L175.28,408.72 L176.03,408.51 L176.78,408.31 L177.52,408.10 L178.26,407.90 L179.01,407.70 L179.75,407.50 L180.50,407.31 L181.25,407.11 L181.99,406.91 L182.74,406.72 L183.48,406.53 L184.22,406.34 L184.97,406.15 L185.71,405.96 L186.46,405.77 L187.20,405.58 L187.95,405.40 L188.69,405.22 L189.44,405.03 L190.19,404.85 L190.93,404.67 L191.67,404.49 L192.42,404.31 L193.16,404.14 L193.91,403.96 L194.66,403.79 L195.40,403.61 L196.15,403.44 L196.89,403.27 L197.63,403.10 L198.38,402.93 L199.12,402.76 L199.87,402.59 L200.62,402.43 L201.36,402.26 L202.10,402.10 L202.85,401.94 L203.59,401.78 L204.34,401.62 L205.09,401.46 L205.83,401.30 L206.58,401.14 L207.32,400.98 L208.06,400.83 L208.81,400.67 L209.56,400.52 L210.30,400.37 L211.05,400.22 L211.79,400.07 L212.54,399.92 L213.28,399.77 L214.03,399.62 L214.77,399.47 L215.52,399.33 L216.26,399.18 L217.01,399.04 L217.75,398.90 L218.50,398.76 L219.24,398.62 L219.99,398.48 L220.73,398.34 L221.48,398.20 L222.22,398.06 L222.96,397.92 L223.71,397.79 L224.45,397.65 L225.20,397.52 L225.94,397.39 L226.69,397.26 L227.44,397.12 L228.18,396.99 L228.92,396.86 L229.67,396.74 L230.41,396.61 L231.16,396.48 L231.91,396.35 L232.65,396.23 L233.40,396.10 L234.14,395.98 L234.88,395.86 L235.63,395.74 L236.38,395.61 L237.12,395.49 L237.87,395.37 L238.61,395.25 L239.35,395.14 L240.10,395.02 L240.84,394.90 L241.59,394.79 L242.34,394.67 L243.08,394.56 L243.83,394.44 L244.57,394.33 L245.31,394.22 L246.06,394.11 L246.81,393.99 L247.55,393.88 L248.30,393.77 L249.04,393.67 L249.79,393.56 L250.53,393.45 L251.28,393.34 L252.02,393.24 L252.77,393.13 L253.51,393.03 L254.26,392.92 L255.00,392.82 L255.75,392.72 L256.49,392.61 L257.24,392.51 L257.98,392.41 L258.73,392.31 L259.47,392.21 L260.22,392.11 L260.96,392.01 L261.70,391.92 L262.45,391.82 L263.19,391.72 L263.94,391.63 L264.69,391.53 L265.43,391.44 L266.17,391.34 L266.92,391.25 L267.66,391.16 L268.41,391.06 L269.15,390.97 L269.90,390.88 L270.64,390.79 L271.39,390.70 L272.13,390.61 L272.88,390.52 L273.62,390.43 L274.37,390.35 L275.12,390.26 L275.86,390.17 L276.61,390.09 L277.35,390.00 L278.10,389.92 L278.84,389.83 L279.59,389.75 L280.33,389.66 L281.08,389.58 L281.82,389.50 L282.56,389.42 L283.31,389.33 L284.06,389.25 L284.80,389.17 L285.55,389.09 L286.29,389.01 L287.04,388.93 L287.78,388.86 L288.53,388.78 L289.27,388.70 L290.01,388.62 L290.76,388.55 L291.50,388.47 L292.25,388.39 L293.00,388.32 L293.74,388.24 L294.49,388.17 L295.23,388.10 L295.98,388.02 L296.72,387.95 L297.47,387.88 L298.21,387.80 L298.95,387.73 L299.70,387.66 L300.44,387.59 L301.19,387.52 L301.94,387.45 L302.68,387.38 L303.43,387.31 L304.17,387.24 L304.92,387.17 L305.66,387.11 L306.40,387.04 L307.15,386.97 L307.89,386.91 L308.64,386.84 L309.38,386.77 L310.13,386.71 L310.88,386.64 L311.62,386.58 L312.37,386.51 L313.11,386.45 L313.86,386.39 L314.60,386.32 L315.35,386.26 L316.09,386.20 L316.83,386.14 L317.58,386.07 L318.32,386.01 L319.07,385.95 L319.81,385.89 L320.56,385.83 L321.31,385.77 L322.05,385.71 L322.80,385.65 L323.54,385.59 L324.29,385.53 L325.03,385.48 L325.78,385.42 L326.52,385.36 L327.26,385.30 L328.01,385.25 L328.75,385.19 L329.50,385.13" fill="none" stroke="#000" stroke-width="1.8"/>
</g>
<rect x="31" y="325" width="1" height="241" fill="#000" fill-opacity="0.09"/>
<rect x="329" y="325" width="1" height="241" fill="#000" fill-opacity="0.45"/>
<rect x="330" y="325" width="1" height="241" fill="#000" fill-opacity="0.1"/>
<rect x="30" y="324" width="300" height="1" fill="#000" fill-opacity="0.75"/>
<rect x="30" y="566" width="300" height="1" fill="#000" fill-opacity="0.6"/>
<rect x="29.5" y="324" width="1.5" height="1" fill="#000" fill-opacity="0.35"/>
<rect x="29.5" y="372" width="1.5" height="1" fill="#000" fill-opacity="0.35"/>
<rect x="29.5" y="421" width="1.5" height="1" fill="#000" fill-opacity="0.35"/>
<rect x="29.5" y="469" width="1.5" height="1" fill="#000" fill-opacity="0.35"/>
<rect x="29.5" y="518" width="1.5" height="1" fill="#000" fill-opacity="0.35"/>
<rect x="29.5" y="566" width="1.5" height="1" fill="#000" fill-opacity="0.35"/>
<rect x="31" y="567" width="1" height="1.3" fill="#000" fill-opacity="0.45"/>
<rect x="69" y="567" width="1" height="1.3" fill="#000" fill-opacity="0.45"/>
<rect x="106" y="567" width="1" height="1.3" fill="#000" fill-opacity="0.45"/>
<rect x="143" y="567" width="1" height="1.3" fill="#000" fill-opacity="0.45"/>
<rect x="180" y="567" width="1" height="1.3" fill="#000" fill-opacity="0.45"/>
<rect x="217" y="567" width="1" height="1.3" fill="#000" fill-opacity="0.45"/>
<rect x="255" y="567" width="1" height="1.3" fill="#000" fill-opacity="0.45"/>
<rect x="292" y="567" width="1" height="1.3" fill="#000" fill-opacity="0.45"/>
<rect x="329" y="567" width="1" height="1.3" fill="#000" fill-opacity="0.45"/>
<text transform="translate(28.20,327.70) scale(0.92,1)" font-size="8.4" text-anchor="end" fill="#000" stroke="#000" stroke-width="0.2" stroke-opacity="0.6">1.0</text>
<text transform="translate(28.20,376.10) scale(0.92,1)" font-size="8.4" text-anchor="end" fill="#000" stroke="#000" stroke-width="0.2" stroke-opacity="0.6">0.5</text>
<text transform="translate(28.20,424.50) scale(0.92,1)" font-size="8.4" text-anchor="end" fill="#000" stroke="#000" stroke-width="0.2" stroke-opacity="0.6">0.0</text>
<text transform="translate(28.20,472.90) scale(0.92,1)" font-size="8.4" text-anchor="end" fill="#000" stroke="#000" stroke-width="0.2" stroke-opacity="0.6">−0.5</text>
<text transform="translate(28.20,521.30) scale(0.92,1)" font-size="8.4" text-anchor="end" fill="#000" stroke="#000" stroke-width="0.2" stroke-opacity="0.6">−1.0</text>
<text transform="translate(28.20,569.70) scale(0.92,1)" font-size="8.4" text-anchor="end" fill="#000" stroke="#000" stroke-width="0.2" stroke-opacity="0.6">−1.5</text>
<text transform="translate(31.50,575.70) scale(0.92,1)" font-size="8.4" text-anchor="middle" fill="#000" stroke="#000" stroke-width="0.2" stroke-opacity="0.6">0.00</text>
<text transform="translate(68.75,575.70) scale(0.92,1)" font-size="8.4" text-anchor="middle" fill="#000" stroke="#000" stroke-width="0.2" stroke-opacity="0.6">0.25</text>
<text transform="translate(106.00,575.70) scale(0.92,1)" font-size="8.4" text-anchor="middle" fill="#000" stroke="#000" stroke-width="0.2" stroke-opacity="0.6">0.50</text>
<text transform="translate(143.25,575.70) scale(0.92,1)" font-size="8.4" text-anchor="middle" fill="#000" stroke="#000" stroke-width="0.2" stroke-opacity="0.6">0.75</text>
<text transform="translate(180.50,575.70) scale(0.92,1)" font-size="8.4" text-anchor="middle" fill="#000" stroke="#000" stroke-width="0.2" stroke-opacity="0.6">1.00</text>
<text transform="translate(217.75,575.70) scale(0.92,1)" font-size="8.4" text-anchor="middle" fill="#000" stroke="#000" stroke-width="0.2" stroke-opacity="0.6">1.25</text>
<text transform="translate(255.00,575.70) scale(0.92,1)" font-size="8.4" text-anchor="middle" fill="#000" stroke="#000" stroke-width="0.2" stroke-opacity="0.6">1.50</text>
<text transform="translate(292.25,575.70) scale(0.92,1)" font-size="8.4" text-anchor="middle" fill="#000" stroke="#000" stroke-width="0.2" stroke-opacity="0.6">1.75</text>
<text transform="translate(329.50,575.70) scale(0.92,1)" font-size="8.4" text-anchor="middle" fill="#000" stroke="#000" stroke-width="0.2" stroke-opacity="0.6">2.00</text>
<text transform="translate(180.50,585.40) scale(0.9,1)" font-size="10.5" font-style="italic" text-anchor="middle" stroke="#000" stroke-width="0.2" stroke-opacity="0.6">z</text>
<text transform="translate(7.00,445.50) rotate(-90) scale(1.1,1)" font-size="9" text-anchor="middle" stroke="#000" stroke-width="0.2" stroke-opacity="0.6"><tspan font-style="italic">q</tspan>(<tspan font-style="italic">z</tspan>)</text>
<rect x="35.50" y="328.50" width="136.20" height="44.00" rx="2" fill="#fff" fill-opacity="0.8" stroke="#ccc" stroke-opacity="0.8" stroke-width="1"/>
<line x1="37.30" y1="333.40" x2="52.90" y2="333.40" stroke="#000" stroke-width="1.5"/>
<rect x="38.10" y="342.35" width="13.9" height="4.8" fill="rgb(153,204,153)"/>
<rect x="38.10" y="352.75" width="13.9" height="4.8" fill="rgb(0,0,255)" fill-opacity="0.3"/>
<rect x="38.10" y="363.30" width="13.9" height="4.8" fill="rgb(255,0,0)" fill-opacity="0.88"/>
<text transform="translate(58.00,336.60) scale(0.94,1)" font-size="8" font-style="italic" stroke="#000" stroke-width="0.2" stroke-opacity="0.6">Best ΛCDM</text>
<text x="58.00" y="346.80" font-size="8" stroke="#000" stroke-width="0.2" stroke-opacity="0.6">95% confidence interval, <tspan font-style="italic">H</tspan><tspan font-style="italic" font-size="5.5" dy="1.5">EXP</tspan></text>
<text x="58.00" y="357.70" font-size="8" stroke="#000" stroke-width="0.2" stroke-opacity="0.6">95% confidence interval, GP</text>
<text x="58.00" y="367.80" font-size="8" stroke="#000" stroke-width="0.2" stroke-opacity="0.6">95% confidence interval,<tspan font-style="italic">ΛCDM</tspan></text>
<clipPath id="clipBR"><rect x="419.50" y="324.50" width="298.00" height="242.00"/></clipPath>
<g clip-path="url(#clipBR)">
<path d="M419.50,460.02 L420.25,460.00 L420.99,459.94 L421.74,459.86 L422.48,459.74 L423.23,459.60 L423.97,459.44 L424.71,459.25 L425.46,459.03 L426.20,458.80 L426.95,458.55 L427.69,458.28 L428.44,458.00 L429.19,457.70 L429.93,457.39 L430.68,457.07 L431.42,456.74 L432.17,456.41 L432.91,456.06 L433.65,455.72 L434.40,455.37 L435.14,455.01 L435.89,454.59 L436.63,454.14 L437.38,453.65 L438.12,453.12 L438.87,452.56 L439.62,451.96 L440.36,451.32 L441.11,450.65 L441.85,449.95 L442.60,449.22 L443.34,448.46 L444.08,447.68 L444.83,446.86 L445.57,446.02 L446.32,445.16 L447.06,444.25 L447.81,443.12 L448.56,441.88 L449.30,440.66 L450.05,439.50 L450.79,438.34 L451.53,437.18 L452.28,436.01 L453.02,434.85 L453.77,433.70 L454.51,432.56 L455.26,431.43 L456.00,430.33 L456.75,429.26 L457.50,428.21 L458.24,427.19 L458.99,426.20 L459.73,425.22 L460.48,424.27 L461.22,423.34 L461.97,422.41 L462.71,421.50 L463.45,420.61 L464.20,419.72 L464.94,418.83 L465.69,417.95 L466.44,417.07 L467.18,416.20 L467.93,415.32 L468.67,414.43 L469.42,413.55 L470.16,412.66 L470.90,411.78 L471.65,410.90 L472.39,410.02 L473.14,409.15 L473.88,408.28 L474.63,407.42 L475.38,406.58 L476.12,405.74 L476.87,404.91 L477.61,404.10 L478.36,403.30 L479.10,402.52 L479.85,401.76 L480.59,401.01 L481.34,400.27 L482.08,399.53 L482.82,398.79 L483.57,398.07 L484.31,397.35 L485.06,396.64 L485.81,395.94 L486.55,395.24 L487.30,394.56 L488.04,393.89 L488.78,393.24 L489.53,392.59 L490.27,391.96 L491.02,391.35 L491.76,390.75 L492.51,390.17 L493.25,389.61 L494.00,389.07 L494.75,388.54 L495.49,388.02 L496.24,387.51 L496.98,387.01 L497.73,386.52 L498.47,386.04 L499.22,385.58 L499.96,385.13 L500.71,384.68 L501.45,384.26 L502.19,383.84 L502.94,383.44 L503.69,383.05 L504.43,382.68 L505.18,382.32 L505.92,381.96 L506.66,381.61 L507.41,381.26 L508.15,380.92 L508.90,380.58 L509.64,380.25 L510.39,379.93 L511.13,379.61 L511.88,379.31 L512.62,379.02 L513.37,378.75 L514.12,378.49 L514.86,378.24 L515.61,378.02 L516.35,377.81 L517.10,377.62 L517.84,377.45 L518.59,377.29 L519.33,377.14 L520.08,377.00 L520.82,376.87 L521.57,376.74 L522.31,376.63 L523.06,376.51 L523.80,376.40 L524.54,376.29 L525.29,376.19 L526.03,376.08 L526.78,375.98 L527.52,375.87 L528.27,375.76 L529.01,375.64 L529.76,375.52 L530.50,375.39 L531.25,375.27 L532.00,375.14 L532.74,375.01 L533.49,374.89 L534.23,374.78 L534.98,374.68 L535.72,374.58 L536.47,374.50 L537.21,374.43 L537.96,374.38 L538.70,374.35 L539.45,374.33 L540.19,374.31 L540.93,374.29 L541.68,374.27 L542.42,374.26 L543.17,374.24 L543.91,374.22 L544.66,374.21 L545.40,374.20 L546.15,374.19 L546.89,374.18 L547.64,374.17 L548.38,374.17 L549.13,374.16 L549.88,374.16 L550.62,374.16 L551.37,374.16 L552.11,374.18 L552.86,374.20 L553.60,374.23 L554.35,374.27 L555.09,374.32 L555.84,374.37 L556.58,374.43 L557.33,374.50 L558.07,374.57 L558.82,374.65 L559.56,374.72 L560.31,374.81 L561.05,374.89 L561.80,374.98 L562.54,375.07 L563.28,375.17 L564.03,375.26 L564.77,375.35 L565.52,375.44 L566.26,375.54 L567.01,375.63 L567.75,375.72 L568.50,375.80 L569.25,375.89 L569.99,375.98 L570.74,376.07 L571.48,376.17 L572.23,376.26 L572.97,376.36 L573.71,376.46 L574.46,376.56 L575.20,376.67 L575.95,376.77 L576.69,376.88 L577.44,376.99 L578.18,377.11 L578.93,377.22 L579.67,377.34 L580.42,377.45 L581.16,377.57 L581.91,377.69 L582.65,377.82 L583.40,377.94 L584.14,378.06 L584.89,378.19 L585.63,378.32 L586.38,378.45 L587.12,378.57 L587.87,378.71 L588.62,378.84 L589.36,378.97 L590.11,379.10 L590.85,379.24 L591.60,379.37 L592.34,379.51 L593.09,379.64 L593.83,379.78 L594.58,379.92 L595.32,380.06 L596.07,380.19 L596.81,380.33 L597.56,380.47 L598.30,380.61 L599.05,380.75 L599.79,380.89 L600.54,381.03 L601.28,381.17 L602.02,381.31 L602.77,381.45 L603.51,381.58 L604.26,381.72 L605.00,381.86 L605.75,382.00 L606.50,382.14 L607.24,382.28 L607.99,382.42 L608.73,382.56 L609.48,382.70 L610.22,382.85 L610.96,382.99 L611.71,383.14 L612.45,383.28 L613.20,383.43 L613.94,383.58 L614.69,383.73 L615.43,383.88 L616.18,384.03 L616.92,384.18 L617.67,384.33 L618.41,384.49 L619.16,384.64 L619.90,384.80 L620.65,384.95 L621.39,385.11 L622.14,385.26 L622.88,385.42 L623.63,385.58 L624.38,385.73 L625.12,385.89 L625.87,386.05 L626.61,386.21 L627.36,386.37 L628.10,386.53 L628.85,386.69 L629.59,386.85 L630.34,387.01 L631.08,387.17 L631.83,387.33 L632.57,387.49 L633.32,387.65 L634.06,387.81 L634.81,387.98 L635.55,388.14 L636.30,388.30 L637.04,388.46 L637.79,388.62 L638.53,388.78 L639.27,388.94 L640.02,389.10 L640.76,389.26 L641.51,389.42 L642.25,389.58 L643.00,389.74 L643.75,389.90 L644.49,390.06 L645.24,390.22 L645.98,390.38 L646.73,390.55 L647.47,390.71 L648.22,390.87 L648.96,391.03 L649.70,391.19 L650.45,391.36 L651.19,391.52 L651.94,391.68 L652.68,391.84 L653.43,392.01 L654.17,392.17 L654.92,392.34 L655.66,392.50 L656.41,392.66 L657.15,392.83 L657.90,392.99 L658.64,393.16 L659.39,393.32 L660.13,393.49 L660.88,393.65 L661.62,393.82 L662.37,393.99 L663.12,394.15 L663.86,394.32 L664.61,394.48 L665.35,394.65 L666.10,394.82 L666.84,394.98 L667.59,395.15 L668.33,395.31 L669.08,395.48 L669.82,395.65 L670.57,395.81 L671.31,395.98 L672.06,396.15 L672.80,396.31 L673.55,396.48 L674.29,396.64 L675.04,396.81 L675.78,396.98 L676.53,397.14 L677.27,397.31 L678.01,397.47 L678.76,397.64 L679.50,397.81 L680.25,397.97 L681.00,398.14 L681.74,398.30 L682.49,398.47 L683.23,398.63 L683.98,398.80 L684.72,398.97 L685.47,399.13 L686.21,399.30 L686.95,399.46 L687.70,399.63 L688.44,399.79 L689.19,399.96 L689.93,400.13 L690.68,400.29 L691.42,400.46 L692.17,400.62 L692.91,400.79 L693.66,400.96 L694.40,401.12 L695.15,401.29 L695.89,401.46 L696.64,401.62 L697.38,401.79 L698.13,401.95 L698.88,402.12 L699.62,402.29 L700.37,402.45 L701.11,402.62 L701.86,402.79 L702.60,402.95 L703.35,403.12 L704.09,403.29 L704.84,403.45 L705.58,403.62 L706.33,403.79 L707.07,403.96 L707.82,404.12 L708.56,404.29 L709.31,404.46 L710.05,404.62 L710.80,404.79 L711.54,404.96 L712.29,405.12 L713.03,405.29 L713.78,405.46 L714.52,405.63 L715.26,405.79 L716.01,405.96 L716.75,406.13 L717.50,406.30 L717.50,491.19 L716.75,491.15 L716.01,491.12 L715.26,491.08 L714.52,491.04 L713.78,491.00 L713.03,490.96 L712.29,490.93 L711.54,490.89 L710.80,490.85 L710.05,490.81 L709.31,490.77 L708.56,490.73 L707.82,490.69 L707.07,490.65 L706.33,490.61 L705.58,490.57 L704.84,490.53 L704.09,490.49 L703.35,490.45 L702.60,490.40 L701.86,490.36 L701.11,490.32 L700.37,490.28 L699.62,490.24 L698.88,490.19 L698.13,490.15 L697.38,490.11 L696.64,490.06 L695.89,490.02 L695.15,489.98 L694.40,489.93 L693.66,489.89 L692.91,489.84 L692.17,489.80 L691.42,489.75 L690.68,489.71 L689.93,489.66 L689.19,489.62 L688.44,489.57 L687.70,489.53 L686.95,489.48 L686.21,489.44 L685.47,489.39 L684.72,489.34 L683.98,489.30 L683.23,489.25 L682.49,489.20 L681.74,489.16 L681.00,489.11 L680.25,489.06 L679.50,489.01 L678.76,488.96 L678.01,488.91 L677.27,488.86 L676.53,488.81 L675.78,488.76 L675.04,488.71 L674.29,488.65 L673.55,488.60 L672.80,488.55 L672.06,488.49 L671.31,488.44 L670.57,488.38 L669.82,488.33 L669.08,488.27 L668.33,488.21 L667.59,488.16 L666.84,488.10 L666.10,488.04 L665.35,487.99 L664.61,487.93 L663.86,487.87 L663.12,487.81 L662.37,487.75 L661.62,487.70 L660.88,487.64 L660.13,487.58 L659.39,487.52 L658.64,487.47 L657.90,487.41 L657.15,487.35 L656.41,487.30 L655.66,487.24 L654.92,487.18 L654.17,487.13 L653.43,487.07 L652.68,487.02 L651.94,486.96 L651.19,486.91 L650.45,486.85 L649.70,486.80 L648.96,486.75 L648.22,486.69 L647.47,486.64 L646.73,486.59 L645.98,486.54 L645.24,486.49 L644.49,486.44 L643.75,486.40 L643.00,486.35 L642.25,486.30 L641.51,486.26 L640.76,486.21 L640.02,486.17 L639.27,486.12 L638.53,486.08 L637.79,486.04 L637.04,485.99 L636.30,485.95 L635.55,485.91 L634.81,485.87 L634.06,485.83 L633.32,485.79 L632.57,485.75 L631.83,485.71 L631.08,485.67 L630.34,485.63 L629.59,485.59 L628.85,485.55 L628.10,485.51 L627.36,485.47 L626.61,485.43 L625.87,485.39 L625.12,485.35 L624.38,485.31 L623.63,485.28 L622.88,485.24 L622.14,485.20 L621.39,485.16 L620.65,485.12 L619.90,485.08 L619.16,485.04 L618.41,485.01 L617.67,484.97 L616.92,484.93 L616.18,484.89 L615.43,484.85 L614.69,484.81 L613.94,484.77 L613.20,484.73 L612.45,484.69 L611.71,484.65 L610.96,484.61 L610.22,484.57 L609.48,484.53 L608.73,484.49 L607.99,484.44 L607.24,484.40 L606.50,484.36 L605.75,484.32 L605.00,484.27 L604.26,484.23 L603.51,484.19 L602.77,484.15 L602.02,484.10 L601.28,484.06 L600.54,484.02 L599.79,483.98 L599.05,483.93 L598.30,483.89 L597.56,483.85 L596.81,483.81 L596.07,483.77 L595.32,483.72 L594.58,483.68 L593.83,483.64 L593.09,483.60 L592.34,483.56 L591.60,483.51 L590.85,483.47 L590.11,483.43 L589.36,483.38 L588.62,483.34 L587.87,483.30 L587.12,483.25 L586.38,483.21 L585.63,483.16 L584.89,483.12 L584.14,483.07 L583.40,483.03 L582.65,482.98 L581.91,482.94 L581.16,482.89 L580.42,482.84 L579.67,482.79 L578.93,482.74 L578.18,482.70 L577.44,482.65 L576.69,482.60 L575.95,482.54 L575.20,482.49 L574.46,482.44 L573.71,482.39 L572.97,482.33 L572.23,482.28 L571.48,482.22 L570.74,482.17 L569.99,482.11 L569.25,482.05 L568.50,481.99 L567.75,481.93 L567.01,481.87 L566.26,481.81 L565.52,481.75 L564.77,481.68 L564.03,481.62 L563.28,481.55 L562.54,481.48 L561.80,481.41 L561.05,481.34 L560.31,481.27 L559.56,481.20 L558.82,481.12 L558.07,481.05 L557.33,480.97 L556.58,480.89 L555.84,480.82 L555.09,480.74 L554.35,480.66 L553.60,480.58 L552.86,480.50 L552.11,480.42 L551.37,480.33 L550.62,480.25 L549.88,480.17 L549.13,480.08 L548.38,480.00 L547.64,479.91 L546.89,479.83 L546.15,479.74 L545.40,479.65 L544.66,479.56 L543.91,479.48 L543.17,479.39 L542.42,479.30 L541.68,479.21 L540.93,479.12 L540.19,479.03 L539.45,478.94 L538.70,478.85 L537.96,478.76 L537.21,478.66 L536.47,478.57 L535.72,478.48 L534.98,478.39 L534.23,478.30 L533.49,478.20 L532.74,478.11 L532.00,478.02 L531.25,477.93 L530.50,477.83 L529.76,477.74 L529.01,477.64 L528.27,477.54 L527.52,477.44 L526.78,477.34 L526.03,477.23 L525.29,477.12 L524.54,477.01 L523.80,476.90 L523.06,476.79 L522.31,476.68 L521.57,476.57 L520.82,476.45 L520.08,476.34 L519.33,476.22 L518.59,476.10 L517.84,475.99 L517.10,475.87 L516.35,475.75 L515.61,475.63 L514.86,475.51 L514.12,475.40 L513.37,475.28 L512.62,475.16 L511.88,475.04 L511.13,474.92 L510.39,474.81 L509.64,474.69 L508.90,474.58 L508.15,474.46 L507.41,474.35 L506.66,474.24 L505.92,474.13 L505.18,474.02 L504.43,473.91 L503.69,473.80 L502.94,473.70 L502.19,473.59 L501.45,473.49 L500.71,473.39 L499.96,473.29 L499.22,473.20 L498.47,473.11 L497.73,473.02 L496.98,472.93 L496.24,472.84 L495.49,472.76 L494.75,472.68 L494.00,472.60 L493.25,472.53 L492.51,472.45 L491.76,472.37 L491.02,472.30 L490.27,472.22 L489.53,472.14 L488.78,472.06 L488.04,471.98 L487.30,471.90 L486.55,471.82 L485.81,471.74 L485.06,471.66 L484.31,471.58 L483.57,471.50 L482.82,471.42 L482.08,471.35 L481.34,471.27 L480.59,471.19 L479.85,471.12 L479.10,471.04 L478.36,470.97 L477.61,470.89 L476.87,470.82 L476.12,470.75 L475.38,470.68 L474.63,470.61 L473.88,470.55 L473.14,470.48 L472.39,470.42 L471.65,470.36 L470.90,470.30 L470.16,470.25 L469.42,470.19 L468.67,470.14 L467.93,470.09 L467.18,470.04 L466.44,470.00 L465.69,469.96 L464.94,469.92 L464.20,469.88 L463.45,469.85 L462.71,469.82 L461.97,469.79 L461.22,469.77 L460.48,469.75 L459.73,469.73 L458.99,469.72 L458.24,469.71 L457.50,469.70 L456.75,469.70 L456.00,469.71 L455.26,469.72 L454.51,469.75 L453.77,469.79 L453.02,469.84 L452.28,469.90 L451.53,469.97 L450.79,470.04 L450.05,470.13 L449.30,470.22 L448.56,470.32 L447.81,470.43 L447.06,470.55 L446.32,470.67 L445.57,470.83 L444.83,471.07 L444.08,471.38 L443.34,471.75 L442.60,472.17 L441.85,472.63 L441.11,473.12 L440.36,473.63 L439.62,474.17 L438.87,474.79 L438.12,475.53 L437.38,476.37 L436.63,477.28 L435.89,478.26 L435.14,479.27 L434.40,480.30 L433.65,481.33 L432.91,482.34 L432.17,483.31 L431.42,484.22 L430.68,485.08 L429.93,485.91 L429.19,486.72 L428.44,487.53 L427.69,488.35 L426.95,489.19 L426.20,490.07 L425.46,491.00 L424.71,491.97 L423.97,492.98 L423.23,494.02 L422.48,495.09 L421.74,496.20 L420.99,497.34 L420.25,498.51 L419.50,499.71Z" fill="rgb(153,204,153)" fill-opacity="1.0"/>
<path d="M419.50,420.33 L420.25,421.33 L420.99,422.32 L421.74,423.28 L422.48,424.23 L423.23,425.17 L423.97,426.08 L424.71,426.97 L425.46,427.84 L426.20,428.69 L426.95,429.51 L427.69,430.32 L428.44,431.10 L429.19,431.86 L429.93,432.62 L430.68,433.37 L431.42,434.10 L432.17,434.82 L432.91,435.51 L433.65,436.19 L434.40,436.85 L435.14,437.48 L435.89,438.08 L436.63,438.66 L437.38,439.21 L438.12,439.74 L438.87,440.27 L439.62,440.80 L440.36,441.31 L441.11,441.81 L441.85,442.29 L442.60,442.75 L443.34,443.18 L444.08,443.57 L444.83,443.93 L445.57,444.26 L446.32,444.53 L447.06,444.77 L447.81,445.00 L448.56,445.23 L449.30,445.45 L450.05,445.66 L450.79,445.86 L451.53,446.05 L452.28,446.22 L453.02,446.38 L453.77,446.51 L454.51,446.61 L455.26,446.69 L456.00,446.74 L456.75,446.76 L457.50,446.73 L458.24,446.63 L458.99,446.48 L459.73,446.29 L460.48,446.06 L461.22,445.79 L461.97,445.50 L462.71,445.18 L463.45,444.86 L464.20,444.53 L464.94,444.15 L465.69,443.68 L466.44,443.14 L467.18,442.53 L467.93,441.87 L468.67,441.17 L469.42,440.44 L470.16,439.70 L470.90,438.96 L471.65,438.24 L472.39,437.51 L473.14,436.74 L473.88,435.95 L474.63,435.13 L475.38,434.29 L476.12,433.44 L476.87,432.58 L477.61,431.72 L478.36,430.86 L479.10,430.01 L479.85,429.17 L480.59,428.32 L481.34,427.46 L482.08,426.61 L482.82,425.74 L483.57,424.87 L484.31,424.00 L485.06,423.11 L485.81,422.21 L486.55,421.30 L487.30,420.37 L488.04,419.43 L488.78,418.48 L489.53,417.51 L490.27,416.53 L491.02,415.55 L491.76,414.57 L492.51,413.58 L493.25,412.60 L494.00,411.62 L494.75,410.64 L495.49,409.67 L496.24,408.70 L496.98,407.72 L497.73,406.74 L498.47,405.76 L499.22,404.78 L499.96,403.79 L500.71,402.79 L501.45,401.78 L502.19,400.77 L502.94,399.74 L503.69,398.70 L504.43,397.65 L505.18,396.60 L505.92,395.54 L506.66,394.47 L507.41,393.41 L508.15,392.35 L508.90,391.29 L509.64,390.24 L510.39,389.19 L511.13,388.15 L511.88,387.11 L512.62,386.06 L513.37,385.01 L514.12,383.95 L514.86,382.88 L515.61,381.79 L516.35,380.68 L517.10,379.56 L517.84,378.43 L518.59,377.28 L519.33,376.13 L520.08,374.96 L520.82,373.79 L521.57,372.61 L522.31,371.42 L523.06,370.23 L523.80,369.03 L524.54,367.82 L525.29,366.59 L526.03,365.36 L526.78,364.11 L527.52,362.85 L528.27,361.59 L529.01,360.32 L529.76,359.05 L530.50,357.79 L531.25,356.53 L532.00,355.28 L532.74,354.04 L533.49,352.81 L534.23,351.59 L534.98,350.40 L535.72,349.22 L536.47,348.04 L537.21,346.87 L537.96,345.71 L538.70,344.56 L539.45,343.42 L540.19,342.28 L540.93,341.14 L541.68,340.01 L542.42,338.88 L543.17,337.76 L543.91,336.64 L544.66,335.52 L545.40,334.40 L546.15,333.29 L546.89,332.17 L547.64,331.06 L548.38,329.95 L549.13,328.83 L549.88,327.71 L550.62,326.59 L551.37,325.47 L552.11,324.34 L552.86,323.22 L553.60,322.10 L554.35,320.98 L555.09,319.86 L555.84,318.74 L556.58,317.62 L557.33,316.50 L558.07,315.39 L558.82,314.28 L559.56,313.16 L560.31,312.06 L561.05,310.95 L561.80,309.84 L562.54,308.74 L563.28,307.63 L564.03,306.52 L564.77,305.42 L565.52,304.31 L566.26,303.20 L567.01,302.10 L567.75,300.99 L568.50,299.89 L569.25,298.78 L569.99,297.68 L570.74,296.57 L571.48,295.47 L572.23,294.36 L572.97,293.26 L573.71,292.15 L574.46,291.05 L575.20,289.94 L575.95,288.84 L576.69,287.73 L577.44,286.63 L578.18,285.53 L578.93,284.42 L579.67,283.32 L580.42,282.21 L581.16,281.11 L581.91,280.01 L582.65,278.90 L583.40,277.80 L584.14,276.70 L584.89,275.60 L585.63,274.49 L586.38,273.39 L587.12,272.29 L587.87,271.18 L588.62,270.08 L589.36,268.98 L590.11,267.88 L590.85,266.78 L591.60,265.67 L592.34,264.57 L593.09,263.47 L593.83,262.37 L594.58,261.27 L595.32,260.17 L596.07,259.07 L596.81,257.97 L597.56,256.87 L598.30,255.77 L599.05,254.67 L599.79,253.57 L600.54,252.47 L601.28,251.37 L602.02,250.27 L602.77,249.17 L603.51,248.07 L604.26,246.97 L605.00,245.87 L605.75,244.77 L606.50,243.67 L607.24,242.57 L607.99,241.48 L608.73,240.38 L609.48,239.28 L610.22,238.18 L610.96,237.08 L611.71,235.99 L612.45,234.89 L613.20,233.79 L613.94,232.70 L614.69,231.60 L615.43,230.50 L616.18,229.41 L616.92,228.31 L617.67,227.21 L618.41,226.12 L619.16,225.02 L619.90,223.93 L620.65,222.83 L621.39,221.74 L622.14,220.64 L622.88,219.55 L623.63,218.45 L624.38,217.36 L625.12,216.26 L625.87,215.17 L626.61,214.08 L627.36,212.98 L628.10,211.89 L628.85,210.80 L629.59,209.70 L630.34,208.61 L631.08,207.52 L631.83,206.43 L632.57,205.33 L633.32,204.24 L634.06,203.15 L634.81,202.06 L635.55,200.97 L636.30,199.88 L637.04,198.79 L637.79,197.70 L638.53,196.61 L639.27,195.52 L640.02,194.43 L640.76,193.34 L641.51,192.25 L642.25,191.16 L643.00,190.07 L643.75,188.98 L644.49,187.89 L645.24,186.80 L645.98,185.71 L646.73,184.63 L647.47,183.54 L648.22,182.45 L648.96,181.36 L649.70,180.28 L650.45,179.19 L651.19,178.10 L651.94,177.02 L652.68,175.93 L653.43,174.85 L654.17,173.76 L654.92,172.68 L655.66,171.59 L656.41,170.51 L657.15,169.42 L657.90,168.34 L658.64,167.25 L659.39,166.17 L660.13,165.09 L660.88,164.00 L661.62,162.92 L662.37,161.84 L663.12,160.75 L663.86,159.67 L664.61,158.59 L665.35,157.51 L666.10,156.43 L666.84,155.34 L667.59,154.26 L668.33,153.18 L669.08,152.10 L669.82,151.02 L670.57,149.94 L671.31,148.86 L672.06,147.78 L672.80,146.70 L673.55,145.63 L674.29,144.55 L675.04,143.47 L675.78,142.39 L676.53,141.31 L677.27,140.24 L678.01,139.16 L678.76,138.08 L679.50,137.00 L680.25,135.93 L681.00,134.85 L681.74,133.78 L682.49,132.70 L683.23,131.63 L683.98,130.55 L684.72,129.48 L685.47,128.40 L686.21,127.33 L686.95,126.25 L687.70,125.18 L688.44,124.11 L689.19,123.04 L689.93,121.96 L690.68,120.89 L691.42,119.82 L692.17,118.75 L692.91,117.68 L693.66,116.60 L694.40,115.53 L695.15,114.46 L695.89,113.39 L696.64,112.32 L697.38,111.25 L698.13,110.18 L698.88,109.12 L699.62,108.05 L700.37,106.98 L701.11,105.91 L701.86,104.84 L702.60,103.78 L703.35,102.71 L704.09,101.64 L704.84,100.58 L705.58,99.51 L706.33,98.45 L707.07,97.38 L707.82,96.31 L708.56,95.25 L709.31,94.19 L710.05,93.12 L710.80,92.06 L711.54,90.99 L712.29,89.93 L713.03,88.87 L713.78,87.81 L714.52,86.74 L715.26,85.68 L716.01,84.62 L716.75,83.56 L717.50,82.50 L717.50,905.30 L716.75,902.30 L716.01,899.30 L715.26,896.30 L714.52,893.30 L713.78,890.29 L713.03,887.28 L712.29,884.27 L711.54,881.25 L710.80,878.23 L710.05,875.21 L709.31,872.19 L708.56,869.17 L707.82,866.14 L707.07,863.11 L706.33,860.08 L705.58,857.04 L704.84,854.01 L704.09,850.97 L703.35,847.92 L702.60,844.88 L701.86,841.83 L701.11,838.79 L700.37,835.73 L699.62,832.68 L698.88,829.63 L698.13,826.57 L697.38,823.51 L696.64,820.45 L695.89,817.38 L695.15,814.32 L694.40,811.25 L693.66,808.18 L692.91,805.11 L692.17,802.03 L691.42,798.95 L690.68,795.88 L689.93,792.80 L689.19,789.71 L688.44,786.63 L687.70,783.54 L686.95,780.45 L686.21,777.36 L685.47,774.27 L684.72,771.18 L683.98,768.08 L683.23,764.98 L682.49,761.88 L681.74,758.78 L681.00,755.68 L680.25,752.58 L679.50,749.47 L678.76,746.36 L678.01,743.25 L677.27,740.14 L676.53,737.03 L675.78,733.91 L675.04,730.80 L674.29,727.68 L673.55,724.56 L672.80,721.44 L672.06,718.31 L671.31,715.19 L670.57,712.06 L669.82,708.94 L669.08,705.81 L668.33,702.68 L667.59,699.55 L666.84,696.41 L666.10,693.28 L665.35,690.14 L664.61,687.01 L663.86,683.87 L663.12,680.73 L662.37,677.59 L661.62,674.45 L660.88,671.30 L660.13,668.16 L659.39,665.01 L658.64,661.87 L657.90,658.72 L657.15,655.57 L656.41,652.42 L655.66,649.27 L654.92,646.11 L654.17,642.96 L653.43,639.81 L652.68,636.65 L651.94,633.49 L651.19,630.34 L650.45,627.18 L649.70,624.02 L648.96,620.86 L648.22,617.70 L647.47,614.53 L646.73,611.37 L645.98,608.21 L645.24,605.04 L644.49,601.87 L643.75,598.71 L643.00,595.54 L642.25,592.33 L641.51,589.05 L640.76,585.73 L640.02,582.40 L639.27,579.08 L638.53,575.82 L637.79,572.63 L637.04,569.54 L636.30,566.59 L635.55,563.74 L634.81,560.91 L634.06,558.10 L633.32,555.33 L632.57,552.62 L631.83,549.98 L631.08,547.44 L630.34,545.01 L629.59,542.70 L628.85,540.53 L628.10,538.52 L627.36,536.65 L626.61,534.87 L625.87,533.16 L625.12,531.51 L624.38,529.93 L623.63,528.41 L622.88,526.94 L622.14,525.51 L621.39,524.13 L620.65,522.79 L619.90,521.47 L619.16,520.19 L618.41,518.92 L617.67,517.67 L616.92,516.43 L616.18,515.21 L615.43,514.01 L614.69,512.83 L613.94,511.66 L613.20,510.52 L612.45,509.40 L611.71,508.30 L610.96,507.23 L610.22,506.18 L609.48,505.16 L608.73,504.16 L607.99,503.20 L607.24,502.26 L606.50,501.35 L605.75,500.48 L605.00,499.64 L604.26,498.82 L603.51,498.01 L602.77,497.21 L602.02,496.43 L601.28,495.67 L600.54,494.93 L599.79,494.20 L599.05,493.49 L598.30,492.81 L597.56,492.14 L596.81,491.50 L596.07,490.88 L595.32,490.29 L594.58,489.72 L593.83,489.19 L593.09,488.68 L592.34,488.19 L591.60,487.72 L590.85,487.26 L590.11,486.82 L589.36,486.38 L588.62,485.96 L587.87,485.56 L587.12,485.16 L586.38,484.78 L585.63,484.41 L584.89,484.06 L584.14,483.72 L583.40,483.40 L582.65,483.08 L581.91,482.79 L581.16,482.51 L580.42,482.24 L579.67,481.99 L578.93,481.74 L578.18,481.51 L577.44,481.28 L576.69,481.07 L575.95,480.86 L575.20,480.66 L574.46,480.46 L573.71,480.27 L572.97,480.09 L572.23,479.92 L571.48,479.74 L570.74,479.58 L569.99,479.41 L569.25,479.25 L568.50,479.09 L567.75,478.93 L567.01,478.78 L566.26,478.63 L565.52,478.48 L564.77,478.33 L564.03,478.19 L563.28,478.05 L562.54,477.92 L561.80,477.78 L561.05,477.65 L560.31,477.52 L559.56,477.39 L558.82,477.27 L558.07,477.15 L557.33,477.03 L556.58,476.92 L555.84,476.80 L555.09,476.69 L554.35,476.58 L553.60,476.48 L552.86,476.37 L552.11,476.27 L551.37,476.18 L550.62,476.09 L549.88,476.00 L549.13,475.91 L548.38,475.83 L547.64,475.75 L546.89,475.67 L546.15,475.59 L545.40,475.51 L544.66,475.44 L543.91,475.36 L543.17,475.28 L542.42,475.21 L541.68,475.13 L540.93,475.06 L540.19,474.98 L539.45,474.90 L538.70,474.83 L537.96,474.74 L537.21,474.66 L536.47,474.58 L535.72,474.49 L534.98,474.40 L534.23,474.31 L533.49,474.21 L532.74,474.11 L532.00,474.00 L531.25,473.89 L530.50,473.77 L529.76,473.64 L529.01,473.51 L528.27,473.37 L527.52,473.22 L526.78,473.07 L526.03,472.91 L525.29,472.76 L524.54,472.60 L523.80,472.45 L523.06,472.30 L522.31,472.15 L521.57,472.00 L520.82,471.86 L520.08,471.73 L519.33,471.61 L518.59,471.49 L517.84,471.38 L517.10,471.28 L516.35,471.17 L515.61,471.07 L514.86,470.98 L514.12,470.88 L513.37,470.79 L512.62,470.70 L511.88,470.61 L511.13,470.52 L510.39,470.43 L509.64,470.35 L508.90,470.27 L508.15,470.18 L507.41,470.10 L506.66,470.02 L505.92,469.94 L505.18,469.86 L504.43,469.77 L503.69,469.69 L502.94,469.61 L502.19,469.52 L501.45,469.44 L500.71,469.35 L499.96,469.26 L499.22,469.17 L498.47,469.08 L497.73,468.99 L496.98,468.89 L496.24,468.79 L495.49,468.69 L494.75,468.58 L494.00,468.47 L493.25,468.35 L492.51,468.23 L491.76,468.10 L491.02,467.96 L490.27,467.82 L489.53,467.68 L488.78,467.53 L488.04,467.37 L487.30,467.22 L486.55,467.06 L485.81,466.91 L485.06,466.75 L484.31,466.59 L483.57,466.43 L482.82,466.28 L482.08,466.12 L481.34,465.97 L480.59,465.83 L479.85,465.69 L479.10,465.55 L478.36,465.42 L477.61,465.29 L476.87,465.17 L476.12,465.06 L475.38,464.96 L474.63,464.86 L473.88,464.78 L473.14,464.71 L472.39,464.64 L471.65,464.58 L470.90,464.52 L470.16,464.46 L469.42,464.39 L468.67,464.34 L467.93,464.28 L467.18,464.22 L466.44,464.17 L465.69,464.11 L464.94,464.07 L464.20,464.02 L463.45,463.98 L462.71,463.94 L461.97,463.90 L461.22,463.87 L460.48,463.85 L459.73,463.83 L458.99,463.81 L458.24,463.80 L457.50,463.80 L456.75,463.89 L456.00,464.26 L455.26,464.87 L454.51,465.66 L453.77,466.60 L453.02,467.63 L452.28,468.70 L451.53,469.78 L450.79,470.81 L450.05,471.75 L449.30,472.61 L448.56,473.48 L447.81,474.35 L447.06,475.23 L446.32,476.13 L445.57,477.02 L444.83,477.93 L444.08,478.83 L443.34,479.75 L442.60,480.66 L441.85,481.57 L441.11,482.49 L440.36,483.40 L439.62,484.32 L438.87,485.22 L438.12,486.13 L437.38,487.02 L436.63,487.92 L435.89,488.82 L435.14,489.73 L434.40,490.65 L433.65,491.58 L432.91,492.52 L432.17,493.49 L431.42,494.47 L430.68,495.48 L429.93,496.50 L429.19,497.54 L428.44,498.58 L427.69,499.64 L426.95,500.72 L426.20,501.80 L425.46,502.90 L424.71,504.02 L423.97,505.14 L423.23,506.28 L422.48,507.44 L421.74,508.61 L420.99,509.79 L420.25,510.99 L419.50,512.20Z" fill="rgb(0,0,255)" fill-opacity="0.3"/>
<path d="M419.50,472.51 L420.25,472.04 L420.99,471.57 L421.74,471.10 L422.48,470.63 L423.23,470.16 L423.97,469.69 L424.71,469.22 L425.46,468.75 L426.20,468.28 L426.95,467.81 L427.69,467.34 L428.44,466.87 L429.19,466.40 L429.93,465.93 L430.68,465.46 L431.42,465.00 L432.17,464.53 L432.91,464.06 L433.65,463.60 L434.40,463.13 L435.14,462.66 L435.89,462.20 L436.63,461.73 L437.38,461.27 L438.12,460.81 L438.87,460.35 L439.62,459.88 L440.36,459.42 L441.11,458.96 L441.85,458.51 L442.60,458.05 L443.34,457.59 L444.08,457.14 L444.83,456.68 L445.57,456.23 L446.32,455.77 L447.06,455.32 L447.81,454.87 L448.56,454.42 L449.30,453.97 L450.05,453.53 L450.79,453.08 L451.53,452.64 L452.28,452.19 L453.02,451.75 L453.77,451.31 L454.51,450.87 L455.26,450.43 L456.00,450.00 L456.75,449.56 L457.50,449.13 L458.24,448.70 L458.99,448.27 L459.73,447.84 L460.48,447.41 L461.22,446.98 L461.97,446.56 L462.71,446.14 L463.45,445.72 L464.20,445.30 L464.94,444.88 L465.69,444.46 L466.44,444.05 L467.18,443.63 L467.93,443.22 L468.67,442.81 L469.42,442.41 L470.16,442.00 L470.90,441.59 L471.65,441.19 L472.39,440.79 L473.14,440.39 L473.88,439.99 L474.63,439.60 L475.38,439.20 L476.12,438.81 L476.87,438.42 L477.61,438.03 L478.36,437.65 L479.10,437.26 L479.85,436.88 L480.59,436.50 L481.34,436.12 L482.08,435.74 L482.82,435.37 L483.57,434.99 L484.31,434.62 L485.06,434.25 L485.81,433.88 L486.55,433.52 L487.30,433.15 L488.04,432.79 L488.78,432.43 L489.53,432.07 L490.27,431.71 L491.02,431.36 L491.76,431.00 L492.51,430.65 L493.25,430.30 L494.00,429.96 L494.75,429.61 L495.49,429.27 L496.24,428.93 L496.98,428.59 L497.73,428.25 L498.47,427.91 L499.22,427.58 L499.96,427.25 L500.71,426.92 L501.45,426.59 L502.19,426.26 L502.94,425.94 L503.69,425.61 L504.43,425.29 L505.18,424.97 L505.92,424.66 L506.66,424.34 L507.41,424.03 L508.15,423.72 L508.90,423.41 L509.64,423.10 L510.39,422.79 L511.13,422.49 L511.88,422.19 L512.62,421.89 L513.37,421.59 L514.12,421.29 L514.86,421.00 L515.61,420.70 L516.35,420.41 L517.10,420.12 L517.84,419.83 L518.59,419.55 L519.33,419.26 L520.08,418.98 L520.82,418.70 L521.57,418.42 L522.31,418.14 L523.06,417.87 L523.80,417.59 L524.54,417.32 L525.29,417.05 L526.03,416.78 L526.78,416.52 L527.52,416.25 L528.27,415.99 L529.01,415.72 L529.76,415.46 L530.50,415.21 L531.25,414.95 L532.00,414.69 L532.74,414.44 L533.49,414.19 L534.23,413.94 L534.98,413.69 L535.72,413.44 L536.47,413.20 L537.21,412.95 L537.96,412.71 L538.70,412.47 L539.45,412.23 L540.19,411.99 L540.93,411.76 L541.68,411.52 L542.42,411.29 L543.17,411.06 L543.91,410.83 L544.66,410.60 L545.40,410.37 L546.15,410.15 L546.89,409.92 L547.64,409.70 L548.38,409.48 L549.13,409.26 L549.88,409.04 L550.62,408.83 L551.37,408.61 L552.11,408.40 L552.86,408.19 L553.60,407.98 L554.35,407.77 L555.09,407.56 L555.84,407.35 L556.58,407.15 L557.33,406.94 L558.07,406.74 L558.82,406.54 L559.56,406.34 L560.31,406.14 L561.05,405.95 L561.80,405.75 L562.54,405.56 L563.28,405.36 L564.03,405.17 L564.77,404.98 L565.52,404.79 L566.26,404.60 L567.01,404.42 L567.75,404.23 L568.50,404.05 L569.25,403.86 L569.99,403.68 L570.74,403.50 L571.48,403.32 L572.23,403.14 L572.97,402.97 L573.71,402.79 L574.46,402.62 L575.20,402.44 L575.95,402.27 L576.69,402.10 L577.44,401.93 L578.18,401.76 L578.93,401.60 L579.67,401.43 L580.42,401.26 L581.16,401.10 L581.91,400.94 L582.65,400.78 L583.40,400.62 L584.14,400.46 L584.89,400.30 L585.63,400.14 L586.38,399.98 L587.12,399.83 L587.87,399.67 L588.62,399.52 L589.36,399.37 L590.11,399.22 L590.85,399.07 L591.60,398.92 L592.34,398.77 L593.09,398.62 L593.83,398.48 L594.58,398.33 L595.32,398.19 L596.07,398.04 L596.81,397.90 L597.56,397.76 L598.30,397.62 L599.05,397.48 L599.79,397.34 L600.54,397.20 L601.28,397.07 L602.02,396.93 L602.77,396.80 L603.51,396.66 L604.26,396.53 L605.00,396.40 L605.75,396.27 L606.50,396.14 L607.24,396.01 L607.99,395.88 L608.73,395.75 L609.48,395.62 L610.22,395.50 L610.96,395.37 L611.71,395.25 L612.45,395.13 L613.20,395.00 L613.94,394.88 L614.69,394.76 L615.43,394.64 L616.18,394.52 L616.92,394.40 L617.67,394.28 L618.41,394.17 L619.16,394.05 L619.90,393.94 L620.65,393.82 L621.39,393.71 L622.14,393.59 L622.88,393.48 L623.63,393.37 L624.38,393.26 L625.12,393.15 L625.87,393.04 L626.61,392.93 L627.36,392.82 L628.10,392.72 L628.85,392.61 L629.59,392.50 L630.34,392.40 L631.08,392.29 L631.83,392.19 L632.57,392.09 L633.32,391.98 L634.06,391.88 L634.81,391.78 L635.55,391.68 L636.30,391.58 L637.04,391.48 L637.79,391.38 L638.53,391.29 L639.27,391.19 L640.02,391.09 L640.76,391.00 L641.51,390.90 L642.25,390.81 L643.00,390.71 L643.75,390.62 L644.49,390.53 L645.24,390.43 L645.98,390.34 L646.73,390.25 L647.47,390.16 L648.22,390.07 L648.96,389.98 L649.70,389.89 L650.45,389.80 L651.19,389.72 L651.94,389.63 L652.68,389.54 L653.43,389.46 L654.17,389.37 L654.92,389.29 L655.66,389.20 L656.41,389.12 L657.15,389.04 L657.90,388.95 L658.64,388.87 L659.39,388.79 L660.13,388.71 L660.88,388.63 L661.62,388.55 L662.37,388.47 L663.12,388.39 L663.86,388.31 L664.61,388.23 L665.35,388.16 L666.10,388.08 L666.84,388.00 L667.59,387.93 L668.33,387.85 L669.08,387.77 L669.82,387.70 L670.57,387.63 L671.31,387.55 L672.06,387.48 L672.80,387.41 L673.55,387.33 L674.29,387.26 L675.04,387.19 L675.78,387.12 L676.53,387.05 L677.27,386.98 L678.01,386.91 L678.76,386.84 L679.50,386.77 L680.25,386.70 L681.00,386.64 L681.74,386.57 L682.49,386.50 L683.23,386.43 L683.98,386.37 L684.72,386.30 L685.47,386.24 L686.21,386.17 L686.95,386.11 L687.70,386.04 L688.44,385.98 L689.19,385.92 L689.93,385.85 L690.68,385.79 L691.42,385.73 L692.17,385.67 L692.91,385.60 L693.66,385.54 L694.40,385.48 L695.15,385.42 L695.89,385.36 L696.64,385.30 L697.38,385.24 L698.13,385.18 L698.88,385.13 L699.62,385.07 L700.37,385.01 L701.11,384.95 L701.86,384.89 L702.60,384.84 L703.35,384.78 L704.09,384.72 L704.84,384.67 L705.58,384.61 L706.33,384.56 L707.07,384.50 L707.82,384.45 L708.56,384.39 L709.31,384.34 L710.05,384.29 L710.80,384.23 L711.54,384.18 L712.29,384.13 L713.03,384.08 L713.78,384.02 L714.52,383.97 L715.26,383.92 L716.01,383.87 L716.75,383.82 L717.50,383.77 L717.50,386.55 L716.75,386.62 L716.01,386.68 L715.26,386.74 L714.52,386.80 L713.78,386.87 L713.03,386.93 L712.29,386.99 L711.54,387.06 L710.80,387.12 L710.05,387.19 L709.31,387.26 L708.56,387.32 L707.82,387.39 L707.07,387.45 L706.33,387.52 L705.58,387.59 L704.84,387.66 L704.09,387.73 L703.35,387.79 L702.60,387.86 L701.86,387.93 L701.11,388.00 L700.37,388.07 L699.62,388.14 L698.88,388.22 L698.13,388.29 L697.38,388.36 L696.64,388.43 L695.89,388.51 L695.15,388.58 L694.40,388.65 L693.66,388.73 L692.91,388.80 L692.17,388.88 L691.42,388.95 L690.68,389.03 L689.93,389.11 L689.19,389.18 L688.44,389.26 L687.70,389.34 L686.95,389.42 L686.21,389.49 L685.47,389.57 L684.72,389.65 L683.98,389.73 L683.23,389.81 L682.49,389.90 L681.74,389.98 L681.00,390.06 L680.25,390.14 L679.50,390.22 L678.76,390.31 L678.01,390.39 L677.27,390.48 L676.53,390.56 L675.78,390.65 L675.04,390.73 L674.29,390.82 L673.55,390.91 L672.80,391.00 L672.06,391.08 L671.31,391.17 L670.57,391.26 L669.82,391.35 L669.08,391.44 L668.33,391.53 L667.59,391.63 L666.84,391.72 L666.10,391.81 L665.35,391.90 L664.61,392.00 L663.86,392.09 L663.12,392.19 L662.37,392.28 L661.62,392.38 L660.88,392.47 L660.13,392.57 L659.39,392.67 L658.64,392.77 L657.90,392.87 L657.15,392.97 L656.41,393.07 L655.66,393.17 L654.92,393.27 L654.17,393.37 L653.43,393.47 L652.68,393.58 L651.94,393.68 L651.19,393.79 L650.45,393.89 L649.70,394.00 L648.96,394.10 L648.22,394.21 L647.47,394.32 L646.73,394.43 L645.98,394.54 L645.24,394.65 L644.49,394.76 L643.75,394.87 L643.00,394.98 L642.25,395.09 L641.51,395.21 L640.76,395.32 L640.02,395.44 L639.27,395.55 L638.53,395.67 L637.79,395.78 L637.04,395.90 L636.30,396.02 L635.55,396.14 L634.81,396.26 L634.06,396.38 L633.32,396.50 L632.57,396.62 L631.83,396.75 L631.08,396.87 L630.34,396.99 L629.59,397.12 L628.85,397.25 L628.10,397.37 L627.36,397.50 L626.61,397.63 L625.87,397.76 L625.12,397.89 L624.38,398.02 L623.63,398.15 L622.88,398.28 L622.14,398.42 L621.39,398.55 L620.65,398.68 L619.90,398.82 L619.16,398.96 L618.41,399.09 L617.67,399.23 L616.92,399.37 L616.18,399.51 L615.43,399.65 L614.69,399.80 L613.94,399.94 L613.20,400.08 L612.45,400.23 L611.71,400.37 L610.96,400.52 L610.22,400.67 L609.48,400.81 L608.73,400.96 L607.99,401.11 L607.24,401.26 L606.50,401.42 L605.75,401.57 L605.00,401.72 L604.26,401.88 L603.51,402.03 L602.77,402.19 L602.02,402.35 L601.28,402.51 L600.54,402.67 L599.79,402.83 L599.05,402.99 L598.30,403.15 L597.56,403.32 L596.81,403.48 L596.07,403.65 L595.32,403.81 L594.58,403.98 L593.83,404.15 L593.09,404.32 L592.34,404.49 L591.60,404.66 L590.85,404.84 L590.11,405.01 L589.36,405.19 L588.62,405.36 L587.87,405.54 L587.12,405.72 L586.38,405.90 L585.63,406.08 L584.89,406.26 L584.14,406.45 L583.40,406.63 L582.65,406.82 L581.91,407.00 L581.16,407.19 L580.42,407.38 L579.67,407.57 L578.93,407.76 L578.18,407.95 L577.44,408.15 L576.69,408.34 L575.95,408.54 L575.20,408.74 L574.46,408.93 L573.71,409.13 L572.97,409.33 L572.23,409.54 L571.48,409.74 L570.74,409.95 L569.99,410.15 L569.25,410.36 L568.50,410.57 L567.75,410.78 L567.01,410.99 L566.26,411.20 L565.52,411.41 L564.77,411.63 L564.03,411.85 L563.28,412.06 L562.54,412.28 L561.80,412.50 L561.05,412.72 L560.31,412.95 L559.56,413.17 L558.82,413.40 L558.07,413.62 L557.33,413.85 L556.58,414.08 L555.84,414.31 L555.09,414.55 L554.35,414.78 L553.60,415.02 L552.86,415.25 L552.11,415.49 L551.37,415.73 L550.62,415.97 L549.88,416.21 L549.13,416.46 L548.38,416.70 L547.64,416.95 L546.89,417.20 L546.15,417.45 L545.40,417.70 L544.66,417.95 L543.91,418.21 L543.17,418.46 L542.42,418.72 L541.68,418.98 L540.93,419.24 L540.19,419.50 L539.45,419.76 L538.70,420.03 L537.96,420.29 L537.21,420.56 L536.47,420.83 L535.72,421.10 L534.98,421.37 L534.23,421.64 L533.49,421.92 L532.74,422.20 L532.00,422.47 L531.25,422.75 L530.50,423.04 L529.76,423.32 L529.01,423.60 L528.27,423.89 L527.52,424.18 L526.78,424.47 L526.03,424.76 L525.29,425.05 L524.54,425.34 L523.80,425.64 L523.06,425.94 L522.31,426.23 L521.57,426.53 L520.82,426.84 L520.08,427.14 L519.33,427.44 L518.59,427.75 L517.84,428.06 L517.10,428.37 L516.35,428.68 L515.61,428.99 L514.86,429.31 L514.12,429.63 L513.37,429.94 L512.62,430.26 L511.88,430.58 L511.13,430.91 L510.39,431.23 L509.64,431.56 L508.90,431.88 L508.15,432.21 L507.41,432.54 L506.66,432.88 L505.92,433.21 L505.18,433.55 L504.43,433.88 L503.69,434.22 L502.94,434.56 L502.19,434.90 L501.45,435.25 L500.71,435.59 L499.96,435.94 L499.22,436.29 L498.47,436.64 L497.73,436.99 L496.98,437.34 L496.24,437.70 L495.49,438.05 L494.75,438.41 L494.00,438.77 L493.25,439.13 L492.51,439.49 L491.76,439.86 L491.02,440.22 L490.27,440.59 L489.53,440.96 L488.78,441.33 L488.04,441.70 L487.30,442.07 L486.55,442.44 L485.81,442.82 L485.06,443.20 L484.31,443.57 L483.57,443.95 L482.82,444.34 L482.08,444.72 L481.34,445.10 L480.59,445.49 L479.85,445.87 L479.10,446.26 L478.36,446.65 L477.61,447.04 L476.87,447.44 L476.12,447.83 L475.38,448.22 L474.63,448.62 L473.88,449.02 L473.14,449.42 L472.39,449.82 L471.65,450.22 L470.90,450.62 L470.16,451.02 L469.42,451.43 L468.67,451.83 L467.93,452.24 L467.18,452.65 L466.44,453.06 L465.69,453.47 L464.94,453.88 L464.20,454.29 L463.45,454.70 L462.71,455.12 L461.97,455.53 L461.22,455.95 L460.48,456.37 L459.73,456.78 L458.99,457.20 L458.24,457.62 L457.50,458.04 L456.75,458.46 L456.00,458.89 L455.26,459.31 L454.51,459.73 L453.77,460.16 L453.02,460.58 L452.28,461.01 L451.53,461.43 L450.79,461.86 L450.05,462.29 L449.30,462.72 L448.56,463.14 L447.81,463.57 L447.06,464.00 L446.32,464.43 L445.57,464.86 L444.83,465.29 L444.08,465.72 L443.34,466.16 L442.60,466.59 L441.85,467.02 L441.11,467.45 L440.36,467.88 L439.62,468.32 L438.87,468.75 L438.12,469.18 L437.38,469.61 L436.63,470.05 L435.89,470.48 L435.14,470.91 L434.40,471.34 L433.65,471.77 L432.91,472.21 L432.17,472.64 L431.42,473.07 L430.68,473.50 L429.93,473.93 L429.19,474.36 L428.44,474.79 L427.69,475.22 L426.95,475.65 L426.20,476.08 L425.46,476.51 L424.71,476.94 L423.97,477.36 L423.23,477.79 L422.48,478.22 L421.74,478.64 L420.99,479.07 L420.25,479.49 L419.50,479.91Z" fill="rgb(255,0,0)" fill-opacity="0.88"/>
<rect x="457" y="324.0" width="1" height="243.0" fill="rgb(0,128,0)" fill-opacity="0.3"/>
<rect x="456" y="324.0" width="1" height="243.0" fill="rgb(0,128,0)" fill-opacity="0.14"/>
<rect x="494" y="324.0" width="1" height="243.0" fill="rgb(0,128,0)" fill-opacity="0.3"/>
<rect x="493" y="324.0" width="1" height="243.0" fill="rgb(0,128,0)" fill-opacity="0.12"/>
<rect x="531" y="324.0" width="1" height="243.0" fill="rgb(0,128,0)" fill-opacity="0.05"/>
<rect x="568" y="324.0" width="1" height="243.0" fill="rgb(0,128,0)" fill-opacity="0.3"/>
<rect x="569" y="324.0" width="1" height="243.0" fill="rgb(0,128,0)" fill-opacity="0.12"/>
<rect x="605" y="324.0" width="1" height="243.0" fill="rgb(0,128,0)" fill-opacity="0.3"/>
<rect x="606" y="324.0" width="1" height="243.0" fill="rgb(0,128,0)" fill-opacity="0.12"/>
<rect x="643" y="324.0" width="1" height="243.0" fill="rgb(0,128,0)" fill-opacity="0.05"/>
<rect x="680" y="324.0" width="1" height="243.0" fill="rgb(0,128,0)" fill-opacity="0.3"/>
<rect x="681" y="324.0" width="1" height="243.0" fill="rgb(0,128,0)" fill-opacity="0.07"/>
<rect x="419.0" y="372" width="299.0" height="1" fill="rgb(0,128,0)" fill-opacity="0.07"/>
<rect x="419.0" y="421" width="299.0" height="1" fill="rgb(0,128,0)" fill-opacity="0.05"/>
<rect x="419.0" y="469" width="299.0" height="1" fill="rgb(0,128,0)" fill-opacity="0.3"/>
<rect x="419.0" y="470" width="299.0" height="1" fill="rgb(0,128,0)" fill-opacity="0.06"/>
<rect x="419.0" y="518" width="299.0" height="1" fill="rgb(0,128,0)" fill-opacity="0.3"/>
<rect x="419.0" y="517" width="299.0" height="1" fill="rgb(0,128,0)" fill-opacity="0.12"/>
<path d="M419.50,476.43 L420.25,475.98 L420.99,475.54 L421.74,475.09 L422.48,474.64 L423.23,474.19 L423.97,473.74 L424.71,473.30 L425.46,472.85 L426.20,472.40 L426.95,471.95 L427.69,471.50 L428.44,471.05 L429.19,470.60 L429.93,470.15 L430.68,469.70 L431.42,469.25 L432.17,468.80 L432.91,468.35 L433.65,467.90 L434.40,467.45 L435.14,467.00 L435.89,466.55 L436.63,466.10 L437.38,465.65 L438.12,465.20 L438.87,464.75 L439.62,464.30 L440.36,463.86 L441.11,463.41 L441.85,462.96 L442.60,462.52 L443.34,462.07 L444.08,461.63 L444.83,461.18 L445.57,460.74 L446.32,460.30 L447.06,459.86 L447.81,459.42 L448.56,458.97 L449.30,458.54 L450.05,458.10 L450.79,457.66 L451.53,457.22 L452.28,456.79 L453.02,456.35 L453.77,455.92 L454.51,455.48 L455.26,455.05 L456.00,454.62 L456.75,454.19 L457.50,453.76 L458.24,453.33 L458.99,452.91 L459.73,452.48 L460.48,452.06 L461.22,451.64 L461.97,451.21 L462.71,450.79 L463.45,450.37 L464.20,449.96 L464.94,449.54 L465.69,449.12 L466.44,448.71 L467.18,448.30 L467.93,447.89 L468.67,447.48 L469.42,447.07 L470.16,446.66 L470.90,446.26 L471.65,445.85 L472.39,445.45 L473.14,445.05 L473.88,444.65 L474.63,444.25 L475.38,443.85 L476.12,443.46 L476.87,443.07 L477.61,442.67 L478.36,442.28 L479.10,441.89 L479.85,441.51 L480.59,441.12 L481.34,440.74 L482.08,440.36 L482.82,439.97 L483.57,439.60 L484.31,439.22 L485.06,438.84 L485.81,438.47 L486.55,438.10 L487.30,437.72 L488.04,437.36 L488.78,436.99 L489.53,436.62 L490.27,436.26 L491.02,435.90 L491.76,435.54 L492.51,435.18 L493.25,434.82 L494.00,434.46 L494.75,434.11 L495.49,433.76 L496.24,433.41 L496.98,433.06 L497.73,432.71 L498.47,432.37 L499.22,432.02 L499.96,431.68 L500.71,431.34 L501.45,431.00 L502.19,430.67 L502.94,430.33 L503.69,430.00 L504.43,429.67 L505.18,429.34 L505.92,429.01 L506.66,428.69 L507.41,428.36 L508.15,428.04 L508.90,427.72 L509.64,427.40 L510.39,427.08 L511.13,426.77 L511.88,426.45 L512.62,426.14 L513.37,425.83 L514.12,425.52 L514.86,425.21 L515.61,424.91 L516.35,424.61 L517.10,424.30 L517.84,424.00 L518.59,423.71 L519.33,423.41 L520.08,423.11 L520.82,422.82 L521.57,422.53 L522.31,422.24 L523.06,421.95 L523.80,421.66 L524.54,421.38 L525.29,421.10 L526.03,420.81 L526.78,420.53 L527.52,420.26 L528.27,419.98 L529.01,419.70 L529.76,419.43 L530.50,419.16 L531.25,418.89 L532.00,418.62 L532.74,418.35 L533.49,418.09 L534.23,417.82 L534.98,417.56 L535.72,417.30 L536.47,417.04 L537.21,416.79 L537.96,416.53 L538.70,416.28 L539.45,416.02 L540.19,415.77 L540.93,415.52 L541.68,415.27 L542.42,415.03 L543.17,414.78 L543.91,414.54 L544.66,414.30 L545.40,414.06 L546.15,413.82 L546.89,413.58 L547.64,413.34 L548.38,413.11 L549.13,412.88 L549.88,412.64 L550.62,412.41 L551.37,412.19 L552.11,411.96 L552.86,411.73 L553.60,411.51 L554.35,411.28 L555.09,411.06 L555.84,410.84 L556.58,410.62 L557.33,410.41 L558.07,410.19 L558.82,409.98 L559.56,409.76 L560.31,409.55 L561.05,409.34 L561.80,409.13 L562.54,408.92 L563.28,408.72 L564.03,408.51 L564.77,408.31 L565.52,408.10 L566.26,407.90 L567.01,407.70 L567.75,407.50 L568.50,407.31 L569.25,407.11 L569.99,406.91 L570.74,406.72 L571.48,406.53 L572.23,406.34 L572.97,406.15 L573.71,405.96 L574.46,405.77 L575.20,405.58 L575.95,405.40 L576.69,405.22 L577.44,405.03 L578.18,404.85 L578.93,404.67 L579.67,404.49 L580.42,404.31 L581.16,404.14 L581.91,403.96 L582.65,403.79 L583.40,403.61 L584.14,403.44 L584.89,403.27 L585.63,403.10 L586.38,402.93 L587.12,402.76 L587.87,402.59 L588.62,402.43 L589.36,402.26 L590.11,402.10 L590.85,401.94 L591.60,401.78 L592.34,401.62 L593.09,401.46 L593.83,401.30 L594.58,401.14 L595.32,400.98 L596.07,400.83 L596.81,400.67 L597.56,400.52 L598.30,400.37 L599.05,400.22 L599.79,400.07 L600.54,399.92 L601.28,399.77 L602.02,399.62 L602.77,399.47 L603.51,399.33 L604.26,399.18 L605.00,399.04 L605.75,398.90 L606.50,398.76 L607.24,398.62 L607.99,398.48 L608.73,398.34 L609.48,398.20 L610.22,398.06 L610.96,397.92 L611.71,397.79 L612.45,397.65 L613.20,397.52 L613.94,397.39 L614.69,397.26 L615.43,397.12 L616.18,396.99 L616.92,396.86 L617.67,396.74 L618.41,396.61 L619.16,396.48 L619.90,396.35 L620.65,396.23 L621.39,396.10 L622.14,395.98 L622.88,395.86 L623.63,395.74 L624.38,395.61 L625.12,395.49 L625.87,395.37 L626.61,395.25 L627.36,395.14 L628.10,395.02 L628.85,394.90 L629.59,394.79 L630.34,394.67 L631.08,394.56 L631.83,394.44 L632.57,394.33 L633.32,394.22 L634.06,394.11 L634.81,393.99 L635.55,393.88 L636.30,393.77 L637.04,393.67 L637.79,393.56 L638.53,393.45 L639.27,393.34 L640.02,393.24 L640.76,393.13 L641.51,393.03 L642.25,392.92 L643.00,392.82 L643.75,392.72 L644.49,392.61 L645.24,392.51 L645.98,392.41 L646.73,392.31 L647.47,392.21 L648.22,392.11 L648.96,392.01 L649.70,391.92 L650.45,391.82 L651.19,391.72 L651.94,391.63 L652.68,391.53 L653.43,391.44 L654.17,391.34 L654.92,391.25 L655.66,391.16 L656.41,391.06 L657.15,390.97 L657.90,390.88 L658.64,390.79 L659.39,390.70 L660.13,390.61 L660.88,390.52 L661.62,390.43 L662.37,390.35 L663.12,390.26 L663.86,390.17 L664.61,390.09 L665.35,390.00 L666.10,389.92 L666.84,389.83 L667.59,389.75 L668.33,389.66 L669.08,389.58 L669.82,389.50 L670.57,389.42 L671.31,389.33 L672.06,389.25 L672.80,389.17 L673.55,389.09 L674.29,389.01 L675.04,388.93 L675.78,388.86 L676.53,388.78 L677.27,388.70 L678.01,388.62 L678.76,388.55 L679.50,388.47 L680.25,388.39 L681.00,388.32 L681.74,388.24 L682.49,388.17 L683.23,388.10 L683.98,388.02 L684.72,387.95 L685.47,387.88 L686.21,387.80 L686.95,387.73 L687.70,387.66 L688.44,387.59 L689.19,387.52 L689.93,387.45 L690.68,387.38 L691.42,387.31 L692.17,387.24 L692.91,387.17 L693.66,387.11 L694.40,387.04 L695.15,386.97 L695.89,386.91 L696.64,386.84 L697.38,386.77 L698.13,386.71 L698.88,386.64 L699.62,386.58 L700.37,386.51 L701.11,386.45 L701.86,386.39 L702.60,386.32 L703.35,386.26 L704.09,386.20 L704.84,386.14 L705.58,386.07 L706.33,386.01 L707.07,385.95 L707.82,385.89 L708.56,385.83 L709.31,385.77 L710.05,385.71 L710.80,385.65 L711.54,385.59 L712.29,385.53 L713.03,385.48 L713.78,385.42 L714.52,385.36 L715.26,385.30 L716.01,385.25 L716.75,385.19 L717.50,385.13" fill="none" stroke="#000" stroke-width="1.8"/>
</g>
<rect x="419" y="325" width="1" height="241" fill="#000" fill-opacity="0.09"/>
<rect x="717" y="325" width="1" height="241" fill="#000" fill-opacity="0.45"/>
<rect x="718" y="325" width="1" height="241" fill="#000" fill-opacity="0.1"/>
<rect x="418" y="324" width="300" height="1" fill="#000" fill-opacity="0.75"/>
<rect x="418" y="566" width="300" height="1" fill="#000" fill-opacity="0.6"/>
<rect x="417.5" y="324" width="1.5" height="1" fill="#000" fill-opacity="0.35"/>
<rect x="417.5" y="372" width="1.5" height="1" fill="#000" fill-opacity="0.35"/>
<rect x="417.5" y="421" width="1.5" height="1" fill="#000" fill-opacity="0.35"/>
<rect x="417.5" y="469" width="1.5" height="1" fill="#000" fill-opacity="0.35"/>
<rect x="417.5" y="518" width="1.5" height="1" fill="#000" fill-opacity="0.35"/>
<rect x="417.5" y="566" width="1.5" height="1" fill="#000" fill-opacity="0.35"/>
<rect x="419" y="567" width="1" height="1.3" fill="#000" fill-opacity="0.45"/>
<rect x="457" y="567" width="1" height="1.3" fill="#000" fill-opacity="0.45"/>
<rect x="494" y="567" width="1" height="1.3" fill="#000" fill-opacity="0.45"/>
<rect x="531" y="567" width="1" height="1.3" fill="#000" fill-opacity="0.45"/>
<rect x="568" y="567" width="1" height="1.3" fill="#000" fill-opacity="0.45"/>
<rect x="605" y="567" width="1" height="1.3" fill="#000" fill-opacity="0.45"/>
<rect x="643" y="567" width="1" height="1.3" fill="#000" fill-opacity="0.45"/>
<rect x="680" y="567" width="1" height="1.3" fill="#000" fill-opacity="0.45"/>
<rect x="717" y="567" width="1" height="1.3" fill="#000" fill-opacity="0.45"/>
<text transform="translate(416.20,327.70) scale(0.92,1)" font-size="8.4" text-anchor="end" fill="#000" stroke="#000" stroke-width="0.2" stroke-opacity="0.6">1.0</text>
<text transform="translate(416.20,376.10) scale(0.92,1)" font-size="8.4" text-anchor="end" fill="#000" stroke="#000" stroke-width="0.2" stroke-opacity="0.6">0.5</text>
<text transform="translate(416.20,424.50) scale(0.92,1)" font-size="8.4" text-anchor="end" fill="#000" stroke="#000" stroke-width="0.2" stroke-opacity="0.6">0.0</text>
<text transform="translate(416.20,472.90) scale(0.92,1)" font-size="8.4" text-anchor="end" fill="#000" stroke="#000" stroke-width="0.2" stroke-opacity="0.6">−0.5</text>
<text transform="translate(416.20,521.30) scale(0.92,1)" font-size="8.4" text-anchor="end" fill="#000" stroke="#000" stroke-width="0.2" stroke-opacity="0.6">−1.0</text>
<text transform="translate(416.20,569.70) scale(0.92,1)" font-size="8.4" text-anchor="end" fill="#000" stroke="#000" stroke-width="0.2" stroke-opacity="0.6">−1.5</text>
<text transform="translate(419.50,575.70) scale(0.92,1)" font-size="8.4" text-anchor="middle" fill="#000" stroke="#000" stroke-width="0.2" stroke-opacity="0.6">0.00</text>
<text transform="translate(456.75,575.70) scale(0.92,1)" font-size="8.4" text-anchor="middle" fill="#000" stroke="#000" stroke-width="0.2" stroke-opacity="0.6">0.25</text>
<text transform="translate(494.00,575.70) scale(0.92,1)" font-size="8.4" text-anchor="middle" fill="#000" stroke="#000" stroke-width="0.2" stroke-opacity="0.6">0.50</text>
<text transform="translate(531.25,575.70) scale(0.92,1)" font-size="8.4" text-anchor="middle" fill="#000" stroke="#000" stroke-width="0.2" stroke-opacity="0.6">0.75</text>
<text transform="translate(568.50,575.70) scale(0.92,1)" font-size="8.4" text-anchor="middle" fill="#000" stroke="#000" stroke-width="0.2" stroke-opacity="0.6">1.00</text>
<text transform="translate(605.75,575.70) scale(0.92,1)" font-size="8.4" text-anchor="middle" fill="#000" stroke="#000" stroke-width="0.2" stroke-opacity="0.6">1.25</text>
<text transform="translate(643.00,575.70) scale(0.92,1)" font-size="8.4" text-anchor="middle" fill="#000" stroke="#000" stroke-width="0.2" stroke-opacity="0.6">1.50</text>
<text transform="translate(680.25,575.70) scale(0.92,1)" font-size="8.4" text-anchor="middle" fill="#000" stroke="#000" stroke-width="0.2" stroke-opacity="0.6">1.75</text>
<text transform="translate(717.50,575.70) scale(0.92,1)" font-size="8.4" text-anchor="middle" fill="#000" stroke="#000" stroke-width="0.2" stroke-opacity="0.6">2.00</text>
<text transform="translate(568.50,585.40) scale(0.9,1)" font-size="10.5" font-style="italic" text-anchor="middle" stroke="#000" stroke-width="0.2" stroke-opacity="0.6">z</text>
<text transform="translate(395.00,445.50) rotate(-90) scale(1.1,1)" font-size="9" text-anchor="middle" stroke="#000" stroke-width="0.2" stroke-opacity="0.6"><tspan font-style="italic">q</tspan>(<tspan font-style="italic">z</tspan>)</text>
<rect x="423.50" y="328.50" width="136.20" height="44.00" rx="2" fill="#fff" fill-opacity="0.8" stroke="#ccc" stroke-opacity="0.8" stroke-width="1"/>
<line x1="425.30" y1="333.40" x2="440.90" y2="333.40" stroke="#000" stroke-width="1.5"/>
<rect x="426.10" y="342.35" width="13.9" height="4.8" fill="rgb(153,204,153)"/>
<rect x="426.10" y="352.75" width="13.9" height="4.8" fill="rgb(0,0,255)" fill-opacity="0.3"/>
<rect x="426.10" y="363.30" width="13.9" height="4.8" fill="rgb(255,0,0)" fill-opacity="0.88"/>
<text transform="translate(446.00,336.60) scale(0.94,1)" font-size="8" font-style="italic" stroke="#000" stroke-width="0.2" stroke-opacity="0.6">Best ΛCDM</text>
<text x="446.00" y="346.80" font-size="8" stroke="#000" stroke-width="0.2" stroke-opacity="0.6">95% confidence interval, <tspan font-style="italic">H</tspan><tspan font-style="italic" font-size="5.5" dy="1.5">EXP</tspan></text>
<text x="446.00" y="357.70" font-size="8" stroke="#000" stroke-width="0.2" stroke-opacity="0.6">95% confidence interval, GA</text>
<text x="446.00" y="367.80" font-size="8" stroke="#000" stroke-width="0.2" stroke-opacity="0.6">95% confidence interval,<tspan font-style="italic">ΛCDM</tspan></text>
</svg></body></html>
